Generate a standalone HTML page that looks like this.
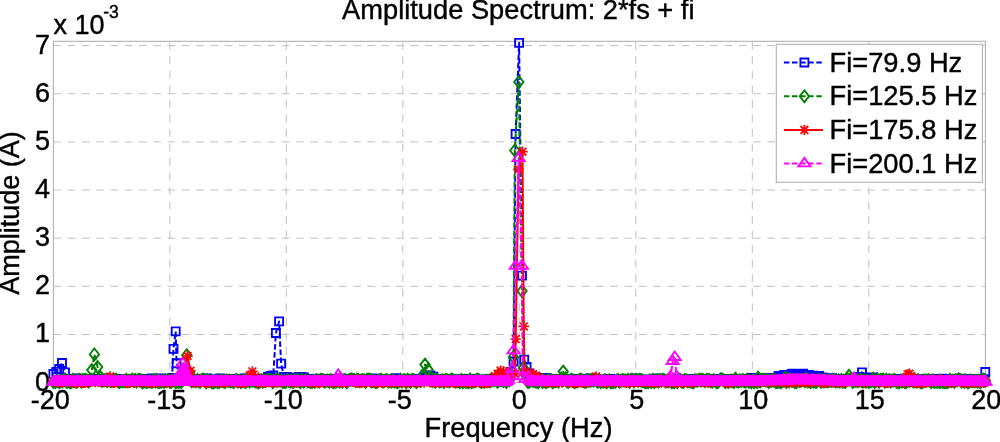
<!DOCTYPE html>
<html lang="en"><head><meta charset="utf-8"><title>Amplitude Spectrum: 2*fs + fi</title>
<style>html,body{margin:0;padding:0;background:#fff;overflow:hidden}svg{display:block}text{font-family:"Liberation Sans",Arial,Helvetica,sans-serif;fill:#000;stroke:#000;stroke-width:0.4px}</style></head><body>
<svg width="1000" height="442" viewBox="0 0 1000 442">
<rect x="0" y="0" width="1000" height="442" fill="#ffffff"/>
<g stroke="#c0c0c0" stroke-width="1" stroke-dasharray="7.8 6.72" fill="none">
<line x1="169.8" y1="41.9" x2="169.8" y2="382.6"/>
<line x1="286.3" y1="41.9" x2="286.3" y2="382.6"/>
<line x1="402.8" y1="41.9" x2="402.8" y2="382.6"/>
<line x1="519.3" y1="41.9" x2="519.3" y2="382.6"/>
<line x1="635.8" y1="41.9" x2="635.8" y2="382.6"/>
<line x1="752.3" y1="41.9" x2="752.3" y2="382.6"/>
<line x1="868.8" y1="41.9" x2="868.8" y2="382.6"/>
</g>
<g stroke="#c0c0c0" stroke-width="1" stroke-dasharray="7.6 6.68" fill="none">
<line x1="53.4" y1="334.5" x2="985.4" y2="334.5"/>
<line x1="53.4" y1="286.3" x2="985.4" y2="286.3"/>
<line x1="53.4" y1="238.2" x2="985.4" y2="238.2"/>
<line x1="53.4" y1="190" x2="985.4" y2="190"/>
<line x1="53.4" y1="141.9" x2="985.4" y2="141.9"/>
<line x1="53.4" y1="93.7" x2="985.4" y2="93.7"/>
<line x1="53.4" y1="45.6" x2="985.4" y2="45.6"/>
</g>
<rect x="53.4" y="41.3" width="932" height="341.3" fill="none" stroke="#b2b2b2" stroke-width="1.1"/>
<text x="50" y="390.5" font-size="27" text-anchor="end">0</text>
<text x="50" y="342.4" font-size="27" text-anchor="end">1</text>
<text x="50" y="294.2" font-size="27" text-anchor="end">2</text>
<text x="50" y="246.1" font-size="27" text-anchor="end">3</text>
<text x="50" y="198" font-size="27" text-anchor="end">4</text>
<text x="50" y="149.8" font-size="27" text-anchor="end">5</text>
<text x="50" y="101.7" font-size="27" text-anchor="end">6</text>
<text x="50" y="53.6" font-size="27" text-anchor="end">7</text>
<text x="50.3" y="409.1" font-size="27" text-anchor="middle">-20</text>
<text x="166.8" y="409.1" font-size="27" text-anchor="middle">-15</text>
<text x="283.3" y="409.1" font-size="27" text-anchor="middle">-10</text>
<text x="399.8" y="409.1" font-size="27" text-anchor="middle">-5</text>
<text x="519.3" y="409.1" font-size="27" text-anchor="middle">0</text>
<text x="636.8" y="409.1" font-size="27" text-anchor="middle">5</text>
<text x="753.3" y="409.1" font-size="27" text-anchor="middle">10</text>
<text x="869.8" y="409.1" font-size="27" text-anchor="middle">15</text>
<text x="986.3" y="409.1" font-size="27" text-anchor="middle">20</text>
<g id="s1">
<path d="M53.4 373.8L56.3 371.8L59.2 369L62 363L65 372.4L66.5 379.5L67.9 379L69.4 378.9L70.8 379.2L72.3 380L73.7 379.8L75.2 379.3L76.6 378.3L78.1 380L79.5 379.9L81 380L82.4 379.1L83.9 379.4L85.3 379.5L86.8 379.9L88.2 378.9L89.7 379L91.1 378.9L92.6 379L94 380L95.5 378.9L96.9 378.8L98.4 378.8L99.8 379.2L101.3 379.9L102.7 380L104.2 379.5L105.6 379.2L107.1 380.2L108.5 379.1L110 379.5L111.4 380.1L112.9 379.9L114.3 379.4L115.8 379L117.2 380.2L118.7 378.8L120.1 379.4L121.6 379.2L123 379L124.5 380.1L125.9 379.2L127.4 379L128.8 379.5L130.3 379.1L131.7 379.9L133.2 379.5L134.6 380.1L136.1 379.6L137.5 379.2L139 380.1L140.4 380L141.9 379.5L143.3 379.5L144.8 378.8L146.2 379.7L147.6 380.2L149.1 379.2L150.5 379.2L152 378.3L153.4 379.7L154.9 380L156.3 379.2L157.8 378.9L159.2 379.2L160.7 378.5L162.1 380.1L163.6 380L165 379.3L166.5 379.2L167.9 379L169.4 379.2L170.8 379.4L172 378L173.5 348.8L175.7 331.4L176.6 363.2L179.2 378L181 378.9L182.4 379.9L183.9 379.9L185.3 379.8L186.8 378.9L188.2 379.8L189.7 379.5L191.1 378.9L192.6 380.2L194 379.9L195.5 379.2L196.9 378.9L198.4 379.2L199.8 380.1L201.3 379.4L202.7 379.1L204.2 379.5L205.6 380L207.1 378.4L208.5 379.3L210 380L211.4 379.2L212.9 379.3L214.3 380L215.8 379.5L217.2 379.9L218.7 379.2L220.1 378.4L221.6 379.2L223 379.2L224.5 379.1L225.9 380.2L227.4 379.3L228.8 380L230.3 379.3L231.7 379L233.2 379.2L234.6 380L236.1 380.1L237.5 380.1L239 379L240.4 379.8L241.9 378.9L243.3 379.2L244.8 378.5L246.2 379.4L247.7 380L249.1 379.8L250.6 379.4L252 378.8L253.5 379.9L254.9 379.2L256.4 379.2L257.8 379.4L259.3 379.1L260.7 379.4L262.2 380.1L263.6 378.8L265.1 378.8L266.5 380.1L268 377L270.6 375.8L273.3 375.4L275.9 333L279.1 321.4L281.1 363.6L284 376.8L286.9 377L289.5 378L291.2 379.1L292.6 379.6L294.1 379.1L295.5 379.5L296.5 377.6L299 377L301.5 376.8L304 377.4L305.7 379.5L307.1 378.9L308.6 379.2L310 379.4L311.5 379.8L312.9 379.9L314.4 378.8L315.8 379.7L317.3 379.5L318.7 380.2L320.2 378.7L321.6 380L323.1 380L324.5 379.5L326 379.6L327.4 379L328.9 379.4L330.3 378.9L331.8 379.9L333.2 379L334.7 378.9L336.1 379.1L337.6 380L339 380.2L340.5 379.9L341.9 379L343.4 379.5L344.8 379.1L346.3 380.1L347.7 379.7L349.2 380L350.6 379.9L352.1 379.9L353.5 379.9L355 379.7L356.4 379.7L357.9 379.1L359.3 378.9L360.8 379.1L362.2 379.1L363.7 379.9L365.1 379.6L366.6 379.8L368 379.4L369.5 379.6L370.9 379.5L372.4 378.5L373.8 380L375.3 379.1L376.7 379.8L378.2 379.6L379.6 379.7L381.1 379.2L382.5 379.3L384 379.7L385.4 380L386.9 379.6L388.3 380.1L389.8 379.3L391.2 379.7L392.7 379.3L394.1 380L395.6 378.2L397 379.7L398.5 379.1L399.9 379.2L401.4 379.5L402.8 379.4L404.3 379.1L405.7 378.8L407.2 379.5L408.6 379.3L410.1 379.1L411.5 378.9L413 379.3L414.4 379.9L415.9 379.3L417.3 379.9L418.8 379L420.2 379.4L421.7 380L423.1 380L424.6 377.4L427.5 376.4L430.4 375.4L433.3 376.6L434.7 379.1L436.2 380L437.6 379.7L439.1 379.7L440.5 379.4L442 379.9L443.4 379.6L444.9 378.9L446.3 379.7L447.8 379.1L449.2 380.2L450.7 378.8L452.1 379.2L453.6 379.1L455 379.9L456.5 379.1L457.9 379.9L459.4 380L460.8 379.2L462.3 379.2L463.7 379.7L465.2 378.9L466.6 380L468.1 379.7L469.5 379.9L471 379L472.4 380.1L473.9 379.5L475.3 379.2L476.8 379.5L478.2 379.3L479.7 380L481.1 379.7L482.6 380.1L484 379.5L485.5 379.3L486.9 379.4L488.4 379.9L489.8 380.1L491.3 379.1L492.7 379.6L494.2 378.5L495.6 379.4L497.1 379L498.5 378.7L500 378.4L501.4 378.4L502.9 377.9L504.3 377.2L505.8 376.7L507.5 376.5L510.6 372L513.6 361.5L515.6 134L519.1 42.9L522 275.6L524.2 359.6L526.6 367L529.5 373.5L530.4 377.3L531.9 377.1L533.3 377.1L534.8 377.9L536.2 377.6L537.7 377.9L539.1 378.5L540.6 379L542 378.8L543.5 378.6L544.9 379.7L546.4 377.9L547.8 379.1L549.3 379.9L550.7 379L552.2 379.4L553.6 379.4L555.1 379.7L556.5 379L558 379.2L559.4 378.9L560.9 378.9L562.3 379.2L563.8 379.2L565.2 379L566.7 378.9L568.1 380L569.6 380L571 379.5L572.5 379.8L573.9 379.4L575.4 379L576.8 379.4L578.3 379.2L579.7 380.2L581.2 378.9L582.6 379.9L584.1 379.5L585.5 379.6L587 379L588.4 379.1L589.9 378.5L591.3 379.9L592.8 378.8L594.2 379.1L595.7 379.2L597.1 379.8L598.6 379.3L600 379.5L601.5 380.2L602.9 379.9L604.4 379.6L605.9 380L607.3 379.5L608.8 379.6L610.2 379L611.7 380L613.1 379.3L614.6 379.9L616 379.5L617.5 379.7L618.9 379.4L620.4 379.7L621.8 379.7L623.3 380.1L624.7 380.1L626.2 379.6L627.6 379.5L629.1 379.4L630.5 380L632 379.8L633.4 379.2L634.9 379.3L636.3 379.5L637.8 378.3L639.2 379.4L640.7 379.8L642.1 379.7L643.6 379.8L645 380.1L646.5 379.6L647.9 379.9L649.4 379.4L650.8 379.3L652.3 379.4L653.7 379.6L655.2 380L656.6 378.3L658.1 379.6L659.5 379.3L661 379.7L662.4 379.6L663.9 379.4L665.3 379.9L666.8 379.5L668.2 380.2L669.7 379.5L671.1 379.6L672.6 379.4L674 379.2L675.5 379.5L676.9 380.2L678.4 379.9L679.8 380L681.3 379.9L682.7 379.2L684.2 379.4L685.6 380.1L687.1 380.1L688.5 379.2L690 379.1L691.4 380L692.9 379.3L694.3 379L695.8 379L697.2 379.2L698.7 379L700.1 379L701.6 379.3L703 380.1L704.5 379.8L705.9 379.1L707.4 379.5L708.8 379.7L710.3 379L711.7 379.6L713.2 379.2L714.6 379.4L716.1 379L717.5 379.3L719 380L720.4 380.1L721.9 379L723.3 379.2L724.8 379.8L726.2 378.8L727.7 380L729.1 379.9L730.6 379.8L732 378.9L733.5 379.8L734.9 379.8L736.4 379.3L737.8 380.1L739.3 379.3L740.7 379.8L742.2 379.4L743.6 379L745.1 379.8L746.5 379.8L748 378.8L749.4 378.9L750.9 378L752.3 380.1L753.8 378.9L755.2 379.5L756.7 378.1L758.1 379.3L759.6 379.6L761 378.8L762.5 378.1L763.9 379.4L765.4 378.6L766.8 378.7L768.3 378.3L769.7 378.8L771.2 378L772.6 378.6L774.1 377.9L775.5 377.8L777 377.9L778.4 376.1L779.9 375.9L781.3 377.4L782.8 376.3L784.2 374.8L785.7 377.1L787.1 376.1L788.6 376.3L790 375L791.5 373.9L792.9 373.6L794.4 375.3L795.8 374.7L797.3 374.2L798.7 376.1L800.2 374.3L801.6 374.5L803.1 373.6L804.5 376L806 376.3L807.4 375.3L808.9 375L810.3 376.8L811.8 375.7L813.2 375.6L814.7 376.8L816.1 376.3L817.6 377.5L819 376L820.5 378L821.9 377.4L823.4 377.7L824.8 378.5L826.3 379L827.7 378.5L829.2 378.1L830.6 378.7L832.1 378.2L833.5 378.8L835 379.3L836.4 379.3L837.9 379L839.3 379.3L840.8 378.8L842.2 378.9L843.7 379.7L845.1 379.9L846.6 379.9L848 379.8L849.5 378.8L850.9 379.5L852.4 380.1L853.8 379.8L855.3 379.9L856.7 379.6L858.2 379.8L859.2 377L862 372.4L864.9 377.5L866.9 379L868.3 378.8L869.8 379.7L871.2 380.1L873 377.4L874.1 380.1L875.6 379.2L877 379.7L878.5 379L879.9 380L881.4 379L882.8 380L884.3 380L885.7 378.8L887.2 379L888.6 378.9L890.1 380L891.5 379.5L893 380.2L894.4 379L895.9 379.8L897.3 380.1L898.8 379.8L900.2 378.9L901.7 378.8L903.1 379.8L904.6 379.2L906 379.4L907.5 380.1L908.9 379.1L910.4 378.9L911.8 379.2L913.3 379.5L914.7 379.8L916.2 379.7L917.6 379.1L919.1 379.8L920.5 380.1L922 379.1L923.4 380L924.9 380L926.3 378.9L927.8 378.9L929.2 379.5L930.7 379.3L932.1 379.2L933.6 379.8L935 378.9L936.5 379.9L937.9 379.3L939.4 379.9L940.8 379.1L942.3 378.6L943.7 380.1L945.2 379.4L946.6 379.4L948.1 379.8L949.5 379.9L951 379.9L952.4 378.9L953.9 379.8L955.3 380L956.8 380.2L958.2 380L959.7 379.2L961.1 378.6L962.6 379.6L964 379.3L965.5 379.3L966.9 379.9L968.4 379.7L969.8 378.9L971.3 379.9L972.7 379.1L974.2 378.9L975.6 379.7L977.1 378.9L978.5 379.1L980 380.1L981.4 380.2L982.9 379.1L984.3 379.4L985.3 372" fill="none" stroke="#0000ff" stroke-width="2.0" stroke-linejoin="round" stroke-dasharray="5.5 2.6"/>
<path d="M49.4 369.8h8v8h-8zM52.3 367.8h8v8h-8zM55.2 365h8v8h-8zM58 359h8v8h-8zM61 368.4h8v8h-8zM62.5 375.5h8v8h-8zM63.9 375h8v8h-8zM65.4 374.9h8v8h-8zM66.8 375.2h8v8h-8zM68.3 376h8v8h-8zM69.7 375.8h8v8h-8zM71.2 375.3h8v8h-8zM72.6 374.3h8v8h-8zM74.1 376h8v8h-8zM75.5 375.9h8v8h-8zM77 376h8v8h-8zM78.4 375.1h8v8h-8zM79.9 375.4h8v8h-8zM81.3 375.5h8v8h-8zM82.8 375.9h8v8h-8zM84.2 374.9h8v8h-8zM85.7 375h8v8h-8zM87.1 374.9h8v8h-8zM88.6 375h8v8h-8zM90 376h8v8h-8zM91.5 374.9h8v8h-8zM92.9 374.8h8v8h-8zM94.4 374.8h8v8h-8zM95.8 375.2h8v8h-8zM97.3 375.9h8v8h-8zM98.7 376h8v8h-8zM100.2 375.5h8v8h-8zM101.6 375.2h8v8h-8zM103.1 376.2h8v8h-8zM104.5 375.1h8v8h-8zM106 375.5h8v8h-8zM107.4 376.1h8v8h-8zM108.9 375.9h8v8h-8zM110.3 375.4h8v8h-8zM111.8 375h8v8h-8zM113.2 376.2h8v8h-8zM114.7 374.8h8v8h-8zM116.1 375.4h8v8h-8zM117.6 375.2h8v8h-8zM119 375h8v8h-8zM120.5 376.1h8v8h-8zM121.9 375.2h8v8h-8zM123.4 375h8v8h-8zM124.8 375.5h8v8h-8zM126.3 375.1h8v8h-8zM127.7 375.9h8v8h-8zM129.2 375.5h8v8h-8zM130.6 376.1h8v8h-8zM132.1 375.6h8v8h-8zM133.5 375.2h8v8h-8zM135 376.1h8v8h-8zM136.4 376h8v8h-8zM137.9 375.5h8v8h-8zM139.3 375.5h8v8h-8zM140.8 374.8h8v8h-8zM142.2 375.7h8v8h-8zM143.6 376.2h8v8h-8zM145.1 375.2h8v8h-8zM146.5 375.2h8v8h-8zM148 374.3h8v8h-8zM149.4 375.7h8v8h-8zM150.9 376h8v8h-8zM152.3 375.2h8v8h-8zM153.8 374.9h8v8h-8zM155.2 375.2h8v8h-8zM156.7 374.5h8v8h-8zM158.1 376.1h8v8h-8zM159.6 376h8v8h-8zM161 375.3h8v8h-8zM162.5 375.2h8v8h-8zM163.9 375h8v8h-8zM165.4 375.2h8v8h-8zM166.8 375.4h8v8h-8zM168 374h8v8h-8zM169.5 344.8h8v8h-8zM171.7 327.4h8v8h-8zM172.6 359.2h8v8h-8zM175.2 374h8v8h-8zM177 374.9h8v8h-8zM178.4 375.9h8v8h-8zM179.9 375.9h8v8h-8zM181.3 375.8h8v8h-8zM182.8 374.9h8v8h-8zM184.2 375.8h8v8h-8zM185.7 375.5h8v8h-8zM187.1 374.9h8v8h-8zM188.6 376.2h8v8h-8zM190 375.9h8v8h-8zM191.5 375.2h8v8h-8zM192.9 374.9h8v8h-8zM194.4 375.2h8v8h-8zM195.8 376.1h8v8h-8zM197.3 375.4h8v8h-8zM198.7 375.1h8v8h-8zM200.2 375.5h8v8h-8zM201.6 376h8v8h-8zM203.1 374.4h8v8h-8zM204.5 375.3h8v8h-8zM206 376h8v8h-8zM207.4 375.2h8v8h-8zM208.9 375.3h8v8h-8zM210.3 376h8v8h-8zM211.8 375.5h8v8h-8zM213.2 375.9h8v8h-8zM214.7 375.2h8v8h-8zM216.1 374.4h8v8h-8zM217.6 375.2h8v8h-8zM219 375.2h8v8h-8zM220.5 375.1h8v8h-8zM221.9 376.2h8v8h-8zM223.4 375.3h8v8h-8zM224.8 376h8v8h-8zM226.3 375.3h8v8h-8zM227.7 375h8v8h-8zM229.2 375.2h8v8h-8zM230.6 376h8v8h-8zM232.1 376.1h8v8h-8zM233.5 376.1h8v8h-8zM235 375h8v8h-8zM236.4 375.8h8v8h-8zM237.9 374.9h8v8h-8zM239.3 375.2h8v8h-8zM240.8 374.5h8v8h-8zM242.2 375.4h8v8h-8zM243.7 376h8v8h-8zM245.1 375.8h8v8h-8zM246.6 375.4h8v8h-8zM248 374.8h8v8h-8zM249.5 375.9h8v8h-8zM250.9 375.2h8v8h-8zM252.4 375.2h8v8h-8zM253.8 375.4h8v8h-8zM255.3 375.1h8v8h-8zM256.7 375.4h8v8h-8zM258.2 376.1h8v8h-8zM259.6 374.8h8v8h-8zM261.1 374.8h8v8h-8zM262.5 376.1h8v8h-8zM264 373h8v8h-8zM266.6 371.8h8v8h-8zM269.3 371.4h8v8h-8zM271.9 329h8v8h-8zM275.1 317.4h8v8h-8zM277.1 359.6h8v8h-8zM280 372.8h8v8h-8zM282.9 373h8v8h-8zM285.5 374h8v8h-8zM287.2 375.1h8v8h-8zM288.6 375.6h8v8h-8zM290.1 375.1h8v8h-8zM291.5 375.5h8v8h-8zM292.5 373.6h8v8h-8zM295 373h8v8h-8zM297.5 372.8h8v8h-8zM300 373.4h8v8h-8zM301.7 375.5h8v8h-8zM303.1 374.9h8v8h-8zM304.6 375.2h8v8h-8zM306 375.4h8v8h-8zM307.5 375.8h8v8h-8zM308.9 375.9h8v8h-8zM310.4 374.8h8v8h-8zM311.8 375.7h8v8h-8zM313.3 375.5h8v8h-8zM314.7 376.2h8v8h-8zM316.2 374.7h8v8h-8zM317.6 376h8v8h-8zM319.1 376h8v8h-8zM320.5 375.5h8v8h-8zM322 375.6h8v8h-8zM323.4 375h8v8h-8zM324.9 375.4h8v8h-8zM326.3 374.9h8v8h-8zM327.8 375.9h8v8h-8zM329.2 375h8v8h-8zM330.7 374.9h8v8h-8zM332.1 375.1h8v8h-8zM333.6 376h8v8h-8zM335 376.2h8v8h-8zM336.5 375.9h8v8h-8zM337.9 375h8v8h-8zM339.4 375.5h8v8h-8zM340.8 375.1h8v8h-8zM342.3 376.1h8v8h-8zM343.7 375.7h8v8h-8zM345.2 376h8v8h-8zM346.6 375.9h8v8h-8zM348.1 375.9h8v8h-8zM349.5 375.9h8v8h-8zM351 375.7h8v8h-8zM352.4 375.7h8v8h-8zM353.9 375.1h8v8h-8zM355.3 374.9h8v8h-8zM356.8 375.1h8v8h-8zM358.2 375.1h8v8h-8zM359.7 375.9h8v8h-8zM361.1 375.6h8v8h-8zM362.6 375.8h8v8h-8zM364 375.4h8v8h-8zM365.5 375.6h8v8h-8zM366.9 375.5h8v8h-8zM368.4 374.5h8v8h-8zM369.8 376h8v8h-8zM371.3 375.1h8v8h-8zM372.7 375.8h8v8h-8zM374.2 375.6h8v8h-8zM375.6 375.7h8v8h-8zM377.1 375.2h8v8h-8zM378.5 375.3h8v8h-8zM380 375.7h8v8h-8zM381.4 376h8v8h-8zM382.9 375.6h8v8h-8zM384.3 376.1h8v8h-8zM385.8 375.3h8v8h-8zM387.2 375.7h8v8h-8zM388.7 375.3h8v8h-8zM390.1 376h8v8h-8zM391.6 374.2h8v8h-8zM393 375.7h8v8h-8zM394.5 375.1h8v8h-8zM395.9 375.2h8v8h-8zM397.4 375.5h8v8h-8zM398.8 375.4h8v8h-8zM400.3 375.1h8v8h-8zM401.7 374.8h8v8h-8zM403.2 375.5h8v8h-8zM404.6 375.3h8v8h-8zM406.1 375.1h8v8h-8zM407.5 374.9h8v8h-8zM409 375.3h8v8h-8zM410.4 375.9h8v8h-8zM411.9 375.3h8v8h-8zM413.3 375.9h8v8h-8zM414.8 375h8v8h-8zM416.2 375.4h8v8h-8zM417.7 376h8v8h-8zM419.1 376h8v8h-8zM420.6 373.4h8v8h-8zM423.5 372.4h8v8h-8zM426.4 371.4h8v8h-8zM429.3 372.6h8v8h-8zM430.7 375.1h8v8h-8zM432.2 376h8v8h-8zM433.6 375.7h8v8h-8zM435.1 375.7h8v8h-8zM436.5 375.4h8v8h-8zM438 375.9h8v8h-8zM439.4 375.6h8v8h-8zM440.9 374.9h8v8h-8zM442.3 375.7h8v8h-8zM443.8 375.1h8v8h-8zM445.2 376.2h8v8h-8zM446.7 374.8h8v8h-8zM448.1 375.2h8v8h-8zM449.6 375.1h8v8h-8zM451 375.9h8v8h-8zM452.5 375.1h8v8h-8zM453.9 375.9h8v8h-8zM455.4 376h8v8h-8zM456.8 375.2h8v8h-8zM458.3 375.2h8v8h-8zM459.7 375.7h8v8h-8zM461.2 374.9h8v8h-8zM462.6 376h8v8h-8zM464.1 375.7h8v8h-8zM465.5 375.9h8v8h-8zM467 375h8v8h-8zM468.4 376.1h8v8h-8zM469.9 375.5h8v8h-8zM471.3 375.2h8v8h-8zM472.8 375.5h8v8h-8zM474.2 375.3h8v8h-8zM475.7 376h8v8h-8zM477.1 375.7h8v8h-8zM478.6 376.1h8v8h-8zM480 375.5h8v8h-8zM481.5 375.3h8v8h-8zM482.9 375.4h8v8h-8zM484.4 375.9h8v8h-8zM485.8 376.1h8v8h-8zM487.3 375.1h8v8h-8zM488.7 375.6h8v8h-8zM490.2 374.5h8v8h-8zM491.6 375.4h8v8h-8zM493.1 375h8v8h-8zM494.5 374.7h8v8h-8zM496 374.4h8v8h-8zM497.4 374.4h8v8h-8zM498.9 373.9h8v8h-8zM500.3 373.2h8v8h-8zM501.8 372.7h8v8h-8zM503.5 372.5h8v8h-8zM506.6 368h8v8h-8zM509.6 357.5h8v8h-8zM511.6 130h8v8h-8zM515.1 38.9h8v8h-8zM518 271.6h8v8h-8zM520.2 355.6h8v8h-8zM522.6 363h8v8h-8zM525.5 369.5h8v8h-8zM526.4 373.3h8v8h-8zM527.9 373.1h8v8h-8zM529.3 373.1h8v8h-8zM530.8 373.9h8v8h-8zM532.2 373.6h8v8h-8zM533.7 373.9h8v8h-8zM535.1 374.5h8v8h-8zM536.6 375h8v8h-8zM538 374.8h8v8h-8zM539.5 374.6h8v8h-8zM540.9 375.7h8v8h-8zM542.4 373.9h8v8h-8zM543.8 375.1h8v8h-8zM545.3 375.9h8v8h-8zM546.7 375h8v8h-8zM548.2 375.4h8v8h-8zM549.6 375.4h8v8h-8zM551.1 375.7h8v8h-8zM552.5 375h8v8h-8zM554 375.2h8v8h-8zM555.4 374.9h8v8h-8zM556.9 374.9h8v8h-8zM558.3 375.2h8v8h-8zM559.8 375.2h8v8h-8zM561.2 375h8v8h-8zM562.7 374.9h8v8h-8zM564.1 376h8v8h-8zM565.6 376h8v8h-8zM567 375.5h8v8h-8zM568.5 375.8h8v8h-8zM569.9 375.4h8v8h-8zM571.4 375h8v8h-8zM572.8 375.4h8v8h-8zM574.3 375.2h8v8h-8zM575.7 376.2h8v8h-8zM577.2 374.9h8v8h-8zM578.6 375.9h8v8h-8zM580.1 375.5h8v8h-8zM581.5 375.6h8v8h-8zM583 375h8v8h-8zM584.4 375.1h8v8h-8zM585.9 374.5h8v8h-8zM587.3 375.9h8v8h-8zM588.8 374.8h8v8h-8zM590.2 375.1h8v8h-8zM591.7 375.2h8v8h-8zM593.1 375.8h8v8h-8zM594.6 375.3h8v8h-8zM596 375.5h8v8h-8zM597.5 376.2h8v8h-8zM598.9 375.9h8v8h-8zM600.4 375.6h8v8h-8zM601.9 376h8v8h-8zM603.3 375.5h8v8h-8zM604.8 375.6h8v8h-8zM606.2 375h8v8h-8zM607.7 376h8v8h-8zM609.1 375.3h8v8h-8zM610.6 375.9h8v8h-8zM612 375.5h8v8h-8zM613.5 375.7h8v8h-8zM614.9 375.4h8v8h-8zM616.4 375.7h8v8h-8zM617.8 375.7h8v8h-8zM619.3 376.1h8v8h-8zM620.7 376.1h8v8h-8zM622.2 375.6h8v8h-8zM623.6 375.5h8v8h-8zM625.1 375.4h8v8h-8zM626.5 376h8v8h-8zM628 375.8h8v8h-8zM629.4 375.2h8v8h-8zM630.9 375.3h8v8h-8zM632.3 375.5h8v8h-8zM633.8 374.3h8v8h-8zM635.2 375.4h8v8h-8zM636.7 375.8h8v8h-8zM638.1 375.7h8v8h-8zM639.6 375.8h8v8h-8zM641 376.1h8v8h-8zM642.5 375.6h8v8h-8zM643.9 375.9h8v8h-8zM645.4 375.4h8v8h-8zM646.8 375.3h8v8h-8zM648.3 375.4h8v8h-8zM649.7 375.6h8v8h-8zM651.2 376h8v8h-8zM652.6 374.3h8v8h-8zM654.1 375.6h8v8h-8zM655.5 375.3h8v8h-8zM657 375.7h8v8h-8zM658.4 375.6h8v8h-8zM659.9 375.4h8v8h-8zM661.3 375.9h8v8h-8zM662.8 375.5h8v8h-8zM664.2 376.2h8v8h-8zM665.7 375.5h8v8h-8zM667.1 375.6h8v8h-8zM668.6 375.4h8v8h-8zM670 375.2h8v8h-8zM671.5 375.5h8v8h-8zM672.9 376.2h8v8h-8zM674.4 375.9h8v8h-8zM675.8 376h8v8h-8zM677.3 375.9h8v8h-8zM678.7 375.2h8v8h-8zM680.2 375.4h8v8h-8zM681.6 376.1h8v8h-8zM683.1 376.1h8v8h-8zM684.5 375.2h8v8h-8zM686 375.1h8v8h-8zM687.4 376h8v8h-8zM688.9 375.3h8v8h-8zM690.3 375h8v8h-8zM691.8 375h8v8h-8zM693.2 375.2h8v8h-8zM694.7 375h8v8h-8zM696.1 375h8v8h-8zM697.6 375.3h8v8h-8zM699 376.1h8v8h-8zM700.5 375.8h8v8h-8zM701.9 375.1h8v8h-8zM703.4 375.5h8v8h-8zM704.8 375.7h8v8h-8zM706.3 375h8v8h-8zM707.7 375.6h8v8h-8zM709.2 375.2h8v8h-8zM710.6 375.4h8v8h-8zM712.1 375h8v8h-8zM713.5 375.3h8v8h-8zM715 376h8v8h-8zM716.4 376.1h8v8h-8zM717.9 375h8v8h-8zM719.3 375.2h8v8h-8zM720.8 375.8h8v8h-8zM722.2 374.8h8v8h-8zM723.7 376h8v8h-8zM725.1 375.9h8v8h-8zM726.6 375.8h8v8h-8zM728 374.9h8v8h-8zM729.5 375.8h8v8h-8zM730.9 375.8h8v8h-8zM732.4 375.3h8v8h-8zM733.8 376.1h8v8h-8zM735.3 375.3h8v8h-8zM736.7 375.8h8v8h-8zM738.2 375.4h8v8h-8zM739.6 375h8v8h-8zM741.1 375.8h8v8h-8zM742.5 375.8h8v8h-8zM744 374.8h8v8h-8zM745.4 374.9h8v8h-8zM746.9 374h8v8h-8zM748.3 376.1h8v8h-8zM749.8 374.9h8v8h-8zM751.2 375.5h8v8h-8zM752.7 374.1h8v8h-8zM754.1 375.3h8v8h-8zM755.6 375.6h8v8h-8zM757 374.8h8v8h-8zM758.5 374.1h8v8h-8zM759.9 375.4h8v8h-8zM761.4 374.6h8v8h-8zM762.8 374.7h8v8h-8zM764.3 374.3h8v8h-8zM765.7 374.8h8v8h-8zM767.2 374h8v8h-8zM768.6 374.6h8v8h-8zM770.1 373.9h8v8h-8zM771.5 373.8h8v8h-8zM773 373.9h8v8h-8zM774.4 372.1h8v8h-8zM775.9 371.9h8v8h-8zM777.3 373.4h8v8h-8zM778.8 372.3h8v8h-8zM780.2 370.8h8v8h-8zM781.7 373.1h8v8h-8zM783.1 372.1h8v8h-8zM784.6 372.3h8v8h-8zM786 371h8v8h-8zM787.5 369.9h8v8h-8zM788.9 369.6h8v8h-8zM790.4 371.3h8v8h-8zM791.8 370.7h8v8h-8zM793.3 370.2h8v8h-8zM794.7 372.1h8v8h-8zM796.2 370.3h8v8h-8zM797.6 370.5h8v8h-8zM799.1 369.6h8v8h-8zM800.5 372h8v8h-8zM802 372.3h8v8h-8zM803.4 371.3h8v8h-8zM804.9 371h8v8h-8zM806.3 372.8h8v8h-8zM807.8 371.7h8v8h-8zM809.2 371.6h8v8h-8zM810.7 372.8h8v8h-8zM812.1 372.3h8v8h-8zM813.6 373.5h8v8h-8zM815 372h8v8h-8zM816.5 374h8v8h-8zM817.9 373.4h8v8h-8zM819.4 373.7h8v8h-8zM820.8 374.5h8v8h-8zM822.3 375h8v8h-8zM823.7 374.5h8v8h-8zM825.2 374.1h8v8h-8zM826.6 374.7h8v8h-8zM828.1 374.2h8v8h-8zM829.5 374.8h8v8h-8zM831 375.3h8v8h-8zM832.4 375.3h8v8h-8zM833.9 375h8v8h-8zM835.3 375.3h8v8h-8zM836.8 374.8h8v8h-8zM838.2 374.9h8v8h-8zM839.7 375.7h8v8h-8zM841.1 375.9h8v8h-8zM842.6 375.9h8v8h-8zM844 375.8h8v8h-8zM845.5 374.8h8v8h-8zM846.9 375.5h8v8h-8zM848.4 376.1h8v8h-8zM849.8 375.8h8v8h-8zM851.3 375.9h8v8h-8zM852.7 375.6h8v8h-8zM854.2 375.8h8v8h-8zM855.2 373h8v8h-8zM858 368.4h8v8h-8zM860.9 373.5h8v8h-8zM862.9 375h8v8h-8zM864.3 374.8h8v8h-8zM865.8 375.7h8v8h-8zM867.2 376.1h8v8h-8zM869 373.4h8v8h-8zM870.1 376.1h8v8h-8zM871.6 375.2h8v8h-8zM873 375.7h8v8h-8zM874.5 375h8v8h-8zM875.9 376h8v8h-8zM877.4 375h8v8h-8zM878.8 376h8v8h-8zM880.3 376h8v8h-8zM881.7 374.8h8v8h-8zM883.2 375h8v8h-8zM884.6 374.9h8v8h-8zM886.1 376h8v8h-8zM887.5 375.5h8v8h-8zM889 376.2h8v8h-8zM890.4 375h8v8h-8zM891.9 375.8h8v8h-8zM893.3 376.1h8v8h-8zM894.8 375.8h8v8h-8zM896.2 374.9h8v8h-8zM897.7 374.8h8v8h-8zM899.1 375.8h8v8h-8zM900.6 375.2h8v8h-8zM902 375.4h8v8h-8zM903.5 376.1h8v8h-8zM904.9 375.1h8v8h-8zM906.4 374.9h8v8h-8zM907.8 375.2h8v8h-8zM909.3 375.5h8v8h-8zM910.7 375.8h8v8h-8zM912.2 375.7h8v8h-8zM913.6 375.1h8v8h-8zM915.1 375.8h8v8h-8zM916.5 376.1h8v8h-8zM918 375.1h8v8h-8zM919.4 376h8v8h-8zM920.9 376h8v8h-8zM922.3 374.9h8v8h-8zM923.8 374.9h8v8h-8zM925.2 375.5h8v8h-8zM926.7 375.3h8v8h-8zM928.1 375.2h8v8h-8zM929.6 375.8h8v8h-8zM931 374.9h8v8h-8zM932.5 375.9h8v8h-8zM933.9 375.3h8v8h-8zM935.4 375.9h8v8h-8zM936.8 375.1h8v8h-8zM938.3 374.6h8v8h-8zM939.7 376.1h8v8h-8zM941.2 375.4h8v8h-8zM942.6 375.4h8v8h-8zM944.1 375.8h8v8h-8zM945.5 375.9h8v8h-8zM947 375.9h8v8h-8zM948.4 374.9h8v8h-8zM949.9 375.8h8v8h-8zM951.3 376h8v8h-8zM952.8 376.2h8v8h-8zM954.2 376h8v8h-8zM955.7 375.2h8v8h-8zM957.1 374.6h8v8h-8zM958.6 375.6h8v8h-8zM960 375.3h8v8h-8zM961.5 375.3h8v8h-8zM962.9 375.9h8v8h-8zM964.4 375.7h8v8h-8zM965.8 374.9h8v8h-8zM967.3 375.9h8v8h-8zM968.7 375.1h8v8h-8zM970.2 374.9h8v8h-8zM971.6 375.7h8v8h-8zM973.1 374.9h8v8h-8zM974.5 375.1h8v8h-8zM976 376.1h8v8h-8zM977.4 376.2h8v8h-8zM978.9 375.1h8v8h-8zM980.3 375.4h8v8h-8zM981.3 368h8v8h-8z" fill="none" stroke="#0000ff" stroke-width="1.85" stroke-linejoin="miter"/>
</g>
<g id="s2">
<path d="M53.4 382.2L55.4 382.2L56.8 380.4L58.3 381.7L59.7 382.2L61.2 381L62.6 381.3L64.1 379.8L65.5 380.4L67 382L68.4 381.2L69.9 382.3L71.3 382.2L72.8 379.7L74.2 380.9L75.7 381.7L77.1 381.8L78.6 379.8L80 379.9L81.5 381.8L82.9 380L84.4 379.9L85.8 380L87.3 380.6L88.7 381.5L90.2 380.1L91.8 370L94.4 354.4L97.6 367L100.4 377L101.8 381L103.2 380.2L104.7 380.2L106.1 380.3L107.6 381L109 379.6L110.5 381L111.9 381.2L113.4 380.2L114.8 380L116.3 379.7L117.7 381.1L119.2 382.1L120.6 381.2L122.1 381.3L123.5 381.2L125 381.3L126.4 379.7L127.9 381.5L129.3 380.6L130.8 380.9L132.2 379.6L133.7 380.8L135.1 379.8L136.6 381.7L138 380L139.5 380L140.9 380.2L142.4 382.3L143.8 381.8L145.2 381L146.7 382.1L148.1 381.4L149.6 381.4L151 381.8L152.5 381.6L153.9 380.1L155.4 381.5L156.8 380L158.3 382.2L159.7 381.7L161.2 381.8L162.6 380.8L164.1 381.8L165.5 380.4L167 381.1L168.4 379.9L169.9 381.8L171.3 381.9L172.8 380.2L174.2 380.3L175.7 382.1L177.1 381.6L178.6 381.8L180 381.5L181.5 381.9L182.9 379.8L184 372L186.8 355.2L189.7 372.5L191.6 381.3L193.1 380.5L194.5 380.6L196 381.3L197.4 379.8L198.9 381.6L200.3 381.5L201.8 379.9L203.2 379.7L204.7 380.1L206.1 382.3L207.6 380.2L209 381.3L210.5 380.7L211.9 382.3L213.4 382.4L214.8 381.9L216.3 380.8L217.7 382.2L219.2 381.9L220.6 380.6L222.1 381.1L223.5 381L225 382.2L226.4 380.4L227.9 380.8L229.3 380.6L230.8 381.4L232.2 381.1L233.7 382.1L235.1 380.6L236.6 379.8L238 381.5L239.5 380.9L240.9 382.1L242.4 381.2L243.8 380L245.3 382.1L246.7 381.2L248.2 379.7L249.6 381.7L251.1 380.4L252.5 380.4L254 380.8L255.4 381.4L256.9 381.5L258.3 382.3L259.8 381.5L261.2 380.1L262.7 381.9L264.1 380.6L265.6 381L267 380.1L268.5 380.1L269.9 379.7L271.4 380.7L272.8 382.3L274.3 380.5L275.7 380.2L277.2 380.8L278.6 380.3L280.1 380.7L281.5 380.3L283 382.1L284.4 381.9L285.9 381.8L287.3 380L288.8 380.9L290.2 381.5L291.7 380.4L293.1 382.2L294.6 380.4L296 380.3L297.5 379.7L298.9 381.2L300.4 382.2L301.8 379.4L303.3 381.7L304.7 380.8L306.2 379.9L307.6 381.4L309.1 381.4L310.5 381.8L312 382.2L313.4 380.6L314.9 381.9L316.3 380.1L317.8 381.1L319.2 381.5L320.7 380L322.1 379.8L323.6 381L325 381.5L326.5 380.7L327.9 380.4L329.4 381.8L330.8 380L332.3 381.7L333.7 382.1L335.2 381.7L336.6 381.4L338.1 380L339.5 381.6L341 379.4L342.4 381.9L343.9 380.2L345.3 379.9L346.8 382.3L348.2 380.6L349.7 379.8L351.1 379.5L352.6 380L354 379.8L355.5 381.2L356.9 379.7L358.4 379.9L359.8 381.4L361.3 380.5L362.7 380.2L364.2 380.2L365.6 381.9L367.1 379.7L368.5 379.7L370 379.7L371.4 381.6L372.9 380.7L374.3 381.2L375.8 382L377.2 381.9L378.7 380.5L380.1 379.8L381.6 380L383 381.5L384.5 380.9L385.9 380.1L387.4 380.4L388.8 381.7L390.3 380.8L391.7 381.6L393.2 380.3L394.6 381.6L396.1 381.7L397.5 382.2L399 381.3L400.4 379.6L401.9 381.6L403.3 380.3L404.8 380.1L406.2 382.4L407.7 379.7L409.1 380.6L410.6 381.9L412 379.9L413.5 380L414.9 380.9L416.4 382.2L417.8 380.9L419.3 380L420.7 381.2L422.2 376L425 364.6L428 369.6L430.9 377.5L432.3 381.2L433.8 379.6L435.2 381.8L436.7 379.7L438.1 380.6L439.6 381.3L441 381L442.5 380.2L443.9 382.1L445.4 379.9L446.8 380L448.3 380.9L449.7 381.4L451.2 379.6L452.6 379.8L454.1 380.7L455.5 381.6L457 381.4L458.4 380.9L459.9 382.1L461.3 379.8L462.8 382.4L464.2 380.7L465.7 381.9L467.1 381.5L468.6 382.3L470 379.3L471.5 382.2L472.9 381.5L474.4 381.4L475.8 380.3L477.3 379.7L478.7 379.9L480.2 381.6L481.6 381.9L483.1 381L484.5 381.8L486 380.7L487.4 381.2L488.9 381L490.3 381.3L491.8 378.9L493.2 380.4L494.7 379.6L496.1 379.7L497.6 381.9L499 379.9L500.5 380.2L501.9 379.9L503.4 381.1L504.8 379.9L506.3 382L507.7 379.9L509.2 380.4L510.8 374L513.4 357L514.8 150.5L518.8 82L522 291L523.4 368L526.4 376L528 382.2L529.5 381.6L530.9 380.4L532.4 380.5L533.8 380.8L535.3 381.4L536.7 381.7L538.2 382.4L539.6 380.4L541.1 380.4L542.5 382.1L544 380.5L545.4 381.8L546.9 381.8L548.3 379.9L549.8 380.5L551.2 380.6L552.7 382.3L554.1 381.1L555.6 381.1L557 380.7L558.5 381.5L559.9 379.9L561 378.5L563.2 371.6L565.4 378.5L567.2 381.5L568.6 381.7L570.1 380.3L571.5 379.7L573 380.2L574.4 382.3L575.9 381.3L577.3 381.3L578.8 380.3L580.2 379.6L581.7 380L583.1 381L584.6 381.5L586 381.8L587.5 379.9L588.9 380.7L590.4 380.8L591.8 379.9L593.3 380.6L594.7 379.7L596.2 380.2L597.6 381.8L599.1 380.1L600.5 382.1L602 381.4L603.5 381.5L604.9 380L606.4 382.4L607.8 381.4L609.3 380.2L610.7 382L612.2 382.3L613.6 381.6L615.1 381.8L616.5 380.6L618 379.9L619.4 381.8L620.9 380.7L622.3 380.2L623.8 380.2L625.2 380.6L626.7 380.9L628.1 379.7L629.6 381.9L631 379.7L632.5 379.9L633.9 381.6L635.4 379.9L636.8 380.1L638.3 380.8L639.7 379.8L641.2 380.9L642.6 380.8L644.1 381.7L645.5 382L647 382L648.4 382.2L649.9 380.3L651.3 382L652.8 379.8L654.2 382.2L655.7 380.9L657.1 380.5L658.6 381.5L660 379.9L661.5 380.9L662.9 379.6L664.4 380.3L665.8 381.7L667.3 380.3L668.7 381.3L670.2 380L671.6 382.2L673.1 382L674.5 382.1L676 380.2L677.4 382.1L678.9 379.5L680.3 380L681.8 381.7L683.2 382.2L684.7 379.9L686.1 380.3L687.6 381L689 381L690.5 381.3L691.9 381.9L693.4 382.4L694.8 380.2L696.3 380.5L697.7 380.6L699.2 379.7L700.6 380.1L702.1 379.6L703.5 380.3L705 381.2L706.4 380L707.9 379.9L709.3 380L710.8 381.1L712.2 381.7L713.7 380.1L715.1 380.9L716.6 382.1L718 382L719.5 380.4L720.9 379.2L722.4 379.4L723.8 380.4L725.3 382L726.7 381.1L728.2 381.9L729.6 381L731.1 380.3L732.5 381.2L734 382.1L735.4 378.6L736.9 381.2L738.3 381.5L739.8 380.3L741.2 381.1L742.7 379.8L744.1 381.3L745.6 381.5L747 379.6L748.5 381.5L749.9 381.4L751.4 382.3L752.8 380.3L754.3 382.3L755.7 380.7L757.2 382.1L758 377.6L760.1 381.5L761.5 380L763 380.2L764.4 379.7L765.9 380.7L767.3 379.8L768.8 382.2L770.2 380.6L771.7 380.8L773.1 379.8L774.6 380.1L776 382.3L777.5 381.9L778.9 381.4L780.4 382.3L781.8 381.7L783.3 380.3L785 378L786.2 382.1L787.6 379.3L789.1 381.6L790.5 379.5L792 381.2L793.4 380.3L794.9 382.2L796.3 382.2L797.8 380L799.2 381.1L800.7 380.8L802.1 380.2L803.6 380.1L805 381.3L806 378.5L807.9 381.6L809.4 381L810.8 382.2L812.3 379.7L813.7 381.5L815.2 381.6L816.6 381.8L818.1 379.9L819.5 380.1L821 381.9L822.4 380.2L823.9 381.5L825.3 380L826.8 381.2L828.2 381.4L829.7 380.3L831.1 381.1L832.6 379.7L834 380.2L835.5 381.4L836.9 381.3L838.4 380.2L839.8 381.5L841.3 380L842.7 381.8L844.2 381.6L845.6 381.8L847.4 379L849 375.7L850.6 379L851.4 380L852.9 382.1L854.3 380.2L855.8 381L857.2 380.6L858.7 381.1L860.1 379.2L861.6 381L863 381.5L864.5 380.5L865.9 381.6L867.4 380.6L868.8 382.2L870.3 381.3L871.7 380.9L873.2 378.7L874.6 382.1L876.1 380.9L877.5 379.2L879 381.8L880.4 379.8L881.9 379.9L883.3 379.7L884.8 381.8L886.2 379.6L887.7 381.1L889.1 380.1L890.6 381.7L892 380.5L893.5 380.3L894.9 379.9L896.4 381.7L897.8 382.1L899.3 382.3L900.7 380.4L902.2 381.6L903.6 380L905.1 382.3L906.5 381.9L908 380.3L909.4 380.9L910.9 380L912.3 380.5L913.8 381.7L915.2 380.1L916.7 381.9L918.1 379.9L919.6 381.3L921 382.3L922.5 382L923.9 380.3L925.4 380.6L926.8 380.7L928.3 380.2L929.7 380.7L931.2 382.1L932.6 380.3L934.1 381.9L935.5 381.6L937 381.9L938.4 381.4L939.9 382L941.3 381.1L942.8 381.9L944.2 382L945.7 382.1L947.1 382.2L948.6 381.5L950 379.7L951.5 381.1L952.9 380.6L954.4 381.8L955.8 380.2L957.3 380.3L958.7 379.2L960.2 380.1L961.6 381.7L963.1 380.9L964.5 381.8L966 380.5L967.4 382.1L968.9 382.1L970.3 380.5L971.8 381.2L973.2 381.2L974.7 381.1L976.1 380.8L977.6 381.5L979 380.6L980.5 382.3L981.9 379.9L983.4 379.7L985.4 380.8" fill="none" stroke="#007f00" stroke-width="2.0" stroke-linejoin="round" stroke-dasharray="5.5 2.6"/>
<path d="M53.4 376.3l4.7 5.9l-4.7 5.9l-4.7 -5.9zM55.4 376.3l4.7 5.9l-4.7 5.9l-4.7 -5.9zM56.8 374.5l4.7 5.9l-4.7 5.9l-4.7 -5.9zM58.3 375.8l4.7 5.9l-4.7 5.9l-4.7 -5.9zM59.7 376.3l4.7 5.9l-4.7 5.9l-4.7 -5.9zM61.2 375.1l4.7 5.9l-4.7 5.9l-4.7 -5.9zM62.6 375.4l4.7 5.9l-4.7 5.9l-4.7 -5.9zM64.1 373.9l4.7 5.9l-4.7 5.9l-4.7 -5.9zM65.5 374.5l4.7 5.9l-4.7 5.9l-4.7 -5.9zM67 376.1l4.7 5.9l-4.7 5.9l-4.7 -5.9zM68.4 375.3l4.7 5.9l-4.7 5.9l-4.7 -5.9zM69.9 376.4l4.7 5.9l-4.7 5.9l-4.7 -5.9zM71.3 376.3l4.7 5.9l-4.7 5.9l-4.7 -5.9zM72.8 373.8l4.7 5.9l-4.7 5.9l-4.7 -5.9zM74.2 375l4.7 5.9l-4.7 5.9l-4.7 -5.9zM75.7 375.8l4.7 5.9l-4.7 5.9l-4.7 -5.9zM77.1 375.9l4.7 5.9l-4.7 5.9l-4.7 -5.9zM78.6 373.9l4.7 5.9l-4.7 5.9l-4.7 -5.9zM80 374l4.7 5.9l-4.7 5.9l-4.7 -5.9zM81.5 375.9l4.7 5.9l-4.7 5.9l-4.7 -5.9zM82.9 374.1l4.7 5.9l-4.7 5.9l-4.7 -5.9zM84.4 374l4.7 5.9l-4.7 5.9l-4.7 -5.9zM85.8 374.1l4.7 5.9l-4.7 5.9l-4.7 -5.9zM87.3 374.7l4.7 5.9l-4.7 5.9l-4.7 -5.9zM88.7 375.6l4.7 5.9l-4.7 5.9l-4.7 -5.9zM90.2 374.2l4.7 5.9l-4.7 5.9l-4.7 -5.9zM91.8 364.1l4.7 5.9l-4.7 5.9l-4.7 -5.9zM94.4 348.5l4.7 5.9l-4.7 5.9l-4.7 -5.9zM97.6 361.1l4.7 5.9l-4.7 5.9l-4.7 -5.9zM100.4 371.1l4.7 5.9l-4.7 5.9l-4.7 -5.9zM101.8 375.1l4.7 5.9l-4.7 5.9l-4.7 -5.9zM103.2 374.3l4.7 5.9l-4.7 5.9l-4.7 -5.9zM104.7 374.3l4.7 5.9l-4.7 5.9l-4.7 -5.9zM106.1 374.4l4.7 5.9l-4.7 5.9l-4.7 -5.9zM107.6 375.1l4.7 5.9l-4.7 5.9l-4.7 -5.9zM109 373.7l4.7 5.9l-4.7 5.9l-4.7 -5.9zM110.5 375.1l4.7 5.9l-4.7 5.9l-4.7 -5.9zM111.9 375.3l4.7 5.9l-4.7 5.9l-4.7 -5.9zM113.4 374.3l4.7 5.9l-4.7 5.9l-4.7 -5.9zM114.8 374.1l4.7 5.9l-4.7 5.9l-4.7 -5.9zM116.3 373.8l4.7 5.9l-4.7 5.9l-4.7 -5.9zM117.7 375.2l4.7 5.9l-4.7 5.9l-4.7 -5.9zM119.2 376.2l4.7 5.9l-4.7 5.9l-4.7 -5.9zM120.6 375.3l4.7 5.9l-4.7 5.9l-4.7 -5.9zM122.1 375.4l4.7 5.9l-4.7 5.9l-4.7 -5.9zM123.5 375.3l4.7 5.9l-4.7 5.9l-4.7 -5.9zM125 375.4l4.7 5.9l-4.7 5.9l-4.7 -5.9zM126.4 373.8l4.7 5.9l-4.7 5.9l-4.7 -5.9zM127.9 375.6l4.7 5.9l-4.7 5.9l-4.7 -5.9zM129.3 374.7l4.7 5.9l-4.7 5.9l-4.7 -5.9zM130.8 375l4.7 5.9l-4.7 5.9l-4.7 -5.9zM132.2 373.7l4.7 5.9l-4.7 5.9l-4.7 -5.9zM133.7 374.9l4.7 5.9l-4.7 5.9l-4.7 -5.9zM135.1 373.9l4.7 5.9l-4.7 5.9l-4.7 -5.9zM136.6 375.8l4.7 5.9l-4.7 5.9l-4.7 -5.9zM138 374.1l4.7 5.9l-4.7 5.9l-4.7 -5.9zM139.5 374.1l4.7 5.9l-4.7 5.9l-4.7 -5.9zM140.9 374.3l4.7 5.9l-4.7 5.9l-4.7 -5.9zM142.4 376.4l4.7 5.9l-4.7 5.9l-4.7 -5.9zM143.8 375.9l4.7 5.9l-4.7 5.9l-4.7 -5.9zM145.2 375.1l4.7 5.9l-4.7 5.9l-4.7 -5.9zM146.7 376.2l4.7 5.9l-4.7 5.9l-4.7 -5.9zM148.1 375.5l4.7 5.9l-4.7 5.9l-4.7 -5.9zM149.6 375.5l4.7 5.9l-4.7 5.9l-4.7 -5.9zM151 375.9l4.7 5.9l-4.7 5.9l-4.7 -5.9zM152.5 375.7l4.7 5.9l-4.7 5.9l-4.7 -5.9zM153.9 374.2l4.7 5.9l-4.7 5.9l-4.7 -5.9zM155.4 375.6l4.7 5.9l-4.7 5.9l-4.7 -5.9zM156.8 374.1l4.7 5.9l-4.7 5.9l-4.7 -5.9zM158.3 376.3l4.7 5.9l-4.7 5.9l-4.7 -5.9zM159.7 375.8l4.7 5.9l-4.7 5.9l-4.7 -5.9zM161.2 375.9l4.7 5.9l-4.7 5.9l-4.7 -5.9zM162.6 374.9l4.7 5.9l-4.7 5.9l-4.7 -5.9zM164.1 375.9l4.7 5.9l-4.7 5.9l-4.7 -5.9zM165.5 374.5l4.7 5.9l-4.7 5.9l-4.7 -5.9zM167 375.2l4.7 5.9l-4.7 5.9l-4.7 -5.9zM168.4 374l4.7 5.9l-4.7 5.9l-4.7 -5.9zM169.9 375.9l4.7 5.9l-4.7 5.9l-4.7 -5.9zM171.3 376l4.7 5.9l-4.7 5.9l-4.7 -5.9zM172.8 374.3l4.7 5.9l-4.7 5.9l-4.7 -5.9zM174.2 374.4l4.7 5.9l-4.7 5.9l-4.7 -5.9zM175.7 376.2l4.7 5.9l-4.7 5.9l-4.7 -5.9zM177.1 375.7l4.7 5.9l-4.7 5.9l-4.7 -5.9zM178.6 375.9l4.7 5.9l-4.7 5.9l-4.7 -5.9zM180 375.6l4.7 5.9l-4.7 5.9l-4.7 -5.9zM181.5 376l4.7 5.9l-4.7 5.9l-4.7 -5.9zM182.9 373.9l4.7 5.9l-4.7 5.9l-4.7 -5.9zM184 366.1l4.7 5.9l-4.7 5.9l-4.7 -5.9zM186.8 349.3l4.7 5.9l-4.7 5.9l-4.7 -5.9zM189.7 366.6l4.7 5.9l-4.7 5.9l-4.7 -5.9zM191.6 375.4l4.7 5.9l-4.7 5.9l-4.7 -5.9zM193.1 374.6l4.7 5.9l-4.7 5.9l-4.7 -5.9zM194.5 374.7l4.7 5.9l-4.7 5.9l-4.7 -5.9zM196 375.4l4.7 5.9l-4.7 5.9l-4.7 -5.9zM197.4 373.9l4.7 5.9l-4.7 5.9l-4.7 -5.9zM198.9 375.7l4.7 5.9l-4.7 5.9l-4.7 -5.9zM200.3 375.6l4.7 5.9l-4.7 5.9l-4.7 -5.9zM201.8 374l4.7 5.9l-4.7 5.9l-4.7 -5.9zM203.2 373.8l4.7 5.9l-4.7 5.9l-4.7 -5.9zM204.7 374.2l4.7 5.9l-4.7 5.9l-4.7 -5.9zM206.1 376.4l4.7 5.9l-4.7 5.9l-4.7 -5.9zM207.6 374.3l4.7 5.9l-4.7 5.9l-4.7 -5.9zM209 375.4l4.7 5.9l-4.7 5.9l-4.7 -5.9zM210.5 374.8l4.7 5.9l-4.7 5.9l-4.7 -5.9zM211.9 376.4l4.7 5.9l-4.7 5.9l-4.7 -5.9zM213.4 376.5l4.7 5.9l-4.7 5.9l-4.7 -5.9zM214.8 376l4.7 5.9l-4.7 5.9l-4.7 -5.9zM216.3 374.9l4.7 5.9l-4.7 5.9l-4.7 -5.9zM217.7 376.3l4.7 5.9l-4.7 5.9l-4.7 -5.9zM219.2 376l4.7 5.9l-4.7 5.9l-4.7 -5.9zM220.6 374.7l4.7 5.9l-4.7 5.9l-4.7 -5.9zM222.1 375.2l4.7 5.9l-4.7 5.9l-4.7 -5.9zM223.5 375.1l4.7 5.9l-4.7 5.9l-4.7 -5.9zM225 376.3l4.7 5.9l-4.7 5.9l-4.7 -5.9zM226.4 374.5l4.7 5.9l-4.7 5.9l-4.7 -5.9zM227.9 374.9l4.7 5.9l-4.7 5.9l-4.7 -5.9zM229.3 374.7l4.7 5.9l-4.7 5.9l-4.7 -5.9zM230.8 375.5l4.7 5.9l-4.7 5.9l-4.7 -5.9zM232.2 375.2l4.7 5.9l-4.7 5.9l-4.7 -5.9zM233.7 376.2l4.7 5.9l-4.7 5.9l-4.7 -5.9zM235.1 374.7l4.7 5.9l-4.7 5.9l-4.7 -5.9zM236.6 373.9l4.7 5.9l-4.7 5.9l-4.7 -5.9zM238 375.6l4.7 5.9l-4.7 5.9l-4.7 -5.9zM239.5 375l4.7 5.9l-4.7 5.9l-4.7 -5.9zM240.9 376.2l4.7 5.9l-4.7 5.9l-4.7 -5.9zM242.4 375.3l4.7 5.9l-4.7 5.9l-4.7 -5.9zM243.8 374.1l4.7 5.9l-4.7 5.9l-4.7 -5.9zM245.3 376.2l4.7 5.9l-4.7 5.9l-4.7 -5.9zM246.7 375.3l4.7 5.9l-4.7 5.9l-4.7 -5.9zM248.2 373.8l4.7 5.9l-4.7 5.9l-4.7 -5.9zM249.6 375.8l4.7 5.9l-4.7 5.9l-4.7 -5.9zM251.1 374.5l4.7 5.9l-4.7 5.9l-4.7 -5.9zM252.5 374.5l4.7 5.9l-4.7 5.9l-4.7 -5.9zM254 374.9l4.7 5.9l-4.7 5.9l-4.7 -5.9zM255.4 375.5l4.7 5.9l-4.7 5.9l-4.7 -5.9zM256.9 375.6l4.7 5.9l-4.7 5.9l-4.7 -5.9zM258.3 376.4l4.7 5.9l-4.7 5.9l-4.7 -5.9zM259.8 375.6l4.7 5.9l-4.7 5.9l-4.7 -5.9zM261.2 374.2l4.7 5.9l-4.7 5.9l-4.7 -5.9zM262.7 376l4.7 5.9l-4.7 5.9l-4.7 -5.9zM264.1 374.7l4.7 5.9l-4.7 5.9l-4.7 -5.9zM265.6 375.1l4.7 5.9l-4.7 5.9l-4.7 -5.9zM267 374.2l4.7 5.9l-4.7 5.9l-4.7 -5.9zM268.5 374.2l4.7 5.9l-4.7 5.9l-4.7 -5.9zM269.9 373.8l4.7 5.9l-4.7 5.9l-4.7 -5.9zM271.4 374.8l4.7 5.9l-4.7 5.9l-4.7 -5.9zM272.8 376.4l4.7 5.9l-4.7 5.9l-4.7 -5.9zM274.3 374.6l4.7 5.9l-4.7 5.9l-4.7 -5.9zM275.7 374.3l4.7 5.9l-4.7 5.9l-4.7 -5.9zM277.2 374.9l4.7 5.9l-4.7 5.9l-4.7 -5.9zM278.6 374.4l4.7 5.9l-4.7 5.9l-4.7 -5.9zM280.1 374.8l4.7 5.9l-4.7 5.9l-4.7 -5.9zM281.5 374.4l4.7 5.9l-4.7 5.9l-4.7 -5.9zM283 376.2l4.7 5.9l-4.7 5.9l-4.7 -5.9zM284.4 376l4.7 5.9l-4.7 5.9l-4.7 -5.9zM285.9 375.9l4.7 5.9l-4.7 5.9l-4.7 -5.9zM287.3 374.1l4.7 5.9l-4.7 5.9l-4.7 -5.9zM288.8 375l4.7 5.9l-4.7 5.9l-4.7 -5.9zM290.2 375.6l4.7 5.9l-4.7 5.9l-4.7 -5.9zM291.7 374.5l4.7 5.9l-4.7 5.9l-4.7 -5.9zM293.1 376.3l4.7 5.9l-4.7 5.9l-4.7 -5.9zM294.6 374.5l4.7 5.9l-4.7 5.9l-4.7 -5.9zM296 374.4l4.7 5.9l-4.7 5.9l-4.7 -5.9zM297.5 373.8l4.7 5.9l-4.7 5.9l-4.7 -5.9zM298.9 375.3l4.7 5.9l-4.7 5.9l-4.7 -5.9zM300.4 376.3l4.7 5.9l-4.7 5.9l-4.7 -5.9zM301.8 373.5l4.7 5.9l-4.7 5.9l-4.7 -5.9zM303.3 375.8l4.7 5.9l-4.7 5.9l-4.7 -5.9zM304.7 374.9l4.7 5.9l-4.7 5.9l-4.7 -5.9zM306.2 374l4.7 5.9l-4.7 5.9l-4.7 -5.9zM307.6 375.5l4.7 5.9l-4.7 5.9l-4.7 -5.9zM309.1 375.5l4.7 5.9l-4.7 5.9l-4.7 -5.9zM310.5 375.9l4.7 5.9l-4.7 5.9l-4.7 -5.9zM312 376.3l4.7 5.9l-4.7 5.9l-4.7 -5.9zM313.4 374.7l4.7 5.9l-4.7 5.9l-4.7 -5.9zM314.9 376l4.7 5.9l-4.7 5.9l-4.7 -5.9zM316.3 374.2l4.7 5.9l-4.7 5.9l-4.7 -5.9zM317.8 375.2l4.7 5.9l-4.7 5.9l-4.7 -5.9zM319.2 375.6l4.7 5.9l-4.7 5.9l-4.7 -5.9zM320.7 374.1l4.7 5.9l-4.7 5.9l-4.7 -5.9zM322.1 373.9l4.7 5.9l-4.7 5.9l-4.7 -5.9zM323.6 375.1l4.7 5.9l-4.7 5.9l-4.7 -5.9zM325 375.6l4.7 5.9l-4.7 5.9l-4.7 -5.9zM326.5 374.8l4.7 5.9l-4.7 5.9l-4.7 -5.9zM327.9 374.5l4.7 5.9l-4.7 5.9l-4.7 -5.9zM329.4 375.9l4.7 5.9l-4.7 5.9l-4.7 -5.9zM330.8 374.1l4.7 5.9l-4.7 5.9l-4.7 -5.9zM332.3 375.8l4.7 5.9l-4.7 5.9l-4.7 -5.9zM333.7 376.2l4.7 5.9l-4.7 5.9l-4.7 -5.9zM335.2 375.8l4.7 5.9l-4.7 5.9l-4.7 -5.9zM336.6 375.5l4.7 5.9l-4.7 5.9l-4.7 -5.9zM338.1 374.1l4.7 5.9l-4.7 5.9l-4.7 -5.9zM339.5 375.7l4.7 5.9l-4.7 5.9l-4.7 -5.9zM341 373.5l4.7 5.9l-4.7 5.9l-4.7 -5.9zM342.4 376l4.7 5.9l-4.7 5.9l-4.7 -5.9zM343.9 374.3l4.7 5.9l-4.7 5.9l-4.7 -5.9zM345.3 374l4.7 5.9l-4.7 5.9l-4.7 -5.9zM346.8 376.4l4.7 5.9l-4.7 5.9l-4.7 -5.9zM348.2 374.7l4.7 5.9l-4.7 5.9l-4.7 -5.9zM349.7 373.9l4.7 5.9l-4.7 5.9l-4.7 -5.9zM351.1 373.6l4.7 5.9l-4.7 5.9l-4.7 -5.9zM352.6 374.1l4.7 5.9l-4.7 5.9l-4.7 -5.9zM354 373.9l4.7 5.9l-4.7 5.9l-4.7 -5.9zM355.5 375.3l4.7 5.9l-4.7 5.9l-4.7 -5.9zM356.9 373.8l4.7 5.9l-4.7 5.9l-4.7 -5.9zM358.4 374l4.7 5.9l-4.7 5.9l-4.7 -5.9zM359.8 375.5l4.7 5.9l-4.7 5.9l-4.7 -5.9zM361.3 374.6l4.7 5.9l-4.7 5.9l-4.7 -5.9zM362.7 374.3l4.7 5.9l-4.7 5.9l-4.7 -5.9zM364.2 374.3l4.7 5.9l-4.7 5.9l-4.7 -5.9zM365.6 376l4.7 5.9l-4.7 5.9l-4.7 -5.9zM367.1 373.8l4.7 5.9l-4.7 5.9l-4.7 -5.9zM368.5 373.8l4.7 5.9l-4.7 5.9l-4.7 -5.9zM370 373.8l4.7 5.9l-4.7 5.9l-4.7 -5.9zM371.4 375.7l4.7 5.9l-4.7 5.9l-4.7 -5.9zM372.9 374.8l4.7 5.9l-4.7 5.9l-4.7 -5.9zM374.3 375.3l4.7 5.9l-4.7 5.9l-4.7 -5.9zM375.8 376.1l4.7 5.9l-4.7 5.9l-4.7 -5.9zM377.2 376l4.7 5.9l-4.7 5.9l-4.7 -5.9zM378.7 374.6l4.7 5.9l-4.7 5.9l-4.7 -5.9zM380.1 373.9l4.7 5.9l-4.7 5.9l-4.7 -5.9zM381.6 374.1l4.7 5.9l-4.7 5.9l-4.7 -5.9zM383 375.6l4.7 5.9l-4.7 5.9l-4.7 -5.9zM384.5 375l4.7 5.9l-4.7 5.9l-4.7 -5.9zM385.9 374.2l4.7 5.9l-4.7 5.9l-4.7 -5.9zM387.4 374.5l4.7 5.9l-4.7 5.9l-4.7 -5.9zM388.8 375.8l4.7 5.9l-4.7 5.9l-4.7 -5.9zM390.3 374.9l4.7 5.9l-4.7 5.9l-4.7 -5.9zM391.7 375.7l4.7 5.9l-4.7 5.9l-4.7 -5.9zM393.2 374.4l4.7 5.9l-4.7 5.9l-4.7 -5.9zM394.6 375.7l4.7 5.9l-4.7 5.9l-4.7 -5.9zM396.1 375.8l4.7 5.9l-4.7 5.9l-4.7 -5.9zM397.5 376.3l4.7 5.9l-4.7 5.9l-4.7 -5.9zM399 375.4l4.7 5.9l-4.7 5.9l-4.7 -5.9zM400.4 373.7l4.7 5.9l-4.7 5.9l-4.7 -5.9zM401.9 375.7l4.7 5.9l-4.7 5.9l-4.7 -5.9zM403.3 374.4l4.7 5.9l-4.7 5.9l-4.7 -5.9zM404.8 374.2l4.7 5.9l-4.7 5.9l-4.7 -5.9zM406.2 376.5l4.7 5.9l-4.7 5.9l-4.7 -5.9zM407.7 373.8l4.7 5.9l-4.7 5.9l-4.7 -5.9zM409.1 374.7l4.7 5.9l-4.7 5.9l-4.7 -5.9zM410.6 376l4.7 5.9l-4.7 5.9l-4.7 -5.9zM412 374l4.7 5.9l-4.7 5.9l-4.7 -5.9zM413.5 374.1l4.7 5.9l-4.7 5.9l-4.7 -5.9zM414.9 375l4.7 5.9l-4.7 5.9l-4.7 -5.9zM416.4 376.3l4.7 5.9l-4.7 5.9l-4.7 -5.9zM417.8 375l4.7 5.9l-4.7 5.9l-4.7 -5.9zM419.3 374.1l4.7 5.9l-4.7 5.9l-4.7 -5.9zM420.7 375.3l4.7 5.9l-4.7 5.9l-4.7 -5.9zM422.2 370.1l4.7 5.9l-4.7 5.9l-4.7 -5.9zM425 358.7l4.7 5.9l-4.7 5.9l-4.7 -5.9zM428 363.7l4.7 5.9l-4.7 5.9l-4.7 -5.9zM430.9 371.6l4.7 5.9l-4.7 5.9l-4.7 -5.9zM432.3 375.3l4.7 5.9l-4.7 5.9l-4.7 -5.9zM433.8 373.7l4.7 5.9l-4.7 5.9l-4.7 -5.9zM435.2 375.9l4.7 5.9l-4.7 5.9l-4.7 -5.9zM436.7 373.8l4.7 5.9l-4.7 5.9l-4.7 -5.9zM438.1 374.7l4.7 5.9l-4.7 5.9l-4.7 -5.9zM439.6 375.4l4.7 5.9l-4.7 5.9l-4.7 -5.9zM441 375.1l4.7 5.9l-4.7 5.9l-4.7 -5.9zM442.5 374.3l4.7 5.9l-4.7 5.9l-4.7 -5.9zM443.9 376.2l4.7 5.9l-4.7 5.9l-4.7 -5.9zM445.4 374l4.7 5.9l-4.7 5.9l-4.7 -5.9zM446.8 374.1l4.7 5.9l-4.7 5.9l-4.7 -5.9zM448.3 375l4.7 5.9l-4.7 5.9l-4.7 -5.9zM449.7 375.5l4.7 5.9l-4.7 5.9l-4.7 -5.9zM451.2 373.7l4.7 5.9l-4.7 5.9l-4.7 -5.9zM452.6 373.9l4.7 5.9l-4.7 5.9l-4.7 -5.9zM454.1 374.8l4.7 5.9l-4.7 5.9l-4.7 -5.9zM455.5 375.7l4.7 5.9l-4.7 5.9l-4.7 -5.9zM457 375.5l4.7 5.9l-4.7 5.9l-4.7 -5.9zM458.4 375l4.7 5.9l-4.7 5.9l-4.7 -5.9zM459.9 376.2l4.7 5.9l-4.7 5.9l-4.7 -5.9zM461.3 373.9l4.7 5.9l-4.7 5.9l-4.7 -5.9zM462.8 376.5l4.7 5.9l-4.7 5.9l-4.7 -5.9zM464.2 374.8l4.7 5.9l-4.7 5.9l-4.7 -5.9zM465.7 376l4.7 5.9l-4.7 5.9l-4.7 -5.9zM467.1 375.6l4.7 5.9l-4.7 5.9l-4.7 -5.9zM468.6 376.4l4.7 5.9l-4.7 5.9l-4.7 -5.9zM470 373.4l4.7 5.9l-4.7 5.9l-4.7 -5.9zM471.5 376.3l4.7 5.9l-4.7 5.9l-4.7 -5.9zM472.9 375.6l4.7 5.9l-4.7 5.9l-4.7 -5.9zM474.4 375.5l4.7 5.9l-4.7 5.9l-4.7 -5.9zM475.8 374.4l4.7 5.9l-4.7 5.9l-4.7 -5.9zM477.3 373.8l4.7 5.9l-4.7 5.9l-4.7 -5.9zM478.7 374l4.7 5.9l-4.7 5.9l-4.7 -5.9zM480.2 375.7l4.7 5.9l-4.7 5.9l-4.7 -5.9zM481.6 376l4.7 5.9l-4.7 5.9l-4.7 -5.9zM483.1 375.1l4.7 5.9l-4.7 5.9l-4.7 -5.9zM484.5 375.9l4.7 5.9l-4.7 5.9l-4.7 -5.9zM486 374.8l4.7 5.9l-4.7 5.9l-4.7 -5.9zM487.4 375.3l4.7 5.9l-4.7 5.9l-4.7 -5.9zM488.9 375.1l4.7 5.9l-4.7 5.9l-4.7 -5.9zM490.3 375.4l4.7 5.9l-4.7 5.9l-4.7 -5.9zM491.8 373l4.7 5.9l-4.7 5.9l-4.7 -5.9zM493.2 374.5l4.7 5.9l-4.7 5.9l-4.7 -5.9zM494.7 373.7l4.7 5.9l-4.7 5.9l-4.7 -5.9zM496.1 373.8l4.7 5.9l-4.7 5.9l-4.7 -5.9zM497.6 376l4.7 5.9l-4.7 5.9l-4.7 -5.9zM499 374l4.7 5.9l-4.7 5.9l-4.7 -5.9zM500.5 374.3l4.7 5.9l-4.7 5.9l-4.7 -5.9zM501.9 374l4.7 5.9l-4.7 5.9l-4.7 -5.9zM503.4 375.2l4.7 5.9l-4.7 5.9l-4.7 -5.9zM504.8 374l4.7 5.9l-4.7 5.9l-4.7 -5.9zM506.3 376.1l4.7 5.9l-4.7 5.9l-4.7 -5.9zM507.7 374l4.7 5.9l-4.7 5.9l-4.7 -5.9zM509.2 374.5l4.7 5.9l-4.7 5.9l-4.7 -5.9zM510.8 368.1l4.7 5.9l-4.7 5.9l-4.7 -5.9zM513.4 351.1l4.7 5.9l-4.7 5.9l-4.7 -5.9zM514.8 144.6l4.7 5.9l-4.7 5.9l-4.7 -5.9zM518.8 76.1l4.7 5.9l-4.7 5.9l-4.7 -5.9zM522 285.1l4.7 5.9l-4.7 5.9l-4.7 -5.9zM523.4 362.1l4.7 5.9l-4.7 5.9l-4.7 -5.9zM526.4 370.1l4.7 5.9l-4.7 5.9l-4.7 -5.9zM528 376.3l4.7 5.9l-4.7 5.9l-4.7 -5.9zM529.5 375.7l4.7 5.9l-4.7 5.9l-4.7 -5.9zM530.9 374.5l4.7 5.9l-4.7 5.9l-4.7 -5.9zM532.4 374.6l4.7 5.9l-4.7 5.9l-4.7 -5.9zM533.8 374.9l4.7 5.9l-4.7 5.9l-4.7 -5.9zM535.3 375.5l4.7 5.9l-4.7 5.9l-4.7 -5.9zM536.7 375.8l4.7 5.9l-4.7 5.9l-4.7 -5.9zM538.2 376.5l4.7 5.9l-4.7 5.9l-4.7 -5.9zM539.6 374.5l4.7 5.9l-4.7 5.9l-4.7 -5.9zM541.1 374.5l4.7 5.9l-4.7 5.9l-4.7 -5.9zM542.5 376.2l4.7 5.9l-4.7 5.9l-4.7 -5.9zM544 374.6l4.7 5.9l-4.7 5.9l-4.7 -5.9zM545.4 375.9l4.7 5.9l-4.7 5.9l-4.7 -5.9zM546.9 375.9l4.7 5.9l-4.7 5.9l-4.7 -5.9zM548.3 374l4.7 5.9l-4.7 5.9l-4.7 -5.9zM549.8 374.6l4.7 5.9l-4.7 5.9l-4.7 -5.9zM551.2 374.7l4.7 5.9l-4.7 5.9l-4.7 -5.9zM552.7 376.4l4.7 5.9l-4.7 5.9l-4.7 -5.9zM554.1 375.2l4.7 5.9l-4.7 5.9l-4.7 -5.9zM555.6 375.2l4.7 5.9l-4.7 5.9l-4.7 -5.9zM557 374.8l4.7 5.9l-4.7 5.9l-4.7 -5.9zM558.5 375.6l4.7 5.9l-4.7 5.9l-4.7 -5.9zM559.9 374l4.7 5.9l-4.7 5.9l-4.7 -5.9zM561 372.6l4.7 5.9l-4.7 5.9l-4.7 -5.9zM563.2 365.7l4.7 5.9l-4.7 5.9l-4.7 -5.9zM565.4 372.6l4.7 5.9l-4.7 5.9l-4.7 -5.9zM567.2 375.6l4.7 5.9l-4.7 5.9l-4.7 -5.9zM568.6 375.8l4.7 5.9l-4.7 5.9l-4.7 -5.9zM570.1 374.4l4.7 5.9l-4.7 5.9l-4.7 -5.9zM571.5 373.8l4.7 5.9l-4.7 5.9l-4.7 -5.9zM573 374.3l4.7 5.9l-4.7 5.9l-4.7 -5.9zM574.4 376.4l4.7 5.9l-4.7 5.9l-4.7 -5.9zM575.9 375.4l4.7 5.9l-4.7 5.9l-4.7 -5.9zM577.3 375.4l4.7 5.9l-4.7 5.9l-4.7 -5.9zM578.8 374.4l4.7 5.9l-4.7 5.9l-4.7 -5.9zM580.2 373.7l4.7 5.9l-4.7 5.9l-4.7 -5.9zM581.7 374.1l4.7 5.9l-4.7 5.9l-4.7 -5.9zM583.1 375.1l4.7 5.9l-4.7 5.9l-4.7 -5.9zM584.6 375.6l4.7 5.9l-4.7 5.9l-4.7 -5.9zM586 375.9l4.7 5.9l-4.7 5.9l-4.7 -5.9zM587.5 374l4.7 5.9l-4.7 5.9l-4.7 -5.9zM588.9 374.8l4.7 5.9l-4.7 5.9l-4.7 -5.9zM590.4 374.9l4.7 5.9l-4.7 5.9l-4.7 -5.9zM591.8 374l4.7 5.9l-4.7 5.9l-4.7 -5.9zM593.3 374.7l4.7 5.9l-4.7 5.9l-4.7 -5.9zM594.7 373.8l4.7 5.9l-4.7 5.9l-4.7 -5.9zM596.2 374.3l4.7 5.9l-4.7 5.9l-4.7 -5.9zM597.6 375.9l4.7 5.9l-4.7 5.9l-4.7 -5.9zM599.1 374.2l4.7 5.9l-4.7 5.9l-4.7 -5.9zM600.5 376.2l4.7 5.9l-4.7 5.9l-4.7 -5.9zM602 375.5l4.7 5.9l-4.7 5.9l-4.7 -5.9zM603.5 375.6l4.7 5.9l-4.7 5.9l-4.7 -5.9zM604.9 374.1l4.7 5.9l-4.7 5.9l-4.7 -5.9zM606.4 376.5l4.7 5.9l-4.7 5.9l-4.7 -5.9zM607.8 375.5l4.7 5.9l-4.7 5.9l-4.7 -5.9zM609.3 374.3l4.7 5.9l-4.7 5.9l-4.7 -5.9zM610.7 376.1l4.7 5.9l-4.7 5.9l-4.7 -5.9zM612.2 376.4l4.7 5.9l-4.7 5.9l-4.7 -5.9zM613.6 375.7l4.7 5.9l-4.7 5.9l-4.7 -5.9zM615.1 375.9l4.7 5.9l-4.7 5.9l-4.7 -5.9zM616.5 374.7l4.7 5.9l-4.7 5.9l-4.7 -5.9zM618 374l4.7 5.9l-4.7 5.9l-4.7 -5.9zM619.4 375.9l4.7 5.9l-4.7 5.9l-4.7 -5.9zM620.9 374.8l4.7 5.9l-4.7 5.9l-4.7 -5.9zM622.3 374.3l4.7 5.9l-4.7 5.9l-4.7 -5.9zM623.8 374.3l4.7 5.9l-4.7 5.9l-4.7 -5.9zM625.2 374.7l4.7 5.9l-4.7 5.9l-4.7 -5.9zM626.7 375l4.7 5.9l-4.7 5.9l-4.7 -5.9zM628.1 373.8l4.7 5.9l-4.7 5.9l-4.7 -5.9zM629.6 376l4.7 5.9l-4.7 5.9l-4.7 -5.9zM631 373.8l4.7 5.9l-4.7 5.9l-4.7 -5.9zM632.5 374l4.7 5.9l-4.7 5.9l-4.7 -5.9zM633.9 375.7l4.7 5.9l-4.7 5.9l-4.7 -5.9zM635.4 374l4.7 5.9l-4.7 5.9l-4.7 -5.9zM636.8 374.2l4.7 5.9l-4.7 5.9l-4.7 -5.9zM638.3 374.9l4.7 5.9l-4.7 5.9l-4.7 -5.9zM639.7 373.9l4.7 5.9l-4.7 5.9l-4.7 -5.9zM641.2 375l4.7 5.9l-4.7 5.9l-4.7 -5.9zM642.6 374.9l4.7 5.9l-4.7 5.9l-4.7 -5.9zM644.1 375.8l4.7 5.9l-4.7 5.9l-4.7 -5.9zM645.5 376.1l4.7 5.9l-4.7 5.9l-4.7 -5.9zM647 376.1l4.7 5.9l-4.7 5.9l-4.7 -5.9zM648.4 376.3l4.7 5.9l-4.7 5.9l-4.7 -5.9zM649.9 374.4l4.7 5.9l-4.7 5.9l-4.7 -5.9zM651.3 376.1l4.7 5.9l-4.7 5.9l-4.7 -5.9zM652.8 373.9l4.7 5.9l-4.7 5.9l-4.7 -5.9zM654.2 376.3l4.7 5.9l-4.7 5.9l-4.7 -5.9zM655.7 375l4.7 5.9l-4.7 5.9l-4.7 -5.9zM657.1 374.6l4.7 5.9l-4.7 5.9l-4.7 -5.9zM658.6 375.6l4.7 5.9l-4.7 5.9l-4.7 -5.9zM660 374l4.7 5.9l-4.7 5.9l-4.7 -5.9zM661.5 375l4.7 5.9l-4.7 5.9l-4.7 -5.9zM662.9 373.7l4.7 5.9l-4.7 5.9l-4.7 -5.9zM664.4 374.4l4.7 5.9l-4.7 5.9l-4.7 -5.9zM665.8 375.8l4.7 5.9l-4.7 5.9l-4.7 -5.9zM667.3 374.4l4.7 5.9l-4.7 5.9l-4.7 -5.9zM668.7 375.4l4.7 5.9l-4.7 5.9l-4.7 -5.9zM670.2 374.1l4.7 5.9l-4.7 5.9l-4.7 -5.9zM671.6 376.3l4.7 5.9l-4.7 5.9l-4.7 -5.9zM673.1 376.1l4.7 5.9l-4.7 5.9l-4.7 -5.9zM674.5 376.2l4.7 5.9l-4.7 5.9l-4.7 -5.9zM676 374.3l4.7 5.9l-4.7 5.9l-4.7 -5.9zM677.4 376.2l4.7 5.9l-4.7 5.9l-4.7 -5.9zM678.9 373.6l4.7 5.9l-4.7 5.9l-4.7 -5.9zM680.3 374.1l4.7 5.9l-4.7 5.9l-4.7 -5.9zM681.8 375.8l4.7 5.9l-4.7 5.9l-4.7 -5.9zM683.2 376.3l4.7 5.9l-4.7 5.9l-4.7 -5.9zM684.7 374l4.7 5.9l-4.7 5.9l-4.7 -5.9zM686.1 374.4l4.7 5.9l-4.7 5.9l-4.7 -5.9zM687.6 375.1l4.7 5.9l-4.7 5.9l-4.7 -5.9zM689 375.1l4.7 5.9l-4.7 5.9l-4.7 -5.9zM690.5 375.4l4.7 5.9l-4.7 5.9l-4.7 -5.9zM691.9 376l4.7 5.9l-4.7 5.9l-4.7 -5.9zM693.4 376.5l4.7 5.9l-4.7 5.9l-4.7 -5.9zM694.8 374.3l4.7 5.9l-4.7 5.9l-4.7 -5.9zM696.3 374.6l4.7 5.9l-4.7 5.9l-4.7 -5.9zM697.7 374.7l4.7 5.9l-4.7 5.9l-4.7 -5.9zM699.2 373.8l4.7 5.9l-4.7 5.9l-4.7 -5.9zM700.6 374.2l4.7 5.9l-4.7 5.9l-4.7 -5.9zM702.1 373.7l4.7 5.9l-4.7 5.9l-4.7 -5.9zM703.5 374.4l4.7 5.9l-4.7 5.9l-4.7 -5.9zM705 375.3l4.7 5.9l-4.7 5.9l-4.7 -5.9zM706.4 374.1l4.7 5.9l-4.7 5.9l-4.7 -5.9zM707.9 374l4.7 5.9l-4.7 5.9l-4.7 -5.9zM709.3 374.1l4.7 5.9l-4.7 5.9l-4.7 -5.9zM710.8 375.2l4.7 5.9l-4.7 5.9l-4.7 -5.9zM712.2 375.8l4.7 5.9l-4.7 5.9l-4.7 -5.9zM713.7 374.2l4.7 5.9l-4.7 5.9l-4.7 -5.9zM715.1 375l4.7 5.9l-4.7 5.9l-4.7 -5.9zM716.6 376.2l4.7 5.9l-4.7 5.9l-4.7 -5.9zM718 376.1l4.7 5.9l-4.7 5.9l-4.7 -5.9zM719.5 374.5l4.7 5.9l-4.7 5.9l-4.7 -5.9zM720.9 373.3l4.7 5.9l-4.7 5.9l-4.7 -5.9zM722.4 373.5l4.7 5.9l-4.7 5.9l-4.7 -5.9zM723.8 374.5l4.7 5.9l-4.7 5.9l-4.7 -5.9zM725.3 376.1l4.7 5.9l-4.7 5.9l-4.7 -5.9zM726.7 375.2l4.7 5.9l-4.7 5.9l-4.7 -5.9zM728.2 376l4.7 5.9l-4.7 5.9l-4.7 -5.9zM729.6 375.1l4.7 5.9l-4.7 5.9l-4.7 -5.9zM731.1 374.4l4.7 5.9l-4.7 5.9l-4.7 -5.9zM732.5 375.3l4.7 5.9l-4.7 5.9l-4.7 -5.9zM734 376.2l4.7 5.9l-4.7 5.9l-4.7 -5.9zM735.4 372.7l4.7 5.9l-4.7 5.9l-4.7 -5.9zM736.9 375.3l4.7 5.9l-4.7 5.9l-4.7 -5.9zM738.3 375.6l4.7 5.9l-4.7 5.9l-4.7 -5.9zM739.8 374.4l4.7 5.9l-4.7 5.9l-4.7 -5.9zM741.2 375.2l4.7 5.9l-4.7 5.9l-4.7 -5.9zM742.7 373.9l4.7 5.9l-4.7 5.9l-4.7 -5.9zM744.1 375.4l4.7 5.9l-4.7 5.9l-4.7 -5.9zM745.6 375.6l4.7 5.9l-4.7 5.9l-4.7 -5.9zM747 373.7l4.7 5.9l-4.7 5.9l-4.7 -5.9zM748.5 375.6l4.7 5.9l-4.7 5.9l-4.7 -5.9zM749.9 375.5l4.7 5.9l-4.7 5.9l-4.7 -5.9zM751.4 376.4l4.7 5.9l-4.7 5.9l-4.7 -5.9zM752.8 374.4l4.7 5.9l-4.7 5.9l-4.7 -5.9zM754.3 376.4l4.7 5.9l-4.7 5.9l-4.7 -5.9zM755.7 374.8l4.7 5.9l-4.7 5.9l-4.7 -5.9zM757.2 376.2l4.7 5.9l-4.7 5.9l-4.7 -5.9zM758 371.7l4.7 5.9l-4.7 5.9l-4.7 -5.9zM760.1 375.6l4.7 5.9l-4.7 5.9l-4.7 -5.9zM761.5 374.1l4.7 5.9l-4.7 5.9l-4.7 -5.9zM763 374.3l4.7 5.9l-4.7 5.9l-4.7 -5.9zM764.4 373.8l4.7 5.9l-4.7 5.9l-4.7 -5.9zM765.9 374.8l4.7 5.9l-4.7 5.9l-4.7 -5.9zM767.3 373.9l4.7 5.9l-4.7 5.9l-4.7 -5.9zM768.8 376.3l4.7 5.9l-4.7 5.9l-4.7 -5.9zM770.2 374.7l4.7 5.9l-4.7 5.9l-4.7 -5.9zM771.7 374.9l4.7 5.9l-4.7 5.9l-4.7 -5.9zM773.1 373.9l4.7 5.9l-4.7 5.9l-4.7 -5.9zM774.6 374.2l4.7 5.9l-4.7 5.9l-4.7 -5.9zM776 376.4l4.7 5.9l-4.7 5.9l-4.7 -5.9zM777.5 376l4.7 5.9l-4.7 5.9l-4.7 -5.9zM778.9 375.5l4.7 5.9l-4.7 5.9l-4.7 -5.9zM780.4 376.4l4.7 5.9l-4.7 5.9l-4.7 -5.9zM781.8 375.8l4.7 5.9l-4.7 5.9l-4.7 -5.9zM783.3 374.4l4.7 5.9l-4.7 5.9l-4.7 -5.9zM785 372.1l4.7 5.9l-4.7 5.9l-4.7 -5.9zM786.2 376.2l4.7 5.9l-4.7 5.9l-4.7 -5.9zM787.6 373.4l4.7 5.9l-4.7 5.9l-4.7 -5.9zM789.1 375.7l4.7 5.9l-4.7 5.9l-4.7 -5.9zM790.5 373.6l4.7 5.9l-4.7 5.9l-4.7 -5.9zM792 375.3l4.7 5.9l-4.7 5.9l-4.7 -5.9zM793.4 374.4l4.7 5.9l-4.7 5.9l-4.7 -5.9zM794.9 376.3l4.7 5.9l-4.7 5.9l-4.7 -5.9zM796.3 376.3l4.7 5.9l-4.7 5.9l-4.7 -5.9zM797.8 374.1l4.7 5.9l-4.7 5.9l-4.7 -5.9zM799.2 375.2l4.7 5.9l-4.7 5.9l-4.7 -5.9zM800.7 374.9l4.7 5.9l-4.7 5.9l-4.7 -5.9zM802.1 374.3l4.7 5.9l-4.7 5.9l-4.7 -5.9zM803.6 374.2l4.7 5.9l-4.7 5.9l-4.7 -5.9zM805 375.4l4.7 5.9l-4.7 5.9l-4.7 -5.9zM806 372.6l4.7 5.9l-4.7 5.9l-4.7 -5.9zM807.9 375.7l4.7 5.9l-4.7 5.9l-4.7 -5.9zM809.4 375.1l4.7 5.9l-4.7 5.9l-4.7 -5.9zM810.8 376.3l4.7 5.9l-4.7 5.9l-4.7 -5.9zM812.3 373.8l4.7 5.9l-4.7 5.9l-4.7 -5.9zM813.7 375.6l4.7 5.9l-4.7 5.9l-4.7 -5.9zM815.2 375.7l4.7 5.9l-4.7 5.9l-4.7 -5.9zM816.6 375.9l4.7 5.9l-4.7 5.9l-4.7 -5.9zM818.1 374l4.7 5.9l-4.7 5.9l-4.7 -5.9zM819.5 374.2l4.7 5.9l-4.7 5.9l-4.7 -5.9zM821 376l4.7 5.9l-4.7 5.9l-4.7 -5.9zM822.4 374.3l4.7 5.9l-4.7 5.9l-4.7 -5.9zM823.9 375.6l4.7 5.9l-4.7 5.9l-4.7 -5.9zM825.3 374.1l4.7 5.9l-4.7 5.9l-4.7 -5.9zM826.8 375.3l4.7 5.9l-4.7 5.9l-4.7 -5.9zM828.2 375.5l4.7 5.9l-4.7 5.9l-4.7 -5.9zM829.7 374.4l4.7 5.9l-4.7 5.9l-4.7 -5.9zM831.1 375.2l4.7 5.9l-4.7 5.9l-4.7 -5.9zM832.6 373.8l4.7 5.9l-4.7 5.9l-4.7 -5.9zM834 374.3l4.7 5.9l-4.7 5.9l-4.7 -5.9zM835.5 375.5l4.7 5.9l-4.7 5.9l-4.7 -5.9zM836.9 375.4l4.7 5.9l-4.7 5.9l-4.7 -5.9zM838.4 374.3l4.7 5.9l-4.7 5.9l-4.7 -5.9zM839.8 375.6l4.7 5.9l-4.7 5.9l-4.7 -5.9zM841.3 374.1l4.7 5.9l-4.7 5.9l-4.7 -5.9zM842.7 375.9l4.7 5.9l-4.7 5.9l-4.7 -5.9zM844.2 375.7l4.7 5.9l-4.7 5.9l-4.7 -5.9zM845.6 375.9l4.7 5.9l-4.7 5.9l-4.7 -5.9zM847.4 373.1l4.7 5.9l-4.7 5.9l-4.7 -5.9zM849 369.8l4.7 5.9l-4.7 5.9l-4.7 -5.9zM850.6 373.1l4.7 5.9l-4.7 5.9l-4.7 -5.9zM851.4 374.1l4.7 5.9l-4.7 5.9l-4.7 -5.9zM852.9 376.2l4.7 5.9l-4.7 5.9l-4.7 -5.9zM854.3 374.3l4.7 5.9l-4.7 5.9l-4.7 -5.9zM855.8 375.1l4.7 5.9l-4.7 5.9l-4.7 -5.9zM857.2 374.7l4.7 5.9l-4.7 5.9l-4.7 -5.9zM858.7 375.2l4.7 5.9l-4.7 5.9l-4.7 -5.9zM860.1 373.3l4.7 5.9l-4.7 5.9l-4.7 -5.9zM861.6 375.1l4.7 5.9l-4.7 5.9l-4.7 -5.9zM863 375.6l4.7 5.9l-4.7 5.9l-4.7 -5.9zM864.5 374.6l4.7 5.9l-4.7 5.9l-4.7 -5.9zM865.9 375.7l4.7 5.9l-4.7 5.9l-4.7 -5.9zM867.4 374.7l4.7 5.9l-4.7 5.9l-4.7 -5.9zM868.8 376.3l4.7 5.9l-4.7 5.9l-4.7 -5.9zM870.3 375.4l4.7 5.9l-4.7 5.9l-4.7 -5.9zM871.7 375l4.7 5.9l-4.7 5.9l-4.7 -5.9zM873.2 372.8l4.7 5.9l-4.7 5.9l-4.7 -5.9zM874.6 376.2l4.7 5.9l-4.7 5.9l-4.7 -5.9zM876.1 375l4.7 5.9l-4.7 5.9l-4.7 -5.9zM877.5 373.3l4.7 5.9l-4.7 5.9l-4.7 -5.9zM879 375.9l4.7 5.9l-4.7 5.9l-4.7 -5.9zM880.4 373.9l4.7 5.9l-4.7 5.9l-4.7 -5.9zM881.9 374l4.7 5.9l-4.7 5.9l-4.7 -5.9zM883.3 373.8l4.7 5.9l-4.7 5.9l-4.7 -5.9zM884.8 375.9l4.7 5.9l-4.7 5.9l-4.7 -5.9zM886.2 373.7l4.7 5.9l-4.7 5.9l-4.7 -5.9zM887.7 375.2l4.7 5.9l-4.7 5.9l-4.7 -5.9zM889.1 374.2l4.7 5.9l-4.7 5.9l-4.7 -5.9zM890.6 375.8l4.7 5.9l-4.7 5.9l-4.7 -5.9zM892 374.6l4.7 5.9l-4.7 5.9l-4.7 -5.9zM893.5 374.4l4.7 5.9l-4.7 5.9l-4.7 -5.9zM894.9 374l4.7 5.9l-4.7 5.9l-4.7 -5.9zM896.4 375.8l4.7 5.9l-4.7 5.9l-4.7 -5.9zM897.8 376.2l4.7 5.9l-4.7 5.9l-4.7 -5.9zM899.3 376.4l4.7 5.9l-4.7 5.9l-4.7 -5.9zM900.7 374.5l4.7 5.9l-4.7 5.9l-4.7 -5.9zM902.2 375.7l4.7 5.9l-4.7 5.9l-4.7 -5.9zM903.6 374.1l4.7 5.9l-4.7 5.9l-4.7 -5.9zM905.1 376.4l4.7 5.9l-4.7 5.9l-4.7 -5.9zM906.5 376l4.7 5.9l-4.7 5.9l-4.7 -5.9zM908 374.4l4.7 5.9l-4.7 5.9l-4.7 -5.9zM909.4 375l4.7 5.9l-4.7 5.9l-4.7 -5.9zM910.9 374.1l4.7 5.9l-4.7 5.9l-4.7 -5.9zM912.3 374.6l4.7 5.9l-4.7 5.9l-4.7 -5.9zM913.8 375.8l4.7 5.9l-4.7 5.9l-4.7 -5.9zM915.2 374.2l4.7 5.9l-4.7 5.9l-4.7 -5.9zM916.7 376l4.7 5.9l-4.7 5.9l-4.7 -5.9zM918.1 374l4.7 5.9l-4.7 5.9l-4.7 -5.9zM919.6 375.4l4.7 5.9l-4.7 5.9l-4.7 -5.9zM921 376.4l4.7 5.9l-4.7 5.9l-4.7 -5.9zM922.5 376.1l4.7 5.9l-4.7 5.9l-4.7 -5.9zM923.9 374.4l4.7 5.9l-4.7 5.9l-4.7 -5.9zM925.4 374.7l4.7 5.9l-4.7 5.9l-4.7 -5.9zM926.8 374.8l4.7 5.9l-4.7 5.9l-4.7 -5.9zM928.3 374.3l4.7 5.9l-4.7 5.9l-4.7 -5.9zM929.7 374.8l4.7 5.9l-4.7 5.9l-4.7 -5.9zM931.2 376.2l4.7 5.9l-4.7 5.9l-4.7 -5.9zM932.6 374.4l4.7 5.9l-4.7 5.9l-4.7 -5.9zM934.1 376l4.7 5.9l-4.7 5.9l-4.7 -5.9zM935.5 375.7l4.7 5.9l-4.7 5.9l-4.7 -5.9zM937 376l4.7 5.9l-4.7 5.9l-4.7 -5.9zM938.4 375.5l4.7 5.9l-4.7 5.9l-4.7 -5.9zM939.9 376.1l4.7 5.9l-4.7 5.9l-4.7 -5.9zM941.3 375.2l4.7 5.9l-4.7 5.9l-4.7 -5.9zM942.8 376l4.7 5.9l-4.7 5.9l-4.7 -5.9zM944.2 376.1l4.7 5.9l-4.7 5.9l-4.7 -5.9zM945.7 376.2l4.7 5.9l-4.7 5.9l-4.7 -5.9zM947.1 376.3l4.7 5.9l-4.7 5.9l-4.7 -5.9zM948.6 375.6l4.7 5.9l-4.7 5.9l-4.7 -5.9zM950 373.8l4.7 5.9l-4.7 5.9l-4.7 -5.9zM951.5 375.2l4.7 5.9l-4.7 5.9l-4.7 -5.9zM952.9 374.7l4.7 5.9l-4.7 5.9l-4.7 -5.9zM954.4 375.9l4.7 5.9l-4.7 5.9l-4.7 -5.9zM955.8 374.3l4.7 5.9l-4.7 5.9l-4.7 -5.9zM957.3 374.4l4.7 5.9l-4.7 5.9l-4.7 -5.9zM958.7 373.3l4.7 5.9l-4.7 5.9l-4.7 -5.9zM960.2 374.2l4.7 5.9l-4.7 5.9l-4.7 -5.9zM961.6 375.8l4.7 5.9l-4.7 5.9l-4.7 -5.9zM963.1 375l4.7 5.9l-4.7 5.9l-4.7 -5.9zM964.5 375.9l4.7 5.9l-4.7 5.9l-4.7 -5.9zM966 374.6l4.7 5.9l-4.7 5.9l-4.7 -5.9zM967.4 376.2l4.7 5.9l-4.7 5.9l-4.7 -5.9zM968.9 376.2l4.7 5.9l-4.7 5.9l-4.7 -5.9zM970.3 374.6l4.7 5.9l-4.7 5.9l-4.7 -5.9zM971.8 375.3l4.7 5.9l-4.7 5.9l-4.7 -5.9zM973.2 375.3l4.7 5.9l-4.7 5.9l-4.7 -5.9zM974.7 375.2l4.7 5.9l-4.7 5.9l-4.7 -5.9zM976.1 374.9l4.7 5.9l-4.7 5.9l-4.7 -5.9zM977.6 375.6l4.7 5.9l-4.7 5.9l-4.7 -5.9zM979 374.7l4.7 5.9l-4.7 5.9l-4.7 -5.9zM980.5 376.4l4.7 5.9l-4.7 5.9l-4.7 -5.9zM981.9 374l4.7 5.9l-4.7 5.9l-4.7 -5.9zM983.4 373.8l4.7 5.9l-4.7 5.9l-4.7 -5.9zM985.4 374.9l4.7 5.9l-4.7 5.9l-4.7 -5.9z" fill="none" stroke="#007f00" stroke-width="1.85" stroke-linejoin="miter"/>
</g>
<g id="s3">
<path d="M53.4 381.3L55.9 381.6L57.3 382.3L58.8 380.7L60.2 382.3L61.7 382.6L63.1 381.3L64.6 382.1L66 380.7L67.5 381L68.9 380.6L70.4 381.5L71.8 380.5L73.3 382.9L74.7 382.3L76.2 382.6L77.6 382.2L79.1 381.1L80.5 379.8L82 382.6L83.4 382.8L84.9 382.7L86.3 380.5L87.8 382.3L89.2 381.8L90.7 380.9L92.1 381.5L93.6 379.8L95 382.1L96.5 380.8L97.9 381.5L99.4 381.8L100.8 380.7L102.3 382.1L103.7 382.1L105.2 380.9L106.6 381.1L108.1 381.3L110 376.4L111 382L112.4 381.4L113.9 382.9L115.3 382.2L116.8 380.7L118.2 381.2L119.7 380.9L121.1 380.7L122.6 380.6L124 381.5L125.5 381.4L126.9 382.8L128.4 382.7L129.8 380.7L131.3 380.5L132.7 380.3L134.2 382.8L135.6 381.1L137.1 381.1L138.5 381.2L140 382.5L141.4 380.1L142.9 382.1L144.3 381.9L145.8 381.2L147.2 380.9L148.6 382L150.1 382.8L151.5 381.1L153 382.3L154.4 382L155.9 382.7L157.3 381.2L158.8 380.4L160.2 381.8L161.7 381.4L163.1 381.1L164.6 381.1L166 382.7L167.5 381.4L168.9 381.2L170.4 382.3L171.8 381.1L173.3 381.1L174.7 381.6L176.2 381L177.6 380.5L179.1 380.2L180.5 380.3L182 380.5L183.4 380.3L184.6 371L187.5 356L190.4 370.7L192.1 382.2L193.6 381.2L195 382.5L196.5 381.8L197.9 380L199.4 380.2L200.8 381.9L202.3 380.6L203.7 381.8L205.2 382.8L206.6 382.8L208.1 381.2L209.5 380.8L211 382.9L212.4 380.6L213.9 380.5L215.3 381.3L216.8 381.3L218.2 382.3L219.7 381.4L221.1 381.8L222.6 381.2L224 382.5L225.5 381.7L226.9 380.6L228.4 380.7L229.8 382.3L231.3 380.1L232.7 381.3L234.2 381.7L235.6 381.2L237.1 382.8L238.5 381.8L240 381.2L241.4 382.6L242.9 382.3L244.3 382.9L245.8 381L247.2 380.8L248.7 380.5L249.6 375.5L252.4 371.4L255.3 376.5L257.4 381.7L258.8 382.7L260.3 382.3L261.7 380.9L263.2 382.5L264.6 382.1L266.1 382.1L267.5 380.4L269 382.1L270.4 381.9L271.9 381.1L273.3 382.7L274.8 381.3L276.2 382.4L277.7 381.4L279.1 381.2L280.6 381.4L282 382.2L283.5 380.3L284.9 381.6L286.4 380.5L287.8 381.2L289.3 381.6L290.7 380.3L292.2 381.8L293.6 381.4L295.1 382.1L296.5 382.7L298 380.5L299.4 380.4L300.9 381.5L302.3 380.6L303.8 381.4L305.2 380.8L306.7 380.7L308.1 381.8L309.6 382.3L311 381.6L312.5 381.3L313.9 382.7L315.4 382L316.8 380.7L318.3 382.4L319.7 382.7L321.2 382L322.6 381.2L324.1 380.5L325.5 381.5L327 381.1L328.4 382.2L329.9 380.6L331.3 381.1L332.8 382.8L334.2 381.7L335.7 381.2L337.1 380.6L338.6 380.4L340 381.9L341.5 382.8L342.9 381.1L344.4 381.9L345.8 382.5L347.3 381.1L348.7 380.9L350.2 380.8L351.6 379.4L353.1 380.7L354.5 380.4L356 382L357.4 382.7L358.9 382L360.3 379.4L361.8 382.8L363.2 381L364.7 382.6L366.1 382.1L367.6 380.6L369 380.4L370.5 380.8L371.9 381.5L373.4 382.8L374.8 380.7L376.3 382.8L377.7 382.2L379.2 380.5L380.6 382L382.1 382.9L383.5 381.8L385 380.6L386.4 381.6L387.9 382.6L389.3 380.5L390.8 380.5L392.2 382.3L393.7 381.5L395.1 381.7L396.6 381.5L398 381.3L399.5 382.2L400.9 382.4L402.4 380.4L403.8 381.2L405.3 382.2L406.7 382L408.2 381.4L409.6 382.7L411.1 380.5L412.5 381L414 381.9L415.4 381L416.9 382.7L418.3 380.5L419.8 381L421.2 382.1L422.7 380.4L424.1 382.5L425.6 380.5L427 380.3L428.5 381L429.9 382.2L431.4 381.5L432.8 382L434.3 382L435.7 382.3L437.2 381.2L438.6 380.3L440.1 382.9L441.5 380.8L443 380.7L444.4 382L445.9 379.6L447.3 382.9L448.8 380.4L450.2 381.5L451.7 382L453.1 382.4L454.6 382.7L456 381.4L457.5 381.5L458.9 382L460.4 381.7L461.8 380.2L463.3 382.3L464.7 380L466.2 382.1L467.6 382L469.1 382.1L470.5 382.8L472 380.1L473.4 382.1L474.9 381.9L476.3 382.5L477.8 380.4L479.2 381.9L480.7 381.1L482.1 382.9L483.6 382.6L485 382.5L486.5 382.8L487.9 382.8L489.4 380.7L490.8 381.5L492 378.5L494.8 376.5L497.7 373.8L500.6 370.6L503.4 371.4L506.2 373L509 374.5L512 375L514.9 374L515.7 339L518.6 169.3L522.5 151.7L523.8 326.4L524.5 372L527.2 372.8L530 373L533 374L536 375.6L539 377.6L542 379L543 381L544.5 382.6L545.9 380.6L547.4 381.1L548.8 382.6L550.3 381.2L551.7 380.2L553.2 380.5L554.6 382.2L556.1 382L557.5 379.5L559 381.8L560.4 380.7L561.9 382.6L563.3 381.7L564.8 380.5L566.2 381.9L567.7 381.5L569.1 380.7L570.6 381.3L572 382.6L573.5 382.9L574.9 382.5L576.4 381.7L577.8 380.2L579.3 382.4L580.7 382.3L582.2 382.2L583.6 380.7L585.1 382.3L586.5 381.6L588 382.3L589.4 380.8L590.9 381.3L592.3 380.4L593.8 380.5L596 376.6L598.1 380.9L599.6 381.5L601 380.6L602.5 381.5L604 382.5L605.4 382.6L606.9 381L608.3 381.7L609.8 380.3L611.2 381.1L612.7 381.9L614.1 381L615.6 382.5L617 381.3L618.5 381.1L619.9 380.6L621.4 382L622.8 381.2L624.3 382.3L625.7 382.4L627.2 381.8L628.6 382.8L630.1 382L631.5 381.4L633 380.6L634.4 382L635.9 381.9L637.3 381.8L638.8 381.5L640.2 381.6L641.7 381.5L643.1 380.5L644.6 382L646 381.8L647.5 381.7L648.9 381.3L650.4 381.7L651.8 381.1L653.3 382.8L654.7 381.9L656.2 380.2L657.6 382.8L659.1 380.8L660.5 380.6L662 380.1L663.4 381.3L664.9 382L666.3 382.5L667.8 382.6L669.2 380.2L670.7 379.2L672.1 380.4L673.6 380.9L675 382.7L676.5 382.5L677.9 381.3L679.4 380.9L680.8 382.4L682.3 380.7L683.7 382.7L685.2 381.8L686.6 380.5L688.1 381.4L689.5 381.4L691 382.8L692.4 382.2L693.9 380.8L695.3 381.2L696.8 380.7L698.2 381.1L699.7 380.2L701.1 382.2L702.6 381.1L704 381.1L705.5 381.9L706.9 381.6L708.4 382.7L709.8 381.5L711.3 380.7L712.7 381.1L714.2 380.4L715.6 381.9L717.1 381.2L718.5 380.7L720 380.1L721.4 380.8L722.9 381.6L724.3 381.9L725.8 382.3L727.2 382.5L728.7 382L730.1 381.3L731.6 382.8L733 380.4L734.5 381.5L735.9 380.7L737.4 381.2L738.8 380.6L740.3 380.6L741.7 381.6L743.2 381.5L744.6 380.1L746.1 379.4L747.5 381.7L749 380.7L750.4 381L751.9 380.7L753.3 381.9L754.8 380.4L756.2 382L757.7 381.6L759.1 380.4L760.6 382.1L762 380.3L763.5 380.3L764.9 380.8L766.4 381.4L767.8 382.3L769.3 380.4L770.7 380.1L772.2 380.4L773.6 382.3L775.1 379.4L776.5 381.3L778 381.2L779.4 380.3L780.9 381.5L782.3 381.3L783.8 382.4L785.2 380.6L786.7 382.6L788.1 382L789.6 381.4L791 380.8L792.5 381.9L793.9 382.6L795.4 380.1L796.8 381.9L798.3 381.4L799.7 380.9L801.2 382.1L802.6 381.9L804.1 381.2L805.5 381L807 381L808.4 382L809.9 382.3L811.3 381.6L812.8 380.4L814.2 380.3L815.7 380.2L817.1 381.1L818.6 381.2L820 381.3L821.5 381.6L822.9 382.8L824.4 381.3L825.8 382.8L827.3 381.9L828.7 381.2L830.2 380.9L831.6 380.2L833.1 382.5L834.5 381.3L836 380.9L837.4 381.6L838.9 382.7L840.3 380.8L841.8 380.5L843.2 382.7L844.7 381.7L846.1 380.3L847.6 380.4L849 381.5L850.5 380.5L851.9 380.1L853.4 380.7L854.8 380.4L856.3 381.5L857.7 382.4L859.2 380.8L860.6 381.2L862.1 380.4L863.5 381.2L865 382.5L866.4 380.3L867.9 381.7L869.3 380.9L870.8 380.6L872.2 380.9L873.7 380.9L875.1 381.9L876.6 382.3L878 380.7L879.5 381.5L880.9 382.1L882.4 381.3L883.8 380.9L885.3 382.6L886.7 382.7L888.2 382.4L889.6 380.7L891.1 381.9L892.5 380.2L894 380.6L895.4 381.8L896.9 381.4L898.3 380.4L899.8 380.4L901.2 381.9L902.7 380.2L904.1 382.8L906.2 377.5L907.6 374.4L909.4 373.8L910.9 376L912.4 378L914.3 382.9L915.7 382.4L917.2 382.2L918.6 382.7L920.1 382.6L921.5 382.3L923 381L924.4 382.3L925.9 382.5L927.3 380.6L928.8 381.7L930.2 381L931.7 380.5L933.1 380.7L934.6 381L936 380.9L937.5 380.5L938.9 379.7L940.4 379.5L941.8 380.7L943.3 380.2L944.7 382.1L946.2 381.5L947.6 380.9L949.1 381.1L950.5 382.6L952 381.3L953.4 382.4L954.9 381.6L956.3 380.5L957.8 380.8L959.2 380.6L960.7 381.7L962.1 381.9L963.6 382.7L965 381.7L966.5 382.7L967.9 380.4L969.4 382.1L970.8 381.9L972.3 382.7L973.7 381.3L975.2 382.2L976.6 380.4L978.1 382.4L979.5 382L981 380.5L982.4 381.5L983.9 382.8L985.4 381.3" fill="none" stroke="#ff0000" stroke-width="2.0" stroke-linejoin="round"/>
<path d="M53.4 376.1v10.4M48.2 381.3h10.4M49.5 377.4l7.8 7.8M49.5 385.2l7.8 -7.8M55.9 376.4v10.4M50.6 381.6h10.4M52 377.7l7.8 7.8M52 385.5l7.8 -7.8M57.3 377.1v10.4M52.1 382.3h10.4M53.4 378.4l7.8 7.8M53.4 386.2l7.8 -7.8M58.8 375.5v10.4M53.6 380.7h10.4M54.9 376.8l7.8 7.8M54.9 384.6l7.8 -7.8M60.2 377.1v10.4M55 382.3h10.4M56.3 378.4l7.8 7.8M56.3 386.2l7.8 -7.8M61.7 377.4v10.4M56.5 382.6h10.4M57.8 378.7l7.8 7.8M57.8 386.5l7.8 -7.8M63.1 376.1v10.4M57.9 381.3h10.4M59.2 377.4l7.8 7.8M59.2 385.2l7.8 -7.8M64.6 376.9v10.4M59.4 382.1h10.4M60.7 378.2l7.8 7.8M60.7 386l7.8 -7.8M66 375.5v10.4M60.8 380.7h10.4M62.1 376.8l7.8 7.8M62.1 384.6l7.8 -7.8M67.5 375.8v10.4M62.3 381h10.4M63.6 377.1l7.8 7.8M63.6 384.9l7.8 -7.8M68.9 375.4v10.4M63.7 380.6h10.4M65 376.7l7.8 7.8M65 384.5l7.8 -7.8M70.4 376.3v10.4M65.2 381.5h10.4M66.5 377.6l7.8 7.8M66.5 385.4l7.8 -7.8M71.8 375.3v10.4M66.6 380.5h10.4M67.9 376.6l7.8 7.8M67.9 384.4l7.8 -7.8M73.3 377.7v10.4M68.1 382.9h10.4M69.4 379l7.8 7.8M69.4 386.8l7.8 -7.8M74.7 377.1v10.4M69.5 382.3h10.4M70.8 378.4l7.8 7.8M70.8 386.2l7.8 -7.8M76.2 377.4v10.4M71 382.6h10.4M72.3 378.7l7.8 7.8M72.3 386.5l7.8 -7.8M77.6 377v10.4M72.4 382.2h10.4M73.7 378.3l7.8 7.8M73.7 386.1l7.8 -7.8M79.1 375.9v10.4M73.9 381.1h10.4M75.2 377.2l7.8 7.8M75.2 385l7.8 -7.8M80.5 374.6v10.4M75.3 379.8h10.4M76.6 375.9l7.8 7.8M76.6 383.7l7.8 -7.8M82 377.4v10.4M76.8 382.6h10.4M78.1 378.7l7.8 7.8M78.1 386.5l7.8 -7.8M83.4 377.6v10.4M78.2 382.8h10.4M79.5 378.9l7.8 7.8M79.5 386.7l7.8 -7.8M84.9 377.5v10.4M79.7 382.7h10.4M81 378.8l7.8 7.8M81 386.6l7.8 -7.8M86.3 375.3v10.4M81.1 380.5h10.4M82.4 376.6l7.8 7.8M82.4 384.4l7.8 -7.8M87.8 377.1v10.4M82.6 382.3h10.4M83.9 378.4l7.8 7.8M83.9 386.2l7.8 -7.8M89.2 376.6v10.4M84 381.8h10.4M85.3 377.9l7.8 7.8M85.3 385.7l7.8 -7.8M90.7 375.7v10.4M85.5 380.9h10.4M86.8 377l7.8 7.8M86.8 384.8l7.8 -7.8M92.1 376.3v10.4M86.9 381.5h10.4M88.2 377.6l7.8 7.8M88.2 385.4l7.8 -7.8M93.6 374.6v10.4M88.4 379.8h10.4M89.7 375.9l7.8 7.8M89.7 383.7l7.8 -7.8M95 376.9v10.4M89.8 382.1h10.4M91.1 378.2l7.8 7.8M91.1 386l7.8 -7.8M96.5 375.6v10.4M91.3 380.8h10.4M92.6 376.9l7.8 7.8M92.6 384.7l7.8 -7.8M97.9 376.3v10.4M92.7 381.5h10.4M94 377.6l7.8 7.8M94 385.4l7.8 -7.8M99.4 376.6v10.4M94.2 381.8h10.4M95.5 377.9l7.8 7.8M95.5 385.7l7.8 -7.8M100.8 375.5v10.4M95.6 380.7h10.4M96.9 376.8l7.8 7.8M96.9 384.6l7.8 -7.8M102.3 376.9v10.4M97.1 382.1h10.4M98.4 378.2l7.8 7.8M98.4 386l7.8 -7.8M103.7 376.9v10.4M98.5 382.1h10.4M99.8 378.2l7.8 7.8M99.8 386l7.8 -7.8M105.2 375.7v10.4M100 380.9h10.4M101.3 377l7.8 7.8M101.3 384.8l7.8 -7.8M106.6 375.9v10.4M101.4 381.1h10.4M102.7 377.2l7.8 7.8M102.7 385l7.8 -7.8M108.1 376.1v10.4M102.9 381.3h10.4M104.2 377.4l7.8 7.8M104.2 385.2l7.8 -7.8M110 371.2v10.4M104.8 376.4h10.4M106.1 372.5l7.8 7.8M106.1 380.3l7.8 -7.8M111 376.8v10.4M105.8 382h10.4M107.1 378.1l7.8 7.8M107.1 385.9l7.8 -7.8M112.4 376.2v10.4M107.2 381.4h10.4M108.5 377.5l7.8 7.8M108.5 385.3l7.8 -7.8M113.9 377.7v10.4M108.7 382.9h10.4M110 379l7.8 7.8M110 386.8l7.8 -7.8M115.3 377v10.4M110.1 382.2h10.4M111.4 378.3l7.8 7.8M111.4 386.1l7.8 -7.8M116.8 375.5v10.4M111.6 380.7h10.4M112.9 376.8l7.8 7.8M112.9 384.6l7.8 -7.8M118.2 376v10.4M113 381.2h10.4M114.3 377.3l7.8 7.8M114.3 385.1l7.8 -7.8M119.7 375.7v10.4M114.5 380.9h10.4M115.8 377l7.8 7.8M115.8 384.8l7.8 -7.8M121.1 375.5v10.4M115.9 380.7h10.4M117.2 376.8l7.8 7.8M117.2 384.6l7.8 -7.8M122.6 375.4v10.4M117.4 380.6h10.4M118.7 376.7l7.8 7.8M118.7 384.5l7.8 -7.8M124 376.3v10.4M118.8 381.5h10.4M120.1 377.6l7.8 7.8M120.1 385.4l7.8 -7.8M125.5 376.2v10.4M120.3 381.4h10.4M121.6 377.5l7.8 7.8M121.6 385.3l7.8 -7.8M126.9 377.6v10.4M121.7 382.8h10.4M123 378.9l7.8 7.8M123 386.7l7.8 -7.8M128.4 377.5v10.4M123.2 382.7h10.4M124.5 378.8l7.8 7.8M124.5 386.6l7.8 -7.8M129.8 375.5v10.4M124.6 380.7h10.4M125.9 376.8l7.8 7.8M125.9 384.6l7.8 -7.8M131.3 375.3v10.4M126.1 380.5h10.4M127.4 376.6l7.8 7.8M127.4 384.4l7.8 -7.8M132.7 375.1v10.4M127.5 380.3h10.4M128.8 376.4l7.8 7.8M128.8 384.2l7.8 -7.8M134.2 377.6v10.4M129 382.8h10.4M130.3 378.9l7.8 7.8M130.3 386.7l7.8 -7.8M135.6 375.9v10.4M130.4 381.1h10.4M131.7 377.2l7.8 7.8M131.7 385l7.8 -7.8M137.1 375.9v10.4M131.9 381.1h10.4M133.2 377.2l7.8 7.8M133.2 385l7.8 -7.8M138.5 376v10.4M133.3 381.2h10.4M134.6 377.3l7.8 7.8M134.6 385.1l7.8 -7.8M140 377.3v10.4M134.8 382.5h10.4M136.1 378.6l7.8 7.8M136.1 386.4l7.8 -7.8M141.4 374.9v10.4M136.2 380.1h10.4M137.5 376.2l7.8 7.8M137.5 384l7.8 -7.8M142.9 376.9v10.4M137.7 382.1h10.4M139 378.2l7.8 7.8M139 386l7.8 -7.8M144.3 376.7v10.4M139.1 381.9h10.4M140.4 378l7.8 7.8M140.4 385.8l7.8 -7.8M145.8 376v10.4M140.6 381.2h10.4M141.8 377.3l7.8 7.8M141.8 385.1l7.8 -7.8M147.2 375.7v10.4M142 380.9h10.4M143.3 377l7.8 7.8M143.3 384.8l7.8 -7.8M148.6 376.8v10.4M143.4 382h10.4M144.7 378.1l7.8 7.8M144.7 385.9l7.8 -7.8M150.1 377.6v10.4M144.9 382.8h10.4M146.2 378.9l7.8 7.8M146.2 386.7l7.8 -7.8M151.5 375.9v10.4M146.3 381.1h10.4M147.6 377.2l7.8 7.8M147.6 385l7.8 -7.8M153 377.1v10.4M147.8 382.3h10.4M149.1 378.4l7.8 7.8M149.1 386.2l7.8 -7.8M154.4 376.8v10.4M149.2 382h10.4M150.5 378.1l7.8 7.8M150.5 385.9l7.8 -7.8M155.9 377.5v10.4M150.7 382.7h10.4M152 378.8l7.8 7.8M152 386.6l7.8 -7.8M157.3 376v10.4M152.1 381.2h10.4M153.4 377.3l7.8 7.8M153.4 385.1l7.8 -7.8M158.8 375.2v10.4M153.6 380.4h10.4M154.9 376.5l7.8 7.8M154.9 384.3l7.8 -7.8M160.2 376.6v10.4M155 381.8h10.4M156.3 377.9l7.8 7.8M156.3 385.7l7.8 -7.8M161.7 376.2v10.4M156.5 381.4h10.4M157.8 377.5l7.8 7.8M157.8 385.3l7.8 -7.8M163.1 375.9v10.4M157.9 381.1h10.4M159.2 377.2l7.8 7.8M159.2 385l7.8 -7.8M164.6 375.9v10.4M159.4 381.1h10.4M160.7 377.2l7.8 7.8M160.7 385l7.8 -7.8M166 377.5v10.4M160.8 382.7h10.4M162.1 378.8l7.8 7.8M162.1 386.6l7.8 -7.8M167.5 376.2v10.4M162.3 381.4h10.4M163.6 377.5l7.8 7.8M163.6 385.3l7.8 -7.8M168.9 376v10.4M163.7 381.2h10.4M165 377.3l7.8 7.8M165 385.1l7.8 -7.8M170.4 377.1v10.4M165.2 382.3h10.4M166.5 378.4l7.8 7.8M166.5 386.2l7.8 -7.8M171.8 375.9v10.4M166.6 381.1h10.4M167.9 377.2l7.8 7.8M167.9 385l7.8 -7.8M173.3 375.9v10.4M168.1 381.1h10.4M169.4 377.2l7.8 7.8M169.4 385l7.8 -7.8M174.7 376.4v10.4M169.5 381.6h10.4M170.8 377.7l7.8 7.8M170.8 385.5l7.8 -7.8M176.2 375.8v10.4M171 381h10.4M172.3 377.1l7.8 7.8M172.3 384.9l7.8 -7.8M177.6 375.3v10.4M172.4 380.5h10.4M173.7 376.6l7.8 7.8M173.7 384.4l7.8 -7.8M179.1 375v10.4M173.9 380.2h10.4M175.2 376.3l7.8 7.8M175.2 384.1l7.8 -7.8M180.5 375.1v10.4M175.3 380.3h10.4M176.6 376.4l7.8 7.8M176.6 384.2l7.8 -7.8M182 375.3v10.4M176.8 380.5h10.4M178.1 376.6l7.8 7.8M178.1 384.4l7.8 -7.8M183.4 375.1v10.4M178.2 380.3h10.4M179.5 376.4l7.8 7.8M179.5 384.2l7.8 -7.8M184.6 365.8v10.4M179.4 371h10.4M180.7 367.1l7.8 7.8M180.7 374.9l7.8 -7.8M187.5 350.8v10.4M182.3 356h10.4M183.6 352.1l7.8 7.8M183.6 359.9l7.8 -7.8M190.4 365.5v10.4M185.2 370.7h10.4M186.5 366.8l7.8 7.8M186.5 374.6l7.8 -7.8M192.1 377v10.4M186.9 382.2h10.4M188.2 378.3l7.8 7.8M188.2 386.1l7.8 -7.8M193.6 376v10.4M188.4 381.2h10.4M189.7 377.3l7.8 7.8M189.7 385.1l7.8 -7.8M195 377.3v10.4M189.8 382.5h10.4M191.1 378.6l7.8 7.8M191.1 386.4l7.8 -7.8M196.5 376.6v10.4M191.3 381.8h10.4M192.6 377.9l7.8 7.8M192.6 385.7l7.8 -7.8M197.9 374.8v10.4M192.7 380h10.4M194 376.1l7.8 7.8M194 383.9l7.8 -7.8M199.4 375v10.4M194.2 380.2h10.4M195.5 376.3l7.8 7.8M195.5 384.1l7.8 -7.8M200.8 376.7v10.4M195.6 381.9h10.4M196.9 378l7.8 7.8M196.9 385.8l7.8 -7.8M202.3 375.4v10.4M197.1 380.6h10.4M198.4 376.7l7.8 7.8M198.4 384.5l7.8 -7.8M203.7 376.6v10.4M198.5 381.8h10.4M199.8 377.9l7.8 7.8M199.8 385.7l7.8 -7.8M205.2 377.6v10.4M200 382.8h10.4M201.3 378.9l7.8 7.8M201.3 386.7l7.8 -7.8M206.6 377.6v10.4M201.4 382.8h10.4M202.7 378.9l7.8 7.8M202.7 386.7l7.8 -7.8M208.1 376v10.4M202.9 381.2h10.4M204.2 377.3l7.8 7.8M204.2 385.1l7.8 -7.8M209.5 375.6v10.4M204.3 380.8h10.4M205.6 376.9l7.8 7.8M205.6 384.7l7.8 -7.8M211 377.7v10.4M205.8 382.9h10.4M207.1 379l7.8 7.8M207.1 386.8l7.8 -7.8M212.4 375.4v10.4M207.2 380.6h10.4M208.5 376.7l7.8 7.8M208.5 384.5l7.8 -7.8M213.9 375.3v10.4M208.7 380.5h10.4M210 376.6l7.8 7.8M210 384.4l7.8 -7.8M215.3 376.1v10.4M210.1 381.3h10.4M211.4 377.4l7.8 7.8M211.4 385.2l7.8 -7.8M216.8 376.1v10.4M211.6 381.3h10.4M212.9 377.4l7.8 7.8M212.9 385.2l7.8 -7.8M218.2 377.1v10.4M213 382.3h10.4M214.3 378.4l7.8 7.8M214.3 386.2l7.8 -7.8M219.7 376.2v10.4M214.5 381.4h10.4M215.8 377.5l7.8 7.8M215.8 385.3l7.8 -7.8M221.1 376.6v10.4M215.9 381.8h10.4M217.2 377.9l7.8 7.8M217.2 385.7l7.8 -7.8M222.6 376v10.4M217.4 381.2h10.4M218.7 377.3l7.8 7.8M218.7 385.1l7.8 -7.8M224 377.3v10.4M218.8 382.5h10.4M220.1 378.6l7.8 7.8M220.1 386.4l7.8 -7.8M225.5 376.5v10.4M220.3 381.7h10.4M221.6 377.8l7.8 7.8M221.6 385.6l7.8 -7.8M226.9 375.4v10.4M221.7 380.6h10.4M223 376.7l7.8 7.8M223 384.5l7.8 -7.8M228.4 375.5v10.4M223.2 380.7h10.4M224.5 376.8l7.8 7.8M224.5 384.6l7.8 -7.8M229.8 377.1v10.4M224.6 382.3h10.4M225.9 378.4l7.8 7.8M225.9 386.2l7.8 -7.8M231.3 374.9v10.4M226.1 380.1h10.4M227.4 376.2l7.8 7.8M227.4 384l7.8 -7.8M232.7 376.1v10.4M227.5 381.3h10.4M228.8 377.4l7.8 7.8M228.8 385.2l7.8 -7.8M234.2 376.5v10.4M229 381.7h10.4M230.3 377.8l7.8 7.8M230.3 385.6l7.8 -7.8M235.6 376v10.4M230.4 381.2h10.4M231.7 377.3l7.8 7.8M231.7 385.1l7.8 -7.8M237.1 377.6v10.4M231.9 382.8h10.4M233.2 378.9l7.8 7.8M233.2 386.7l7.8 -7.8M238.5 376.6v10.4M233.3 381.8h10.4M234.6 377.9l7.8 7.8M234.6 385.7l7.8 -7.8M240 376v10.4M234.8 381.2h10.4M236.1 377.3l7.8 7.8M236.1 385.1l7.8 -7.8M241.4 377.4v10.4M236.2 382.6h10.4M237.5 378.7l7.8 7.8M237.5 386.5l7.8 -7.8M242.9 377.1v10.4M237.7 382.3h10.4M239 378.4l7.8 7.8M239 386.2l7.8 -7.8M244.3 377.7v10.4M239.1 382.9h10.4M240.4 379l7.8 7.8M240.4 386.8l7.8 -7.8M245.8 375.8v10.4M240.6 381h10.4M241.9 377.1l7.8 7.8M241.9 384.9l7.8 -7.8M247.2 375.6v10.4M242 380.8h10.4M243.3 376.9l7.8 7.8M243.3 384.7l7.8 -7.8M248.7 375.3v10.4M243.5 380.5h10.4M244.8 376.6l7.8 7.8M244.8 384.4l7.8 -7.8M249.6 370.3v10.4M244.4 375.5h10.4M245.7 371.6l7.8 7.8M245.7 379.4l7.8 -7.8M252.4 366.2v10.4M247.2 371.4h10.4M248.5 367.5l7.8 7.8M248.5 375.3l7.8 -7.8M255.3 371.3v10.4M250.1 376.5h10.4M251.4 372.6l7.8 7.8M251.4 380.4l7.8 -7.8M257.4 376.5v10.4M252.2 381.7h10.4M253.5 377.8l7.8 7.8M253.5 385.6l7.8 -7.8M258.8 377.5v10.4M253.6 382.7h10.4M254.9 378.8l7.8 7.8M254.9 386.6l7.8 -7.8M260.3 377.1v10.4M255.1 382.3h10.4M256.4 378.4l7.8 7.8M256.4 386.2l7.8 -7.8M261.7 375.7v10.4M256.5 380.9h10.4M257.8 377l7.8 7.8M257.8 384.8l7.8 -7.8M263.2 377.3v10.4M258 382.5h10.4M259.3 378.6l7.8 7.8M259.3 386.4l7.8 -7.8M264.6 376.9v10.4M259.4 382.1h10.4M260.7 378.2l7.8 7.8M260.7 386l7.8 -7.8M266.1 376.9v10.4M260.9 382.1h10.4M262.2 378.2l7.8 7.8M262.2 386l7.8 -7.8M267.5 375.2v10.4M262.3 380.4h10.4M263.6 376.5l7.8 7.8M263.6 384.3l7.8 -7.8M269 376.9v10.4M263.8 382.1h10.4M265.1 378.2l7.8 7.8M265.1 386l7.8 -7.8M270.4 376.7v10.4M265.2 381.9h10.4M266.5 378l7.8 7.8M266.5 385.8l7.8 -7.8M271.9 375.9v10.4M266.7 381.1h10.4M268 377.2l7.8 7.8M268 385l7.8 -7.8M273.3 377.5v10.4M268.1 382.7h10.4M269.4 378.8l7.8 7.8M269.4 386.6l7.8 -7.8M274.8 376.1v10.4M269.6 381.3h10.4M270.9 377.4l7.8 7.8M270.9 385.2l7.8 -7.8M276.2 377.2v10.4M271 382.4h10.4M272.3 378.5l7.8 7.8M272.3 386.3l7.8 -7.8M277.7 376.2v10.4M272.5 381.4h10.4M273.8 377.5l7.8 7.8M273.8 385.3l7.8 -7.8M279.1 376v10.4M273.9 381.2h10.4M275.2 377.3l7.8 7.8M275.2 385.1l7.8 -7.8M280.6 376.2v10.4M275.4 381.4h10.4M276.7 377.5l7.8 7.8M276.7 385.3l7.8 -7.8M282 377v10.4M276.8 382.2h10.4M278.1 378.3l7.8 7.8M278.1 386.1l7.8 -7.8M283.5 375.1v10.4M278.3 380.3h10.4M279.6 376.4l7.8 7.8M279.6 384.2l7.8 -7.8M284.9 376.4v10.4M279.7 381.6h10.4M281 377.7l7.8 7.8M281 385.5l7.8 -7.8M286.4 375.3v10.4M281.2 380.5h10.4M282.5 376.6l7.8 7.8M282.5 384.4l7.8 -7.8M287.8 376v10.4M282.6 381.2h10.4M283.9 377.3l7.8 7.8M283.9 385.1l7.8 -7.8M289.3 376.4v10.4M284.1 381.6h10.4M285.4 377.7l7.8 7.8M285.4 385.5l7.8 -7.8M290.7 375.1v10.4M285.5 380.3h10.4M286.8 376.4l7.8 7.8M286.8 384.2l7.8 -7.8M292.2 376.6v10.4M287 381.8h10.4M288.3 377.9l7.8 7.8M288.3 385.7l7.8 -7.8M293.6 376.2v10.4M288.4 381.4h10.4M289.7 377.5l7.8 7.8M289.7 385.3l7.8 -7.8M295.1 376.9v10.4M289.9 382.1h10.4M291.2 378.2l7.8 7.8M291.2 386l7.8 -7.8M296.5 377.5v10.4M291.3 382.7h10.4M292.6 378.8l7.8 7.8M292.6 386.6l7.8 -7.8M298 375.3v10.4M292.8 380.5h10.4M294.1 376.6l7.8 7.8M294.1 384.4l7.8 -7.8M299.4 375.2v10.4M294.2 380.4h10.4M295.5 376.5l7.8 7.8M295.5 384.3l7.8 -7.8M300.9 376.3v10.4M295.7 381.5h10.4M297 377.6l7.8 7.8M297 385.4l7.8 -7.8M302.3 375.4v10.4M297.1 380.6h10.4M298.4 376.7l7.8 7.8M298.4 384.5l7.8 -7.8M303.8 376.2v10.4M298.6 381.4h10.4M299.9 377.5l7.8 7.8M299.9 385.3l7.8 -7.8M305.2 375.6v10.4M300 380.8h10.4M301.3 376.9l7.8 7.8M301.3 384.7l7.8 -7.8M306.7 375.5v10.4M301.5 380.7h10.4M302.8 376.8l7.8 7.8M302.8 384.6l7.8 -7.8M308.1 376.6v10.4M302.9 381.8h10.4M304.2 377.9l7.8 7.8M304.2 385.7l7.8 -7.8M309.6 377.1v10.4M304.4 382.3h10.4M305.7 378.4l7.8 7.8M305.7 386.2l7.8 -7.8M311 376.4v10.4M305.8 381.6h10.4M307.1 377.7l7.8 7.8M307.1 385.5l7.8 -7.8M312.5 376.1v10.4M307.3 381.3h10.4M308.6 377.4l7.8 7.8M308.6 385.2l7.8 -7.8M313.9 377.5v10.4M308.7 382.7h10.4M310 378.8l7.8 7.8M310 386.6l7.8 -7.8M315.4 376.8v10.4M310.2 382h10.4M311.5 378.1l7.8 7.8M311.5 385.9l7.8 -7.8M316.8 375.5v10.4M311.6 380.7h10.4M312.9 376.8l7.8 7.8M312.9 384.6l7.8 -7.8M318.3 377.2v10.4M313.1 382.4h10.4M314.4 378.5l7.8 7.8M314.4 386.3l7.8 -7.8M319.7 377.5v10.4M314.5 382.7h10.4M315.8 378.8l7.8 7.8M315.8 386.6l7.8 -7.8M321.2 376.8v10.4M316 382h10.4M317.3 378.1l7.8 7.8M317.3 385.9l7.8 -7.8M322.6 376v10.4M317.4 381.2h10.4M318.7 377.3l7.8 7.8M318.7 385.1l7.8 -7.8M324.1 375.3v10.4M318.9 380.5h10.4M320.2 376.6l7.8 7.8M320.2 384.4l7.8 -7.8M325.5 376.3v10.4M320.3 381.5h10.4M321.6 377.6l7.8 7.8M321.6 385.4l7.8 -7.8M327 375.9v10.4M321.8 381.1h10.4M323.1 377.2l7.8 7.8M323.1 385l7.8 -7.8M328.4 377v10.4M323.2 382.2h10.4M324.5 378.3l7.8 7.8M324.5 386.1l7.8 -7.8M329.9 375.4v10.4M324.7 380.6h10.4M326 376.7l7.8 7.8M326 384.5l7.8 -7.8M331.3 375.9v10.4M326.1 381.1h10.4M327.4 377.2l7.8 7.8M327.4 385l7.8 -7.8M332.8 377.6v10.4M327.6 382.8h10.4M328.9 378.9l7.8 7.8M328.9 386.7l7.8 -7.8M334.2 376.5v10.4M329 381.7h10.4M330.3 377.8l7.8 7.8M330.3 385.6l7.8 -7.8M335.7 376v10.4M330.5 381.2h10.4M331.8 377.3l7.8 7.8M331.8 385.1l7.8 -7.8M337.1 375.4v10.4M331.9 380.6h10.4M333.2 376.7l7.8 7.8M333.2 384.5l7.8 -7.8M338.6 375.2v10.4M333.4 380.4h10.4M334.7 376.5l7.8 7.8M334.7 384.3l7.8 -7.8M340 376.7v10.4M334.8 381.9h10.4M336.1 378l7.8 7.8M336.1 385.8l7.8 -7.8M341.5 377.6v10.4M336.3 382.8h10.4M337.6 378.9l7.8 7.8M337.6 386.7l7.8 -7.8M342.9 375.9v10.4M337.7 381.1h10.4M339 377.2l7.8 7.8M339 385l7.8 -7.8M344.4 376.7v10.4M339.2 381.9h10.4M340.5 378l7.8 7.8M340.5 385.8l7.8 -7.8M345.8 377.3v10.4M340.6 382.5h10.4M341.9 378.6l7.8 7.8M341.9 386.4l7.8 -7.8M347.3 375.9v10.4M342.1 381.1h10.4M343.4 377.2l7.8 7.8M343.4 385l7.8 -7.8M348.7 375.7v10.4M343.5 380.9h10.4M344.8 377l7.8 7.8M344.8 384.8l7.8 -7.8M350.2 375.6v10.4M345 380.8h10.4M346.3 376.9l7.8 7.8M346.3 384.7l7.8 -7.8M351.6 374.2v10.4M346.4 379.4h10.4M347.7 375.5l7.8 7.8M347.7 383.3l7.8 -7.8M353.1 375.5v10.4M347.9 380.7h10.4M349.2 376.8l7.8 7.8M349.2 384.6l7.8 -7.8M354.5 375.2v10.4M349.3 380.4h10.4M350.6 376.5l7.8 7.8M350.6 384.3l7.8 -7.8M356 376.8v10.4M350.8 382h10.4M352.1 378.1l7.8 7.8M352.1 385.9l7.8 -7.8M357.4 377.5v10.4M352.2 382.7h10.4M353.5 378.8l7.8 7.8M353.5 386.6l7.8 -7.8M358.9 376.8v10.4M353.7 382h10.4M355 378.1l7.8 7.8M355 385.9l7.8 -7.8M360.3 374.2v10.4M355.1 379.4h10.4M356.4 375.5l7.8 7.8M356.4 383.3l7.8 -7.8M361.8 377.6v10.4M356.6 382.8h10.4M357.9 378.9l7.8 7.8M357.9 386.7l7.8 -7.8M363.2 375.8v10.4M358 381h10.4M359.3 377.1l7.8 7.8M359.3 384.9l7.8 -7.8M364.7 377.4v10.4M359.5 382.6h10.4M360.8 378.7l7.8 7.8M360.8 386.5l7.8 -7.8M366.1 376.9v10.4M360.9 382.1h10.4M362.2 378.2l7.8 7.8M362.2 386l7.8 -7.8M367.6 375.4v10.4M362.4 380.6h10.4M363.7 376.7l7.8 7.8M363.7 384.5l7.8 -7.8M369 375.2v10.4M363.8 380.4h10.4M365.1 376.5l7.8 7.8M365.1 384.3l7.8 -7.8M370.5 375.6v10.4M365.3 380.8h10.4M366.6 376.9l7.8 7.8M366.6 384.7l7.8 -7.8M371.9 376.3v10.4M366.7 381.5h10.4M368 377.6l7.8 7.8M368 385.4l7.8 -7.8M373.4 377.6v10.4M368.2 382.8h10.4M369.5 378.9l7.8 7.8M369.5 386.7l7.8 -7.8M374.8 375.5v10.4M369.6 380.7h10.4M370.9 376.8l7.8 7.8M370.9 384.6l7.8 -7.8M376.3 377.6v10.4M371.1 382.8h10.4M372.4 378.9l7.8 7.8M372.4 386.7l7.8 -7.8M377.7 377v10.4M372.5 382.2h10.4M373.8 378.3l7.8 7.8M373.8 386.1l7.8 -7.8M379.2 375.3v10.4M374 380.5h10.4M375.3 376.6l7.8 7.8M375.3 384.4l7.8 -7.8M380.6 376.8v10.4M375.4 382h10.4M376.7 378.1l7.8 7.8M376.7 385.9l7.8 -7.8M382.1 377.7v10.4M376.9 382.9h10.4M378.2 379l7.8 7.8M378.2 386.8l7.8 -7.8M383.5 376.6v10.4M378.3 381.8h10.4M379.6 377.9l7.8 7.8M379.6 385.7l7.8 -7.8M385 375.4v10.4M379.8 380.6h10.4M381.1 376.7l7.8 7.8M381.1 384.5l7.8 -7.8M386.4 376.4v10.4M381.2 381.6h10.4M382.5 377.7l7.8 7.8M382.5 385.5l7.8 -7.8M387.9 377.4v10.4M382.7 382.6h10.4M384 378.7l7.8 7.8M384 386.5l7.8 -7.8M389.3 375.3v10.4M384.1 380.5h10.4M385.4 376.6l7.8 7.8M385.4 384.4l7.8 -7.8M390.8 375.3v10.4M385.6 380.5h10.4M386.9 376.6l7.8 7.8M386.9 384.4l7.8 -7.8M392.2 377.1v10.4M387 382.3h10.4M388.3 378.4l7.8 7.8M388.3 386.2l7.8 -7.8M393.7 376.3v10.4M388.5 381.5h10.4M389.8 377.6l7.8 7.8M389.8 385.4l7.8 -7.8M395.1 376.5v10.4M389.9 381.7h10.4M391.2 377.8l7.8 7.8M391.2 385.6l7.8 -7.8M396.6 376.3v10.4M391.4 381.5h10.4M392.7 377.6l7.8 7.8M392.7 385.4l7.8 -7.8M398 376.1v10.4M392.8 381.3h10.4M394.1 377.4l7.8 7.8M394.1 385.2l7.8 -7.8M399.5 377v10.4M394.3 382.2h10.4M395.6 378.3l7.8 7.8M395.6 386.1l7.8 -7.8M400.9 377.2v10.4M395.7 382.4h10.4M397 378.5l7.8 7.8M397 386.3l7.8 -7.8M402.4 375.2v10.4M397.2 380.4h10.4M398.5 376.5l7.8 7.8M398.5 384.3l7.8 -7.8M403.8 376v10.4M398.6 381.2h10.4M399.9 377.3l7.8 7.8M399.9 385.1l7.8 -7.8M405.3 377v10.4M400.1 382.2h10.4M401.4 378.3l7.8 7.8M401.4 386.1l7.8 -7.8M406.7 376.8v10.4M401.5 382h10.4M402.8 378.1l7.8 7.8M402.8 385.9l7.8 -7.8M408.2 376.2v10.4M403 381.4h10.4M404.3 377.5l7.8 7.8M404.3 385.3l7.8 -7.8M409.6 377.5v10.4M404.4 382.7h10.4M405.7 378.8l7.8 7.8M405.7 386.6l7.8 -7.8M411.1 375.3v10.4M405.9 380.5h10.4M407.2 376.6l7.8 7.8M407.2 384.4l7.8 -7.8M412.5 375.8v10.4M407.3 381h10.4M408.6 377.1l7.8 7.8M408.6 384.9l7.8 -7.8M414 376.7v10.4M408.8 381.9h10.4M410.1 378l7.8 7.8M410.1 385.8l7.8 -7.8M415.4 375.8v10.4M410.2 381h10.4M411.5 377.1l7.8 7.8M411.5 384.9l7.8 -7.8M416.9 377.5v10.4M411.7 382.7h10.4M413 378.8l7.8 7.8M413 386.6l7.8 -7.8M418.3 375.3v10.4M413.1 380.5h10.4M414.4 376.6l7.8 7.8M414.4 384.4l7.8 -7.8M419.8 375.8v10.4M414.6 381h10.4M415.9 377.1l7.8 7.8M415.9 384.9l7.8 -7.8M421.2 376.9v10.4M416 382.1h10.4M417.3 378.2l7.8 7.8M417.3 386l7.8 -7.8M422.7 375.2v10.4M417.5 380.4h10.4M418.8 376.5l7.8 7.8M418.8 384.3l7.8 -7.8M424.1 377.3v10.4M418.9 382.5h10.4M420.2 378.6l7.8 7.8M420.2 386.4l7.8 -7.8M425.6 375.3v10.4M420.4 380.5h10.4M421.7 376.6l7.8 7.8M421.7 384.4l7.8 -7.8M427 375.1v10.4M421.8 380.3h10.4M423.1 376.4l7.8 7.8M423.1 384.2l7.8 -7.8M428.5 375.8v10.4M423.3 381h10.4M424.6 377.1l7.8 7.8M424.6 384.9l7.8 -7.8M429.9 377v10.4M424.7 382.2h10.4M426 378.3l7.8 7.8M426 386.1l7.8 -7.8M431.4 376.3v10.4M426.2 381.5h10.4M427.5 377.6l7.8 7.8M427.5 385.4l7.8 -7.8M432.8 376.8v10.4M427.6 382h10.4M428.9 378.1l7.8 7.8M428.9 385.9l7.8 -7.8M434.3 376.8v10.4M429.1 382h10.4M430.4 378.1l7.8 7.8M430.4 385.9l7.8 -7.8M435.7 377.1v10.4M430.5 382.3h10.4M431.8 378.4l7.8 7.8M431.8 386.2l7.8 -7.8M437.2 376v10.4M432 381.2h10.4M433.3 377.3l7.8 7.8M433.3 385.1l7.8 -7.8M438.6 375.1v10.4M433.4 380.3h10.4M434.7 376.4l7.8 7.8M434.7 384.2l7.8 -7.8M440.1 377.7v10.4M434.9 382.9h10.4M436.2 379l7.8 7.8M436.2 386.8l7.8 -7.8M441.5 375.6v10.4M436.3 380.8h10.4M437.6 376.9l7.8 7.8M437.6 384.7l7.8 -7.8M443 375.5v10.4M437.8 380.7h10.4M439.1 376.8l7.8 7.8M439.1 384.6l7.8 -7.8M444.4 376.8v10.4M439.2 382h10.4M440.5 378.1l7.8 7.8M440.5 385.9l7.8 -7.8M445.9 374.4v10.4M440.7 379.6h10.4M442 375.7l7.8 7.8M442 383.5l7.8 -7.8M447.3 377.7v10.4M442.1 382.9h10.4M443.4 379l7.8 7.8M443.4 386.8l7.8 -7.8M448.8 375.2v10.4M443.6 380.4h10.4M444.9 376.5l7.8 7.8M444.9 384.3l7.8 -7.8M450.2 376.3v10.4M445 381.5h10.4M446.3 377.6l7.8 7.8M446.3 385.4l7.8 -7.8M451.7 376.8v10.4M446.5 382h10.4M447.8 378.1l7.8 7.8M447.8 385.9l7.8 -7.8M453.1 377.2v10.4M447.9 382.4h10.4M449.2 378.5l7.8 7.8M449.2 386.3l7.8 -7.8M454.6 377.5v10.4M449.4 382.7h10.4M450.7 378.8l7.8 7.8M450.7 386.6l7.8 -7.8M456 376.2v10.4M450.8 381.4h10.4M452.1 377.5l7.8 7.8M452.1 385.3l7.8 -7.8M457.5 376.3v10.4M452.3 381.5h10.4M453.6 377.6l7.8 7.8M453.6 385.4l7.8 -7.8M458.9 376.8v10.4M453.7 382h10.4M455 378.1l7.8 7.8M455 385.9l7.8 -7.8M460.4 376.5v10.4M455.2 381.7h10.4M456.5 377.8l7.8 7.8M456.5 385.6l7.8 -7.8M461.8 375v10.4M456.6 380.2h10.4M457.9 376.3l7.8 7.8M457.9 384.1l7.8 -7.8M463.3 377.1v10.4M458.1 382.3h10.4M459.4 378.4l7.8 7.8M459.4 386.2l7.8 -7.8M464.7 374.8v10.4M459.5 380h10.4M460.8 376.1l7.8 7.8M460.8 383.9l7.8 -7.8M466.2 376.9v10.4M461 382.1h10.4M462.3 378.2l7.8 7.8M462.3 386l7.8 -7.8M467.6 376.8v10.4M462.4 382h10.4M463.7 378.1l7.8 7.8M463.7 385.9l7.8 -7.8M469.1 376.9v10.4M463.9 382.1h10.4M465.2 378.2l7.8 7.8M465.2 386l7.8 -7.8M470.5 377.6v10.4M465.3 382.8h10.4M466.6 378.9l7.8 7.8M466.6 386.7l7.8 -7.8M472 374.9v10.4M466.8 380.1h10.4M468.1 376.2l7.8 7.8M468.1 384l7.8 -7.8M473.4 376.9v10.4M468.2 382.1h10.4M469.5 378.2l7.8 7.8M469.5 386l7.8 -7.8M474.9 376.7v10.4M469.7 381.9h10.4M471 378l7.8 7.8M471 385.8l7.8 -7.8M476.3 377.3v10.4M471.1 382.5h10.4M472.4 378.6l7.8 7.8M472.4 386.4l7.8 -7.8M477.8 375.2v10.4M472.6 380.4h10.4M473.9 376.5l7.8 7.8M473.9 384.3l7.8 -7.8M479.2 376.7v10.4M474 381.9h10.4M475.3 378l7.8 7.8M475.3 385.8l7.8 -7.8M480.7 375.9v10.4M475.5 381.1h10.4M476.8 377.2l7.8 7.8M476.8 385l7.8 -7.8M482.1 377.7v10.4M476.9 382.9h10.4M478.2 379l7.8 7.8M478.2 386.8l7.8 -7.8M483.6 377.4v10.4M478.4 382.6h10.4M479.7 378.7l7.8 7.8M479.7 386.5l7.8 -7.8M485 377.3v10.4M479.8 382.5h10.4M481.1 378.6l7.8 7.8M481.1 386.4l7.8 -7.8M486.5 377.6v10.4M481.3 382.8h10.4M482.6 378.9l7.8 7.8M482.6 386.7l7.8 -7.8M487.9 377.6v10.4M482.7 382.8h10.4M484 378.9l7.8 7.8M484 386.7l7.8 -7.8M489.4 375.5v10.4M484.2 380.7h10.4M485.5 376.8l7.8 7.8M485.5 384.6l7.8 -7.8M490.8 376.3v10.4M485.6 381.5h10.4M486.9 377.6l7.8 7.8M486.9 385.4l7.8 -7.8M492 373.3v10.4M486.8 378.5h10.4M488.1 374.6l7.8 7.8M488.1 382.4l7.8 -7.8M494.8 371.3v10.4M489.6 376.5h10.4M490.9 372.6l7.8 7.8M490.9 380.4l7.8 -7.8M497.7 368.6v10.4M492.5 373.8h10.4M493.8 369.9l7.8 7.8M493.8 377.7l7.8 -7.8M500.6 365.4v10.4M495.4 370.6h10.4M496.7 366.7l7.8 7.8M496.7 374.5l7.8 -7.8M503.4 366.2v10.4M498.2 371.4h10.4M499.5 367.5l7.8 7.8M499.5 375.3l7.8 -7.8M506.2 367.8v10.4M501 373h10.4M502.3 369.1l7.8 7.8M502.3 376.9l7.8 -7.8M509 369.3v10.4M503.8 374.5h10.4M505.1 370.6l7.8 7.8M505.1 378.4l7.8 -7.8M512 369.8v10.4M506.8 375h10.4M508.1 371.1l7.8 7.8M508.1 378.9l7.8 -7.8M514.9 368.8v10.4M509.7 374h10.4M511 370.1l7.8 7.8M511 377.9l7.8 -7.8M515.7 333.8v10.4M510.5 339h10.4M511.8 335.1l7.8 7.8M511.8 342.9l7.8 -7.8M518.6 164.1v10.4M513.4 169.3h10.4M514.7 165.4l7.8 7.8M514.7 173.2l7.8 -7.8M522.5 146.5v10.4M517.3 151.7h10.4M518.6 147.8l7.8 7.8M518.6 155.6l7.8 -7.8M523.8 321.2v10.4M518.6 326.4h10.4M519.9 322.5l7.8 7.8M519.9 330.3l7.8 -7.8M524.5 366.8v10.4M519.3 372h10.4M520.6 368.1l7.8 7.8M520.6 375.9l7.8 -7.8M527.2 367.6v10.4M522 372.8h10.4M523.3 368.9l7.8 7.8M523.3 376.7l7.8 -7.8M530 367.8v10.4M524.8 373h10.4M526.1 369.1l7.8 7.8M526.1 376.9l7.8 -7.8M533 368.8v10.4M527.8 374h10.4M529.1 370.1l7.8 7.8M529.1 377.9l7.8 -7.8M536 370.4v10.4M530.8 375.6h10.4M532.1 371.7l7.8 7.8M532.1 379.5l7.8 -7.8M539 372.4v10.4M533.8 377.6h10.4M535.1 373.7l7.8 7.8M535.1 381.5l7.8 -7.8M542 373.8v10.4M536.8 379h10.4M538.1 375.1l7.8 7.8M538.1 382.9l7.8 -7.8M543 375.8v10.4M537.8 381h10.4M539.1 377.1l7.8 7.8M539.1 384.9l7.8 -7.8M544.5 377.4v10.4M539.3 382.6h10.4M540.6 378.7l7.8 7.8M540.6 386.5l7.8 -7.8M545.9 375.4v10.4M540.7 380.6h10.4M542 376.7l7.8 7.8M542 384.5l7.8 -7.8M547.4 375.9v10.4M542.2 381.1h10.4M543.5 377.2l7.8 7.8M543.5 385l7.8 -7.8M548.8 377.4v10.4M543.6 382.6h10.4M544.9 378.7l7.8 7.8M544.9 386.5l7.8 -7.8M550.3 376v10.4M545.1 381.2h10.4M546.4 377.3l7.8 7.8M546.4 385.1l7.8 -7.8M551.7 375v10.4M546.5 380.2h10.4M547.8 376.3l7.8 7.8M547.8 384.1l7.8 -7.8M553.2 375.3v10.4M548 380.5h10.4M549.3 376.6l7.8 7.8M549.3 384.4l7.8 -7.8M554.6 377v10.4M549.4 382.2h10.4M550.7 378.3l7.8 7.8M550.7 386.1l7.8 -7.8M556.1 376.8v10.4M550.9 382h10.4M552.2 378.1l7.8 7.8M552.2 385.9l7.8 -7.8M557.5 374.3v10.4M552.3 379.5h10.4M553.6 375.6l7.8 7.8M553.6 383.4l7.8 -7.8M559 376.6v10.4M553.8 381.8h10.4M555.1 377.9l7.8 7.8M555.1 385.7l7.8 -7.8M560.4 375.5v10.4M555.2 380.7h10.4M556.5 376.8l7.8 7.8M556.5 384.6l7.8 -7.8M561.9 377.4v10.4M556.7 382.6h10.4M558 378.7l7.8 7.8M558 386.5l7.8 -7.8M563.3 376.5v10.4M558.1 381.7h10.4M559.4 377.8l7.8 7.8M559.4 385.6l7.8 -7.8M564.8 375.3v10.4M559.6 380.5h10.4M560.9 376.6l7.8 7.8M560.9 384.4l7.8 -7.8M566.2 376.7v10.4M561 381.9h10.4M562.3 378l7.8 7.8M562.3 385.8l7.8 -7.8M567.7 376.3v10.4M562.5 381.5h10.4M563.8 377.6l7.8 7.8M563.8 385.4l7.8 -7.8M569.1 375.5v10.4M563.9 380.7h10.4M565.2 376.8l7.8 7.8M565.2 384.6l7.8 -7.8M570.6 376.1v10.4M565.4 381.3h10.4M566.7 377.4l7.8 7.8M566.7 385.2l7.8 -7.8M572 377.4v10.4M566.8 382.6h10.4M568.1 378.7l7.8 7.8M568.1 386.5l7.8 -7.8M573.5 377.7v10.4M568.3 382.9h10.4M569.6 379l7.8 7.8M569.6 386.8l7.8 -7.8M574.9 377.3v10.4M569.7 382.5h10.4M571 378.6l7.8 7.8M571 386.4l7.8 -7.8M576.4 376.5v10.4M571.2 381.7h10.4M572.5 377.8l7.8 7.8M572.5 385.6l7.8 -7.8M577.8 375v10.4M572.6 380.2h10.4M573.9 376.3l7.8 7.8M573.9 384.1l7.8 -7.8M579.3 377.2v10.4M574.1 382.4h10.4M575.4 378.5l7.8 7.8M575.4 386.3l7.8 -7.8M580.7 377.1v10.4M575.5 382.3h10.4M576.8 378.4l7.8 7.8M576.8 386.2l7.8 -7.8M582.2 377v10.4M577 382.2h10.4M578.3 378.3l7.8 7.8M578.3 386.1l7.8 -7.8M583.6 375.5v10.4M578.4 380.7h10.4M579.7 376.8l7.8 7.8M579.7 384.6l7.8 -7.8M585.1 377.1v10.4M579.9 382.3h10.4M581.2 378.4l7.8 7.8M581.2 386.2l7.8 -7.8M586.5 376.4v10.4M581.3 381.6h10.4M582.6 377.7l7.8 7.8M582.6 385.5l7.8 -7.8M588 377.1v10.4M582.8 382.3h10.4M584.1 378.4l7.8 7.8M584.1 386.2l7.8 -7.8M589.4 375.6v10.4M584.2 380.8h10.4M585.5 376.9l7.8 7.8M585.5 384.7l7.8 -7.8M590.9 376.1v10.4M585.7 381.3h10.4M587 377.4l7.8 7.8M587 385.2l7.8 -7.8M592.3 375.2v10.4M587.1 380.4h10.4M588.4 376.5l7.8 7.8M588.4 384.3l7.8 -7.8M593.8 375.3v10.4M588.6 380.5h10.4M589.9 376.6l7.8 7.8M589.9 384.4l7.8 -7.8M596 371.4v10.4M590.8 376.6h10.4M592.1 372.7l7.8 7.8M592.1 380.5l7.8 -7.8M598.1 375.7v10.4M592.9 380.9h10.4M594.2 377l7.8 7.8M594.2 384.8l7.8 -7.8M599.6 376.3v10.4M594.4 381.5h10.4M595.7 377.6l7.8 7.8M595.7 385.4l7.8 -7.8M601 375.4v10.4M595.8 380.6h10.4M597.1 376.7l7.8 7.8M597.1 384.5l7.8 -7.8M602.5 376.3v10.4M597.3 381.5h10.4M598.6 377.6l7.8 7.8M598.6 385.4l7.8 -7.8M604 377.3v10.4M598.8 382.5h10.4M600.1 378.6l7.8 7.8M600.1 386.4l7.8 -7.8M605.4 377.4v10.4M600.2 382.6h10.4M601.5 378.7l7.8 7.8M601.5 386.5l7.8 -7.8M606.9 375.8v10.4M601.7 381h10.4M603 377.1l7.8 7.8M603 384.9l7.8 -7.8M608.3 376.5v10.4M603.1 381.7h10.4M604.4 377.8l7.8 7.8M604.4 385.6l7.8 -7.8M609.8 375.1v10.4M604.6 380.3h10.4M605.9 376.4l7.8 7.8M605.9 384.2l7.8 -7.8M611.2 375.9v10.4M606 381.1h10.4M607.3 377.2l7.8 7.8M607.3 385l7.8 -7.8M612.7 376.7v10.4M607.5 381.9h10.4M608.8 378l7.8 7.8M608.8 385.8l7.8 -7.8M614.1 375.8v10.4M608.9 381h10.4M610.2 377.1l7.8 7.8M610.2 384.9l7.8 -7.8M615.6 377.3v10.4M610.4 382.5h10.4M611.7 378.6l7.8 7.8M611.7 386.4l7.8 -7.8M617 376.1v10.4M611.8 381.3h10.4M613.1 377.4l7.8 7.8M613.1 385.2l7.8 -7.8M618.5 375.9v10.4M613.3 381.1h10.4M614.6 377.2l7.8 7.8M614.6 385l7.8 -7.8M619.9 375.4v10.4M614.7 380.6h10.4M616 376.7l7.8 7.8M616 384.5l7.8 -7.8M621.4 376.8v10.4M616.2 382h10.4M617.5 378.1l7.8 7.8M617.5 385.9l7.8 -7.8M622.8 376v10.4M617.6 381.2h10.4M618.9 377.3l7.8 7.8M618.9 385.1l7.8 -7.8M624.3 377.1v10.4M619.1 382.3h10.4M620.4 378.4l7.8 7.8M620.4 386.2l7.8 -7.8M625.7 377.2v10.4M620.5 382.4h10.4M621.8 378.5l7.8 7.8M621.8 386.3l7.8 -7.8M627.2 376.6v10.4M622 381.8h10.4M623.3 377.9l7.8 7.8M623.3 385.7l7.8 -7.8M628.6 377.6v10.4M623.4 382.8h10.4M624.7 378.9l7.8 7.8M624.7 386.7l7.8 -7.8M630.1 376.8v10.4M624.9 382h10.4M626.2 378.1l7.8 7.8M626.2 385.9l7.8 -7.8M631.5 376.2v10.4M626.3 381.4h10.4M627.6 377.5l7.8 7.8M627.6 385.3l7.8 -7.8M633 375.4v10.4M627.8 380.6h10.4M629.1 376.7l7.8 7.8M629.1 384.5l7.8 -7.8M634.4 376.8v10.4M629.2 382h10.4M630.5 378.1l7.8 7.8M630.5 385.9l7.8 -7.8M635.9 376.7v10.4M630.7 381.9h10.4M632 378l7.8 7.8M632 385.8l7.8 -7.8M637.3 376.6v10.4M632.1 381.8h10.4M633.4 377.9l7.8 7.8M633.4 385.7l7.8 -7.8M638.8 376.3v10.4M633.6 381.5h10.4M634.9 377.6l7.8 7.8M634.9 385.4l7.8 -7.8M640.2 376.4v10.4M635 381.6h10.4M636.3 377.7l7.8 7.8M636.3 385.5l7.8 -7.8M641.7 376.3v10.4M636.5 381.5h10.4M637.8 377.6l7.8 7.8M637.8 385.4l7.8 -7.8M643.1 375.3v10.4M637.9 380.5h10.4M639.2 376.6l7.8 7.8M639.2 384.4l7.8 -7.8M644.6 376.8v10.4M639.4 382h10.4M640.7 378.1l7.8 7.8M640.7 385.9l7.8 -7.8M646 376.6v10.4M640.8 381.8h10.4M642.1 377.9l7.8 7.8M642.1 385.7l7.8 -7.8M647.5 376.5v10.4M642.3 381.7h10.4M643.6 377.8l7.8 7.8M643.6 385.6l7.8 -7.8M648.9 376.1v10.4M643.7 381.3h10.4M645 377.4l7.8 7.8M645 385.2l7.8 -7.8M650.4 376.5v10.4M645.2 381.7h10.4M646.5 377.8l7.8 7.8M646.5 385.6l7.8 -7.8M651.8 375.9v10.4M646.6 381.1h10.4M647.9 377.2l7.8 7.8M647.9 385l7.8 -7.8M653.3 377.6v10.4M648.1 382.8h10.4M649.4 378.9l7.8 7.8M649.4 386.7l7.8 -7.8M654.7 376.7v10.4M649.5 381.9h10.4M650.8 378l7.8 7.8M650.8 385.8l7.8 -7.8M656.2 375v10.4M651 380.2h10.4M652.3 376.3l7.8 7.8M652.3 384.1l7.8 -7.8M657.6 377.6v10.4M652.4 382.8h10.4M653.7 378.9l7.8 7.8M653.7 386.7l7.8 -7.8M659.1 375.6v10.4M653.9 380.8h10.4M655.2 376.9l7.8 7.8M655.2 384.7l7.8 -7.8M660.5 375.4v10.4M655.3 380.6h10.4M656.6 376.7l7.8 7.8M656.6 384.5l7.8 -7.8M662 374.9v10.4M656.8 380.1h10.4M658.1 376.2l7.8 7.8M658.1 384l7.8 -7.8M663.4 376.1v10.4M658.2 381.3h10.4M659.5 377.4l7.8 7.8M659.5 385.2l7.8 -7.8M664.9 376.8v10.4M659.7 382h10.4M661 378.1l7.8 7.8M661 385.9l7.8 -7.8M666.3 377.3v10.4M661.1 382.5h10.4M662.4 378.6l7.8 7.8M662.4 386.4l7.8 -7.8M667.8 377.4v10.4M662.6 382.6h10.4M663.9 378.7l7.8 7.8M663.9 386.5l7.8 -7.8M669.2 375v10.4M664 380.2h10.4M665.3 376.3l7.8 7.8M665.3 384.1l7.8 -7.8M670.7 374v10.4M665.5 379.2h10.4M666.8 375.3l7.8 7.8M666.8 383.1l7.8 -7.8M672.1 375.2v10.4M666.9 380.4h10.4M668.2 376.5l7.8 7.8M668.2 384.3l7.8 -7.8M673.6 375.7v10.4M668.4 380.9h10.4M669.7 377l7.8 7.8M669.7 384.8l7.8 -7.8M675 377.5v10.4M669.8 382.7h10.4M671.1 378.8l7.8 7.8M671.1 386.6l7.8 -7.8M676.5 377.3v10.4M671.3 382.5h10.4M672.6 378.6l7.8 7.8M672.6 386.4l7.8 -7.8M677.9 376.1v10.4M672.7 381.3h10.4M674 377.4l7.8 7.8M674 385.2l7.8 -7.8M679.4 375.7v10.4M674.2 380.9h10.4M675.5 377l7.8 7.8M675.5 384.8l7.8 -7.8M680.8 377.2v10.4M675.6 382.4h10.4M676.9 378.5l7.8 7.8M676.9 386.3l7.8 -7.8M682.3 375.5v10.4M677.1 380.7h10.4M678.4 376.8l7.8 7.8M678.4 384.6l7.8 -7.8M683.7 377.5v10.4M678.5 382.7h10.4M679.8 378.8l7.8 7.8M679.8 386.6l7.8 -7.8M685.2 376.6v10.4M680 381.8h10.4M681.3 377.9l7.8 7.8M681.3 385.7l7.8 -7.8M686.6 375.3v10.4M681.4 380.5h10.4M682.7 376.6l7.8 7.8M682.7 384.4l7.8 -7.8M688.1 376.2v10.4M682.9 381.4h10.4M684.2 377.5l7.8 7.8M684.2 385.3l7.8 -7.8M689.5 376.2v10.4M684.3 381.4h10.4M685.6 377.5l7.8 7.8M685.6 385.3l7.8 -7.8M691 377.6v10.4M685.8 382.8h10.4M687.1 378.9l7.8 7.8M687.1 386.7l7.8 -7.8M692.4 377v10.4M687.2 382.2h10.4M688.5 378.3l7.8 7.8M688.5 386.1l7.8 -7.8M693.9 375.6v10.4M688.7 380.8h10.4M690 376.9l7.8 7.8M690 384.7l7.8 -7.8M695.3 376v10.4M690.1 381.2h10.4M691.4 377.3l7.8 7.8M691.4 385.1l7.8 -7.8M696.8 375.5v10.4M691.6 380.7h10.4M692.9 376.8l7.8 7.8M692.9 384.6l7.8 -7.8M698.2 375.9v10.4M693 381.1h10.4M694.3 377.2l7.8 7.8M694.3 385l7.8 -7.8M699.7 375v10.4M694.5 380.2h10.4M695.8 376.3l7.8 7.8M695.8 384.1l7.8 -7.8M701.1 377v10.4M695.9 382.2h10.4M697.2 378.3l7.8 7.8M697.2 386.1l7.8 -7.8M702.6 375.9v10.4M697.4 381.1h10.4M698.7 377.2l7.8 7.8M698.7 385l7.8 -7.8M704 375.9v10.4M698.8 381.1h10.4M700.1 377.2l7.8 7.8M700.1 385l7.8 -7.8M705.5 376.7v10.4M700.3 381.9h10.4M701.6 378l7.8 7.8M701.6 385.8l7.8 -7.8M706.9 376.4v10.4M701.7 381.6h10.4M703 377.7l7.8 7.8M703 385.5l7.8 -7.8M708.4 377.5v10.4M703.2 382.7h10.4M704.5 378.8l7.8 7.8M704.5 386.6l7.8 -7.8M709.8 376.3v10.4M704.6 381.5h10.4M705.9 377.6l7.8 7.8M705.9 385.4l7.8 -7.8M711.3 375.5v10.4M706.1 380.7h10.4M707.4 376.8l7.8 7.8M707.4 384.6l7.8 -7.8M712.7 375.9v10.4M707.5 381.1h10.4M708.8 377.2l7.8 7.8M708.8 385l7.8 -7.8M714.2 375.2v10.4M709 380.4h10.4M710.3 376.5l7.8 7.8M710.3 384.3l7.8 -7.8M715.6 376.7v10.4M710.4 381.9h10.4M711.7 378l7.8 7.8M711.7 385.8l7.8 -7.8M717.1 376v10.4M711.9 381.2h10.4M713.2 377.3l7.8 7.8M713.2 385.1l7.8 -7.8M718.5 375.5v10.4M713.3 380.7h10.4M714.6 376.8l7.8 7.8M714.6 384.6l7.8 -7.8M720 374.9v10.4M714.8 380.1h10.4M716.1 376.2l7.8 7.8M716.1 384l7.8 -7.8M721.4 375.6v10.4M716.2 380.8h10.4M717.5 376.9l7.8 7.8M717.5 384.7l7.8 -7.8M722.9 376.4v10.4M717.7 381.6h10.4M719 377.7l7.8 7.8M719 385.5l7.8 -7.8M724.3 376.7v10.4M719.1 381.9h10.4M720.4 378l7.8 7.8M720.4 385.8l7.8 -7.8M725.8 377.1v10.4M720.6 382.3h10.4M721.9 378.4l7.8 7.8M721.9 386.2l7.8 -7.8M727.2 377.3v10.4M722 382.5h10.4M723.3 378.6l7.8 7.8M723.3 386.4l7.8 -7.8M728.7 376.8v10.4M723.5 382h10.4M724.8 378.1l7.8 7.8M724.8 385.9l7.8 -7.8M730.1 376.1v10.4M724.9 381.3h10.4M726.2 377.4l7.8 7.8M726.2 385.2l7.8 -7.8M731.6 377.6v10.4M726.4 382.8h10.4M727.7 378.9l7.8 7.8M727.7 386.7l7.8 -7.8M733 375.2v10.4M727.8 380.4h10.4M729.1 376.5l7.8 7.8M729.1 384.3l7.8 -7.8M734.5 376.3v10.4M729.3 381.5h10.4M730.6 377.6l7.8 7.8M730.6 385.4l7.8 -7.8M735.9 375.5v10.4M730.7 380.7h10.4M732 376.8l7.8 7.8M732 384.6l7.8 -7.8M737.4 376v10.4M732.2 381.2h10.4M733.5 377.3l7.8 7.8M733.5 385.1l7.8 -7.8M738.8 375.4v10.4M733.6 380.6h10.4M734.9 376.7l7.8 7.8M734.9 384.5l7.8 -7.8M740.3 375.4v10.4M735.1 380.6h10.4M736.4 376.7l7.8 7.8M736.4 384.5l7.8 -7.8M741.7 376.4v10.4M736.5 381.6h10.4M737.8 377.7l7.8 7.8M737.8 385.5l7.8 -7.8M743.2 376.3v10.4M738 381.5h10.4M739.3 377.6l7.8 7.8M739.3 385.4l7.8 -7.8M744.6 374.9v10.4M739.4 380.1h10.4M740.7 376.2l7.8 7.8M740.7 384l7.8 -7.8M746.1 374.2v10.4M740.9 379.4h10.4M742.2 375.5l7.8 7.8M742.2 383.3l7.8 -7.8M747.5 376.5v10.4M742.3 381.7h10.4M743.6 377.8l7.8 7.8M743.6 385.6l7.8 -7.8M749 375.5v10.4M743.8 380.7h10.4M745.1 376.8l7.8 7.8M745.1 384.6l7.8 -7.8M750.4 375.8v10.4M745.2 381h10.4M746.5 377.1l7.8 7.8M746.5 384.9l7.8 -7.8M751.9 375.5v10.4M746.7 380.7h10.4M748 376.8l7.8 7.8M748 384.6l7.8 -7.8M753.3 376.7v10.4M748.1 381.9h10.4M749.4 378l7.8 7.8M749.4 385.8l7.8 -7.8M754.8 375.2v10.4M749.6 380.4h10.4M750.9 376.5l7.8 7.8M750.9 384.3l7.8 -7.8M756.2 376.8v10.4M751 382h10.4M752.3 378.1l7.8 7.8M752.3 385.9l7.8 -7.8M757.7 376.4v10.4M752.5 381.6h10.4M753.8 377.7l7.8 7.8M753.8 385.5l7.8 -7.8M759.1 375.2v10.4M753.9 380.4h10.4M755.2 376.5l7.8 7.8M755.2 384.3l7.8 -7.8M760.6 376.9v10.4M755.4 382.1h10.4M756.7 378.2l7.8 7.8M756.7 386l7.8 -7.8M762 375.1v10.4M756.8 380.3h10.4M758.1 376.4l7.8 7.8M758.1 384.2l7.8 -7.8M763.5 375.1v10.4M758.3 380.3h10.4M759.6 376.4l7.8 7.8M759.6 384.2l7.8 -7.8M764.9 375.6v10.4M759.7 380.8h10.4M761 376.9l7.8 7.8M761 384.7l7.8 -7.8M766.4 376.2v10.4M761.2 381.4h10.4M762.5 377.5l7.8 7.8M762.5 385.3l7.8 -7.8M767.8 377.1v10.4M762.6 382.3h10.4M763.9 378.4l7.8 7.8M763.9 386.2l7.8 -7.8M769.3 375.2v10.4M764.1 380.4h10.4M765.4 376.5l7.8 7.8M765.4 384.3l7.8 -7.8M770.7 374.9v10.4M765.5 380.1h10.4M766.8 376.2l7.8 7.8M766.8 384l7.8 -7.8M772.2 375.2v10.4M767 380.4h10.4M768.3 376.5l7.8 7.8M768.3 384.3l7.8 -7.8M773.6 377.1v10.4M768.4 382.3h10.4M769.7 378.4l7.8 7.8M769.7 386.2l7.8 -7.8M775.1 374.2v10.4M769.9 379.4h10.4M771.2 375.5l7.8 7.8M771.2 383.3l7.8 -7.8M776.5 376.1v10.4M771.3 381.3h10.4M772.6 377.4l7.8 7.8M772.6 385.2l7.8 -7.8M778 376v10.4M772.8 381.2h10.4M774.1 377.3l7.8 7.8M774.1 385.1l7.8 -7.8M779.4 375.1v10.4M774.2 380.3h10.4M775.5 376.4l7.8 7.8M775.5 384.2l7.8 -7.8M780.9 376.3v10.4M775.7 381.5h10.4M777 377.6l7.8 7.8M777 385.4l7.8 -7.8M782.3 376.1v10.4M777.1 381.3h10.4M778.4 377.4l7.8 7.8M778.4 385.2l7.8 -7.8M783.8 377.2v10.4M778.6 382.4h10.4M779.9 378.5l7.8 7.8M779.9 386.3l7.8 -7.8M785.2 375.4v10.4M780 380.6h10.4M781.3 376.7l7.8 7.8M781.3 384.5l7.8 -7.8M786.7 377.4v10.4M781.5 382.6h10.4M782.8 378.7l7.8 7.8M782.8 386.5l7.8 -7.8M788.1 376.8v10.4M782.9 382h10.4M784.2 378.1l7.8 7.8M784.2 385.9l7.8 -7.8M789.6 376.2v10.4M784.4 381.4h10.4M785.7 377.5l7.8 7.8M785.7 385.3l7.8 -7.8M791 375.6v10.4M785.8 380.8h10.4M787.1 376.9l7.8 7.8M787.1 384.7l7.8 -7.8M792.5 376.7v10.4M787.3 381.9h10.4M788.6 378l7.8 7.8M788.6 385.8l7.8 -7.8M793.9 377.4v10.4M788.7 382.6h10.4M790 378.7l7.8 7.8M790 386.5l7.8 -7.8M795.4 374.9v10.4M790.2 380.1h10.4M791.5 376.2l7.8 7.8M791.5 384l7.8 -7.8M796.8 376.7v10.4M791.6 381.9h10.4M792.9 378l7.8 7.8M792.9 385.8l7.8 -7.8M798.3 376.2v10.4M793.1 381.4h10.4M794.4 377.5l7.8 7.8M794.4 385.3l7.8 -7.8M799.7 375.7v10.4M794.5 380.9h10.4M795.8 377l7.8 7.8M795.8 384.8l7.8 -7.8M801.2 376.9v10.4M796 382.1h10.4M797.3 378.2l7.8 7.8M797.3 386l7.8 -7.8M802.6 376.7v10.4M797.4 381.9h10.4M798.7 378l7.8 7.8M798.7 385.8l7.8 -7.8M804.1 376v10.4M798.9 381.2h10.4M800.2 377.3l7.8 7.8M800.2 385.1l7.8 -7.8M805.5 375.8v10.4M800.3 381h10.4M801.6 377.1l7.8 7.8M801.6 384.9l7.8 -7.8M807 375.8v10.4M801.8 381h10.4M803.1 377.1l7.8 7.8M803.1 384.9l7.8 -7.8M808.4 376.8v10.4M803.2 382h10.4M804.5 378.1l7.8 7.8M804.5 385.9l7.8 -7.8M809.9 377.1v10.4M804.7 382.3h10.4M806 378.4l7.8 7.8M806 386.2l7.8 -7.8M811.3 376.4v10.4M806.1 381.6h10.4M807.4 377.7l7.8 7.8M807.4 385.5l7.8 -7.8M812.8 375.2v10.4M807.6 380.4h10.4M808.9 376.5l7.8 7.8M808.9 384.3l7.8 -7.8M814.2 375.1v10.4M809 380.3h10.4M810.3 376.4l7.8 7.8M810.3 384.2l7.8 -7.8M815.7 375v10.4M810.5 380.2h10.4M811.8 376.3l7.8 7.8M811.8 384.1l7.8 -7.8M817.1 375.9v10.4M811.9 381.1h10.4M813.2 377.2l7.8 7.8M813.2 385l7.8 -7.8M818.6 376v10.4M813.4 381.2h10.4M814.7 377.3l7.8 7.8M814.7 385.1l7.8 -7.8M820 376.1v10.4M814.8 381.3h10.4M816.1 377.4l7.8 7.8M816.1 385.2l7.8 -7.8M821.5 376.4v10.4M816.3 381.6h10.4M817.6 377.7l7.8 7.8M817.6 385.5l7.8 -7.8M822.9 377.6v10.4M817.7 382.8h10.4M819 378.9l7.8 7.8M819 386.7l7.8 -7.8M824.4 376.1v10.4M819.2 381.3h10.4M820.5 377.4l7.8 7.8M820.5 385.2l7.8 -7.8M825.8 377.6v10.4M820.6 382.8h10.4M821.9 378.9l7.8 7.8M821.9 386.7l7.8 -7.8M827.3 376.7v10.4M822.1 381.9h10.4M823.4 378l7.8 7.8M823.4 385.8l7.8 -7.8M828.7 376v10.4M823.5 381.2h10.4M824.8 377.3l7.8 7.8M824.8 385.1l7.8 -7.8M830.2 375.7v10.4M825 380.9h10.4M826.3 377l7.8 7.8M826.3 384.8l7.8 -7.8M831.6 375v10.4M826.4 380.2h10.4M827.7 376.3l7.8 7.8M827.7 384.1l7.8 -7.8M833.1 377.3v10.4M827.9 382.5h10.4M829.2 378.6l7.8 7.8M829.2 386.4l7.8 -7.8M834.5 376.1v10.4M829.3 381.3h10.4M830.6 377.4l7.8 7.8M830.6 385.2l7.8 -7.8M836 375.7v10.4M830.8 380.9h10.4M832.1 377l7.8 7.8M832.1 384.8l7.8 -7.8M837.4 376.4v10.4M832.2 381.6h10.4M833.5 377.7l7.8 7.8M833.5 385.5l7.8 -7.8M838.9 377.5v10.4M833.7 382.7h10.4M835 378.8l7.8 7.8M835 386.6l7.8 -7.8M840.3 375.6v10.4M835.1 380.8h10.4M836.4 376.9l7.8 7.8M836.4 384.7l7.8 -7.8M841.8 375.3v10.4M836.6 380.5h10.4M837.9 376.6l7.8 7.8M837.9 384.4l7.8 -7.8M843.2 377.5v10.4M838 382.7h10.4M839.3 378.8l7.8 7.8M839.3 386.6l7.8 -7.8M844.7 376.5v10.4M839.5 381.7h10.4M840.8 377.8l7.8 7.8M840.8 385.6l7.8 -7.8M846.1 375.1v10.4M840.9 380.3h10.4M842.2 376.4l7.8 7.8M842.2 384.2l7.8 -7.8M847.6 375.2v10.4M842.4 380.4h10.4M843.7 376.5l7.8 7.8M843.7 384.3l7.8 -7.8M849 376.3v10.4M843.8 381.5h10.4M845.1 377.6l7.8 7.8M845.1 385.4l7.8 -7.8M850.5 375.3v10.4M845.3 380.5h10.4M846.6 376.6l7.8 7.8M846.6 384.4l7.8 -7.8M851.9 374.9v10.4M846.7 380.1h10.4M848 376.2l7.8 7.8M848 384l7.8 -7.8M853.4 375.5v10.4M848.2 380.7h10.4M849.5 376.8l7.8 7.8M849.5 384.6l7.8 -7.8M854.8 375.2v10.4M849.6 380.4h10.4M850.9 376.5l7.8 7.8M850.9 384.3l7.8 -7.8M856.3 376.3v10.4M851.1 381.5h10.4M852.4 377.6l7.8 7.8M852.4 385.4l7.8 -7.8M857.7 377.2v10.4M852.5 382.4h10.4M853.8 378.5l7.8 7.8M853.8 386.3l7.8 -7.8M859.2 375.6v10.4M854 380.8h10.4M855.3 376.9l7.8 7.8M855.3 384.7l7.8 -7.8M860.6 376v10.4M855.4 381.2h10.4M856.7 377.3l7.8 7.8M856.7 385.1l7.8 -7.8M862.1 375.2v10.4M856.9 380.4h10.4M858.2 376.5l7.8 7.8M858.2 384.3l7.8 -7.8M863.5 376v10.4M858.3 381.2h10.4M859.6 377.3l7.8 7.8M859.6 385.1l7.8 -7.8M865 377.3v10.4M859.8 382.5h10.4M861.1 378.6l7.8 7.8M861.1 386.4l7.8 -7.8M866.4 375.1v10.4M861.2 380.3h10.4M862.5 376.4l7.8 7.8M862.5 384.2l7.8 -7.8M867.9 376.5v10.4M862.7 381.7h10.4M864 377.8l7.8 7.8M864 385.6l7.8 -7.8M869.3 375.7v10.4M864.1 380.9h10.4M865.4 377l7.8 7.8M865.4 384.8l7.8 -7.8M870.8 375.4v10.4M865.6 380.6h10.4M866.9 376.7l7.8 7.8M866.9 384.5l7.8 -7.8M872.2 375.7v10.4M867 380.9h10.4M868.3 377l7.8 7.8M868.3 384.8l7.8 -7.8M873.7 375.7v10.4M868.5 380.9h10.4M869.8 377l7.8 7.8M869.8 384.8l7.8 -7.8M875.1 376.7v10.4M869.9 381.9h10.4M871.2 378l7.8 7.8M871.2 385.8l7.8 -7.8M876.6 377.1v10.4M871.4 382.3h10.4M872.7 378.4l7.8 7.8M872.7 386.2l7.8 -7.8M878 375.5v10.4M872.8 380.7h10.4M874.1 376.8l7.8 7.8M874.1 384.6l7.8 -7.8M879.5 376.3v10.4M874.3 381.5h10.4M875.6 377.6l7.8 7.8M875.6 385.4l7.8 -7.8M880.9 376.9v10.4M875.7 382.1h10.4M877 378.2l7.8 7.8M877 386l7.8 -7.8M882.4 376.1v10.4M877.2 381.3h10.4M878.5 377.4l7.8 7.8M878.5 385.2l7.8 -7.8M883.8 375.7v10.4M878.6 380.9h10.4M879.9 377l7.8 7.8M879.9 384.8l7.8 -7.8M885.3 377.4v10.4M880.1 382.6h10.4M881.4 378.7l7.8 7.8M881.4 386.5l7.8 -7.8M886.7 377.5v10.4M881.5 382.7h10.4M882.8 378.8l7.8 7.8M882.8 386.6l7.8 -7.8M888.2 377.2v10.4M883 382.4h10.4M884.3 378.5l7.8 7.8M884.3 386.3l7.8 -7.8M889.6 375.5v10.4M884.4 380.7h10.4M885.7 376.8l7.8 7.8M885.7 384.6l7.8 -7.8M891.1 376.7v10.4M885.9 381.9h10.4M887.2 378l7.8 7.8M887.2 385.8l7.8 -7.8M892.5 375v10.4M887.3 380.2h10.4M888.6 376.3l7.8 7.8M888.6 384.1l7.8 -7.8M894 375.4v10.4M888.8 380.6h10.4M890.1 376.7l7.8 7.8M890.1 384.5l7.8 -7.8M895.4 376.6v10.4M890.2 381.8h10.4M891.5 377.9l7.8 7.8M891.5 385.7l7.8 -7.8M896.9 376.2v10.4M891.7 381.4h10.4M893 377.5l7.8 7.8M893 385.3l7.8 -7.8M898.3 375.2v10.4M893.1 380.4h10.4M894.4 376.5l7.8 7.8M894.4 384.3l7.8 -7.8M899.8 375.2v10.4M894.6 380.4h10.4M895.9 376.5l7.8 7.8M895.9 384.3l7.8 -7.8M901.2 376.7v10.4M896 381.9h10.4M897.3 378l7.8 7.8M897.3 385.8l7.8 -7.8M902.7 375v10.4M897.5 380.2h10.4M898.8 376.3l7.8 7.8M898.8 384.1l7.8 -7.8M904.1 377.6v10.4M898.9 382.8h10.4M900.2 378.9l7.8 7.8M900.2 386.7l7.8 -7.8M906.2 372.3v10.4M901 377.5h10.4M902.3 373.6l7.8 7.8M902.3 381.4l7.8 -7.8M907.6 369.2v10.4M902.4 374.4h10.4M903.7 370.5l7.8 7.8M903.7 378.3l7.8 -7.8M909.4 368.6v10.4M904.2 373.8h10.4M905.5 369.9l7.8 7.8M905.5 377.7l7.8 -7.8M910.9 370.8v10.4M905.7 376h10.4M907 372.1l7.8 7.8M907 379.9l7.8 -7.8M912.4 372.8v10.4M907.2 378h10.4M908.5 374.1l7.8 7.8M908.5 381.9l7.8 -7.8M914.3 377.7v10.4M909.1 382.9h10.4M910.4 379l7.8 7.8M910.4 386.8l7.8 -7.8M915.7 377.2v10.4M910.5 382.4h10.4M911.8 378.5l7.8 7.8M911.8 386.3l7.8 -7.8M917.2 377v10.4M912 382.2h10.4M913.3 378.3l7.8 7.8M913.3 386.1l7.8 -7.8M918.6 377.5v10.4M913.4 382.7h10.4M914.7 378.8l7.8 7.8M914.7 386.6l7.8 -7.8M920.1 377.4v10.4M914.9 382.6h10.4M916.2 378.7l7.8 7.8M916.2 386.5l7.8 -7.8M921.5 377.1v10.4M916.3 382.3h10.4M917.6 378.4l7.8 7.8M917.6 386.2l7.8 -7.8M923 375.8v10.4M917.8 381h10.4M919.1 377.1l7.8 7.8M919.1 384.9l7.8 -7.8M924.4 377.1v10.4M919.2 382.3h10.4M920.5 378.4l7.8 7.8M920.5 386.2l7.8 -7.8M925.9 377.3v10.4M920.7 382.5h10.4M922 378.6l7.8 7.8M922 386.4l7.8 -7.8M927.3 375.4v10.4M922.1 380.6h10.4M923.4 376.7l7.8 7.8M923.4 384.5l7.8 -7.8M928.8 376.5v10.4M923.6 381.7h10.4M924.9 377.8l7.8 7.8M924.9 385.6l7.8 -7.8M930.2 375.8v10.4M925 381h10.4M926.3 377.1l7.8 7.8M926.3 384.9l7.8 -7.8M931.7 375.3v10.4M926.5 380.5h10.4M927.8 376.6l7.8 7.8M927.8 384.4l7.8 -7.8M933.1 375.5v10.4M927.9 380.7h10.4M929.2 376.8l7.8 7.8M929.2 384.6l7.8 -7.8M934.6 375.8v10.4M929.4 381h10.4M930.7 377.1l7.8 7.8M930.7 384.9l7.8 -7.8M936 375.7v10.4M930.8 380.9h10.4M932.1 377l7.8 7.8M932.1 384.8l7.8 -7.8M937.5 375.3v10.4M932.3 380.5h10.4M933.6 376.6l7.8 7.8M933.6 384.4l7.8 -7.8M938.9 374.5v10.4M933.7 379.7h10.4M935 375.8l7.8 7.8M935 383.6l7.8 -7.8M940.4 374.3v10.4M935.2 379.5h10.4M936.5 375.6l7.8 7.8M936.5 383.4l7.8 -7.8M941.8 375.5v10.4M936.6 380.7h10.4M937.9 376.8l7.8 7.8M937.9 384.6l7.8 -7.8M943.3 375v10.4M938.1 380.2h10.4M939.4 376.3l7.8 7.8M939.4 384.1l7.8 -7.8M944.7 376.9v10.4M939.5 382.1h10.4M940.8 378.2l7.8 7.8M940.8 386l7.8 -7.8M946.2 376.3v10.4M941 381.5h10.4M942.3 377.6l7.8 7.8M942.3 385.4l7.8 -7.8M947.6 375.7v10.4M942.4 380.9h10.4M943.7 377l7.8 7.8M943.7 384.8l7.8 -7.8M949.1 375.9v10.4M943.9 381.1h10.4M945.2 377.2l7.8 7.8M945.2 385l7.8 -7.8M950.5 377.4v10.4M945.3 382.6h10.4M946.6 378.7l7.8 7.8M946.6 386.5l7.8 -7.8M952 376.1v10.4M946.8 381.3h10.4M948.1 377.4l7.8 7.8M948.1 385.2l7.8 -7.8M953.4 377.2v10.4M948.2 382.4h10.4M949.5 378.5l7.8 7.8M949.5 386.3l7.8 -7.8M954.9 376.4v10.4M949.7 381.6h10.4M951 377.7l7.8 7.8M951 385.5l7.8 -7.8M956.3 375.3v10.4M951.1 380.5h10.4M952.4 376.6l7.8 7.8M952.4 384.4l7.8 -7.8M957.8 375.6v10.4M952.6 380.8h10.4M953.9 376.9l7.8 7.8M953.9 384.7l7.8 -7.8M959.2 375.4v10.4M954 380.6h10.4M955.3 376.7l7.8 7.8M955.3 384.5l7.8 -7.8M960.7 376.5v10.4M955.5 381.7h10.4M956.8 377.8l7.8 7.8M956.8 385.6l7.8 -7.8M962.1 376.7v10.4M956.9 381.9h10.4M958.2 378l7.8 7.8M958.2 385.8l7.8 -7.8M963.6 377.5v10.4M958.4 382.7h10.4M959.7 378.8l7.8 7.8M959.7 386.6l7.8 -7.8M965 376.5v10.4M959.8 381.7h10.4M961.1 377.8l7.8 7.8M961.1 385.6l7.8 -7.8M966.5 377.5v10.4M961.3 382.7h10.4M962.6 378.8l7.8 7.8M962.6 386.6l7.8 -7.8M967.9 375.2v10.4M962.7 380.4h10.4M964 376.5l7.8 7.8M964 384.3l7.8 -7.8M969.4 376.9v10.4M964.2 382.1h10.4M965.5 378.2l7.8 7.8M965.5 386l7.8 -7.8M970.8 376.7v10.4M965.6 381.9h10.4M966.9 378l7.8 7.8M966.9 385.8l7.8 -7.8M972.3 377.5v10.4M967.1 382.7h10.4M968.4 378.8l7.8 7.8M968.4 386.6l7.8 -7.8M973.7 376.1v10.4M968.5 381.3h10.4M969.8 377.4l7.8 7.8M969.8 385.2l7.8 -7.8M975.2 377v10.4M970 382.2h10.4M971.3 378.3l7.8 7.8M971.3 386.1l7.8 -7.8M976.6 375.2v10.4M971.4 380.4h10.4M972.7 376.5l7.8 7.8M972.7 384.3l7.8 -7.8M978.1 377.2v10.4M972.9 382.4h10.4M974.2 378.5l7.8 7.8M974.2 386.3l7.8 -7.8M979.5 376.8v10.4M974.3 382h10.4M975.6 378.1l7.8 7.8M975.6 385.9l7.8 -7.8M981 375.3v10.4M975.8 380.5h10.4M977.1 376.6l7.8 7.8M977.1 384.4l7.8 -7.8M982.4 376.3v10.4M977.2 381.5h10.4M978.5 377.6l7.8 7.8M978.5 385.4l7.8 -7.8M983.9 377.6v10.4M978.7 382.8h10.4M980 378.9l7.8 7.8M980 386.7l7.8 -7.8M985.4 376.1v10.4M980.2 381.3h10.4M981.5 377.4l7.8 7.8M981.5 385.2l7.8 -7.8" fill="none" stroke="#ff0000" stroke-width="1.7" stroke-linejoin="miter"/>
</g>
<g id="s4">
<path d="M53.4 382.1L55.2 381.5L56.4 381.9L57.6 381.9L58.8 382L60 381.9L61.2 382L62.4 382.3L63.6 381.6L64.8 381.9L66 382.3L67.2 381.8L68.4 381.8L69.6 381.9L70.8 382.1L72 381.6L73.2 382.3L74.4 382.3L75.6 382.3L76.8 381.7L78 381.8L79.2 381.8L80.4 382L81.6 382.1L82.8 382.1L84 381.9L85.2 382.1L86.4 381.8L87.6 381.9L88.8 381.7L90 382.1L91.2 381.8L92.4 382.2L93.6 382L94.8 382.2L96 382.2L97.2 381.8L98.4 381.7L99.6 382L100.8 381.8L102 381.8L103.2 381.6L104.4 381.7L105.6 381.7L106.8 381.3L108 381.6L109.2 382.1L110.4 381.8L111.6 381.8L112.8 382.2L114 381.8L115.2 382.2L116.4 382.1L117.6 382.2L118.8 381.6L120 381.9L121.2 381.6L122.4 381.3L123.6 382.1L124.8 382.1L126 381.7L127.2 382.2L128.4 382L129.6 381.9L130.8 382.1L132 381.8L133.2 381.9L134.4 382.3L135.6 382.2L136.8 381.6L138 381.7L139.2 381.9L140.4 382.3L141.6 382.1L142.8 382.1L144 381.8L145.2 382.3L146.4 381.9L147.6 382.3L148.8 381.9L150 382.2L151.2 382.2L152.4 381.9L153.6 382.2L154.8 382.3L156 381.9L157.2 382.3L158.4 381.4L159.6 381.9L160.8 381.8L162 382.3L163.2 381.9L164.4 381.9L165.6 382L166.8 381.7L168 382.3L169.2 381.9L170.4 381.3L171.6 381.9L172.8 381.5L174 381.5L175.2 382.1L176.4 381.9L177.7 380.5L178.9 379L180.1 376L181.3 372L182.5 363.4L183.7 369L184.9 373L186.1 376.5L187.3 379.5L188.4 382.1L189.6 382L190.8 381.9L192 382L193.2 382.2L194.4 382.2L195.6 381.6L196.8 381.8L198 382.2L199.2 382.1L200.4 382L201.6 381.7L202.8 381.6L204 382L205.2 381.6L206.4 381.6L207.6 381.8L208.8 381.8L210 382L211.2 382.2L212.4 381.7L213.6 381.6L214.8 381.6L216 381.7L217.2 381.6L218.4 382L219.6 382L220.8 381.8L222 382L223.2 381.7L224.4 381.6L225.6 381.6L226.8 382L228 381.9L229.2 382.1L230.4 381.7L231.6 381.8L232.8 382L234 381.6L235.2 381.7L236.4 381.9L237.6 381.9L238.8 382.3L240 382L241.2 382.2L242.4 382L243.6 381.6L244.8 381.8L246 381.7L247.2 382.2L248.4 381.8L249.6 381.5L250.8 381.9L252 382.3L253.2 382.1L254.4 382.3L255.6 382.2L256.8 382.3L258 381.7L259.2 381.7L260.4 382.1L261.6 381.9L262.8 381.4L264 382.3L265.2 381.6L266.4 381.9L267.6 382.2L268.8 381.9L270 381.9L271.2 382.3L272.4 382.3L273.6 381.8L274.8 381.4L276 382.3L277.2 382.2L278.4 381.7L279.6 382.2L280.8 382.2L282 381.6L283.2 382.1L284.4 382.2L285.6 382.3L286.8 382L288 382L289.2 381.9L290.4 381.8L291.6 381.8L292.8 381.6L294 381.9L295.2 381.3L296.4 381.8L297.6 381.6L298.8 381.7L300 382.2L301.2 381.7L302.4 382.2L303.6 382.3L304.8 381.3L306 382.2L307.2 382.3L308.4 381.6L309.6 381.7L310.8 381.6L312 382L313.2 382.2L314.4 381.8L315.6 381.8L316.8 381.9L318 381.8L319.2 381.7L320.4 382.3L321.6 382L322.8 381.7L324 382.3L325.2 381.7L326.4 381.9L327.6 381.9L328.8 382.3L330 381.8L331.2 382.1L332.4 381.7L333.6 382.1L334.8 381.7L336 382.1L337.1 379.5L338.3 375L339.5 379.5L340.8 381.8L342 382.2L343.2 382.3L344.4 381.6L345.6 382L346.8 381.9L348 382.2L349.2 382.3L350.4 381.6L351.6 382.3L352.8 381.7L354 382.1L355.2 381.8L356.4 381.6L357.6 381.7L358.8 381.7L360 382.1L361.2 382.2L362.4 381.7L363.6 382L364.8 381.5L366 381.8L367.2 382.2L368.4 382.2L369.6 382.1L370.8 381.7L372 381.7L373.2 381.7L374.4 382L375.6 381.6L376.8 382.2L378 382L379.2 381.6L380.4 382.3L381.6 382L382.8 382.2L384 381.8L385.2 382.1L386.4 381.7L387.6 382.2L388.8 382L390 381.8L391.2 382.2L392.4 381.8L393.6 382.2L394.8 381.7L396 382.2L397.2 382L398.4 381.6L399.6 381.7L400.8 382.2L402 381.5L403.2 381.7L404.4 381.7L405.6 382.1L406.8 381.8L408 382.1L409.2 381.9L410.4 382.3L411.6 382L412.8 381.9L414 381.9L415.2 381.8L416.4 381.8L417.6 381.6L418.8 382L420 381.5L421.2 382L422.4 382L423.6 382.3L424.8 381.6L426 381.7L427.2 382.2L428.4 381.6L429.6 382L430.8 382L432 382.1L433.2 381.9L434.4 381.6L435.6 381.7L436.8 382.2L438 381.7L439.2 382.3L440.4 381.8L441.6 381.6L442.8 382.3L444 381.7L445.2 381.9L446.4 382.3L447.6 381.8L448.8 382.3L450 382.3L451.2 381.8L452.4 382.3L453.6 382L454.8 381.8L456 381.7L457.2 381.6L458.4 382.1L459.6 381.6L460.8 381.9L462 382.3L463.2 382L464.4 382.1L465.6 382L466.8 382L468 381.7L469.2 381.7L470.4 381.8L471.6 381.7L472.8 382.2L474 381.6L475.2 381.6L476.4 382L477.6 381.6L478.8 381.7L480 381.8L481.2 381.7L482.4 381.8L483.6 381.6L484.8 382.3L486 382.1L487.2 382L488.4 381.9L489.6 381.9L490.8 382L492 382L493.2 382.1L494.4 382.1L495.6 382.3L496.8 382.2L498 382.2L499.2 382.1L500.4 382.1L501.6 381.6L502.8 381.7L504 382.3L505.2 382L506.4 381.6L507.6 380L509.8 376.5L512 369.3L513.5 350.5L515.8 265.9L518.6 158.2L522 265.9L522.8 376.5L525.5 379L528.2 376.7L530.4 380L531.6 381.6L532.8 381.8L534 381.6L535.2 382.3L536.4 382L537.6 381.9L538.8 382.3L540 382.1L541.2 382L542.4 381.3L543.6 382L544.8 382.2L546 382L547.2 381.7L548.4 382.3L549.6 381.8L550.8 381.9L552 382.1L553.2 381.4L554.4 381.7L555.6 382.1L556.8 381.8L558 381.6L559.2 381.8L560.4 381.4L561.6 381.8L562.8 381.9L564 382.3L565.2 382L566.4 382L567.6 382L568.8 381.6L570 381.9L571.2 381.8L572.4 382.2L573.6 382.3L574.8 382.1L576 381.6L577.2 381.7L578.4 382.1L579.6 382.2L580.8 381.7L582 381.6L583.2 382.1L584.4 382L585.6 381.6L586.8 381.6L588 382L589.2 382.3L590.4 382L591.6 382.2L592.8 382.1L594 382.2L595.2 381.9L596.4 381.7L597.6 381.9L598.8 382.3L600 381.8L601.2 382.3L602.4 381.6L603.6 381.8L604.8 381.6L606 381.8L607.2 381.9L608.4 382L609.6 381.8L610.8 381.9L612 381.7L613.2 381.9L614.4 381.9L615.6 382.1L616.8 381.4L618 381.7L619.2 382.1L620.4 381.8L621.6 381.7L622.8 382.3L624 382L625.2 382.1L626.4 382.3L627.6 381.9L628.8 381.8L630 381.6L631.2 382L632.4 381.9L633.6 381.8L634.8 382L636 382.3L637.2 382.2L638.4 381.7L639.6 381.9L640.8 382.1L642 382.2L643.2 382.2L644.4 381.8L645.6 381.7L646.8 382.3L648 381.9L649.2 381.7L650.4 381.6L651.6 382.2L652.8 381.7L654 381.6L655.2 381.9L656.4 381.9L657.6 381.6L658.8 381.8L660 381.6L661.2 381.8L662.4 382.3L663.6 382.2L664.8 382.3L666 381.7L667.2 382L668.4 381.6L669.5 379L670.7 376.4L672.7 361.2L674.7 357.2L676.6 376.4L677.8 379.5L679.2 382.2L680.4 382L681.6 381.7L682.8 381.9L684 382L685.2 382.2L686.4 381.8L687.6 382L688.8 381.9L690 382.2L691.2 381.4L692.4 382.2L693.6 381.9L694.8 381.8L696 382L697.2 381.4L698.4 382.3L699.6 381.9L700.8 381.9L702 381.6L703.2 382L704.4 382.3L705.6 381.6L706.8 382.1L708 381.9L709.2 381.6L710.4 382L711.6 382.3L712.8 382.2L714 382.2L715.2 382.2L716.4 381.6L717.6 382L718.8 382L720 381.7L721.2 382.1L722.4 381.7L723.6 382.3L724.8 382.1L726 382L727.2 381.8L728.4 381.9L729.6 382.1L730.8 381.9L732 381.8L733.2 382.2L734.4 381.9L735.6 381.6L736.8 381.9L738 381.7L739.2 381.8L740.4 382L741.6 381.9L742.8 381.3L744 382.1L745.2 381.8L746.4 382L747.6 382.2L748.8 382.2L750 381.4L751.2 381.9L752.4 381.6L753.6 381.9L754.8 381.7L756 382.2L757.2 381.7L758.4 381.5L759.6 382L760.8 381.7L762 381.4L763.2 381.6L764.4 381.7L765.6 381.2L766.8 381.7L768 381.4L769.2 381.4L770.4 381.6L771.6 381.6L772.8 381.6L774 381.3L775.2 381.5L776.4 381L777.6 381.2L778.8 380.8L780 381.4L781.2 381.2L782.4 380.6L783.6 380.6L784.8 380.5L786 381.2L787.2 380.7L788.4 380.4L789.6 380.1L790.8 380.5L792 380L793.2 380L794.4 380.6L795.6 380L796.8 380.2L798 380.1L799.2 380.3L800.4 380L801.6 380.7L802.8 380.2L804 380.1L805.2 380.8L806.4 379.9L807.6 380.2L808.8 380.5L810 380.9L811.2 380.5L812.4 380.5L813.6 381L814.8 380.9L816 380.5L817.2 381L818.4 381.5L819.6 380.5L820.8 381.2L822 381.1L823.2 380.9L824.4 381.4L825.6 381.3L826.8 381.1L828 381.3L829.2 381.6L830.4 381.2L831.6 381.5L832.8 381.3L834 381.3L835.2 381.6L836.4 381.3L837.6 381.7L838.8 382.1L840 381.9L841.2 381.5L842.4 381.9L843.6 382L844.8 382L846 382.2L847.2 381.5L848.4 381.7L849.6 382L850.8 381.7L852 382.1L852.8 379.8L854 378L855.2 379.8L856.8 382.3L858 382.1L859.2 381.9L860.4 382.1L861.6 381.3L862.8 382.2L864 381.7L865.2 382.1L866.4 382L867.6 382L868.8 382.1L870 382.3L871.2 381.8L872.4 382L873.6 381.7L874.8 381.9L876 381.8L877.2 381.9L878.4 381.9L879.6 381.9L880.8 382.1L882 382.3L883.2 382.3L884.4 381.7L885.6 381.8L886.8 381.7L888 381.9L889.2 381.6L890.4 381.6L891.6 382.1L892.8 382L894 382.1L895.2 381.9L896.4 382.2L897.6 382.2L898.8 381.9L900 382.1L901.2 381.7L902.4 382.3L903.6 381.6L904.8 381.6L906 382.1L907.2 381.6L908.4 382.1L909.6 382.2L910.8 382.3L912 381.7L913.2 381.7L914.4 382.2L915.6 381.6L916.8 382.1L918 381.9L919.2 381.7L920.4 381.6L921.6 382.1L922.8 381.9L924 382L925.2 381.8L926.4 382.3L927.6 382.1L928.8 381.6L930 381.6L931.2 382.1L932.4 381.7L933.6 381.8L934.8 381.9L936 382.2L937.2 382.3L938.4 382.3L939.6 382.1L940.8 382L942 382.2L943.2 382.1L944.4 381.9L945.6 381.7L946.8 381.8L948 382.2L949.2 381.8L950.4 381.9L951.6 382.1L952.8 381.8L954 381.7L955.2 381.7L956.4 381.6L957.6 382L958.8 381.7L960 382L961.2 381.9L962.4 381.7L963.6 382.1L964.8 382L966 381.9L967.2 382.3L968.4 381.8L969.6 382.1L970.8 382.1L972 381.6L973.2 382.2L974.4 381.9L975.6 381.9L976.8 382L978 381.8L979.2 382.2L980.4 381.8L981.6 382.3L982.8 381.6L984 381.6L985.4 382.1" fill="none" stroke="#ff00ff" stroke-width="2.0" stroke-linejoin="round" stroke-dasharray="5.5 2.6"/>
<path d="M53.4 376.4l6.1 8.5h-12.2zM55.2 375.8l6.1 8.5h-12.2zM56.4 376.3l6.1 8.5h-12.2zM57.6 376.2l6.1 8.5h-12.2zM58.8 376.4l6.1 8.5h-12.2zM60 376.3l6.1 8.5h-12.2zM61.2 376.3l6.1 8.5h-12.2zM62.4 376.7l6.1 8.5h-12.2zM63.6 375.9l6.1 8.5h-12.2zM64.8 376.2l6.1 8.5h-12.2zM66 376.7l6.1 8.5h-12.2zM67.2 376.2l6.1 8.5h-12.2zM68.4 376.1l6.1 8.5h-12.2zM69.6 376.3l6.1 8.5h-12.2zM70.8 376.5l6.1 8.5h-12.2zM72 376l6.1 8.5h-12.2zM73.2 376.7l6.1 8.5h-12.2zM74.4 376.6l6.1 8.5h-12.2zM75.6 376.6l6.1 8.5h-12.2zM76.8 376.1l6.1 8.5h-12.2zM78 376.1l6.1 8.5h-12.2zM79.2 376.1l6.1 8.5h-12.2zM80.4 376.3l6.1 8.5h-12.2zM81.6 376.5l6.1 8.5h-12.2zM82.8 376.5l6.1 8.5h-12.2zM84 376.3l6.1 8.5h-12.2zM85.2 376.4l6.1 8.5h-12.2zM86.4 376.1l6.1 8.5h-12.2zM87.6 376.2l6.1 8.5h-12.2zM88.8 376.1l6.1 8.5h-12.2zM90 376.4l6.1 8.5h-12.2zM91.2 376.1l6.1 8.5h-12.2zM92.4 376.5l6.1 8.5h-12.2zM93.6 376.3l6.1 8.5h-12.2zM94.8 376.5l6.1 8.5h-12.2zM96 376.5l6.1 8.5h-12.2zM97.2 376.1l6.1 8.5h-12.2zM98.4 376l6.1 8.5h-12.2zM99.6 376.3l6.1 8.5h-12.2zM100.8 376.1l6.1 8.5h-12.2zM102 376.1l6.1 8.5h-12.2zM103.2 376l6.1 8.5h-12.2zM104.4 376l6.1 8.5h-12.2zM105.6 376.1l6.1 8.5h-12.2zM106.8 375.7l6.1 8.5h-12.2zM108 376l6.1 8.5h-12.2zM109.2 376.4l6.1 8.5h-12.2zM110.4 376.1l6.1 8.5h-12.2zM111.6 376.1l6.1 8.5h-12.2zM112.8 376.6l6.1 8.5h-12.2zM114 376.1l6.1 8.5h-12.2zM115.2 376.6l6.1 8.5h-12.2zM116.4 376.4l6.1 8.5h-12.2zM117.6 376.5l6.1 8.5h-12.2zM118.8 376l6.1 8.5h-12.2zM120 376.3l6.1 8.5h-12.2zM121.2 376l6.1 8.5h-12.2zM122.4 375.7l6.1 8.5h-12.2zM123.6 376.4l6.1 8.5h-12.2zM124.8 376.4l6.1 8.5h-12.2zM126 376.1l6.1 8.5h-12.2zM127.2 376.5l6.1 8.5h-12.2zM128.4 376.3l6.1 8.5h-12.2zM129.6 376.2l6.1 8.5h-12.2zM130.8 376.5l6.1 8.5h-12.2zM132 376.1l6.1 8.5h-12.2zM133.2 376.3l6.1 8.5h-12.2zM134.4 376.6l6.1 8.5h-12.2zM135.6 376.6l6.1 8.5h-12.2zM136.8 376l6.1 8.5h-12.2zM138 376l6.1 8.5h-12.2zM139.2 376.3l6.1 8.5h-12.2zM140.4 376.6l6.1 8.5h-12.2zM141.6 376.4l6.1 8.5h-12.2zM142.8 376.4l6.1 8.5h-12.2zM144 376.1l6.1 8.5h-12.2zM145.2 376.6l6.1 8.5h-12.2zM146.4 376.3l6.1 8.5h-12.2zM147.6 376.6l6.1 8.5h-12.2zM148.8 376.2l6.1 8.5h-12.2zM150 376.6l6.1 8.5h-12.2zM151.2 376.5l6.1 8.5h-12.2zM152.4 376.3l6.1 8.5h-12.2zM153.6 376.5l6.1 8.5h-12.2zM154.8 376.7l6.1 8.5h-12.2zM156 376.2l6.1 8.5h-12.2zM157.2 376.6l6.1 8.5h-12.2zM158.4 375.7l6.1 8.5h-12.2zM159.6 376.2l6.1 8.5h-12.2zM160.8 376.2l6.1 8.5h-12.2zM162 376.6l6.1 8.5h-12.2zM163.2 376.2l6.1 8.5h-12.2zM164.4 376.3l6.1 8.5h-12.2zM165.6 376.3l6.1 8.5h-12.2zM166.8 376l6.1 8.5h-12.2zM168 376.6l6.1 8.5h-12.2zM169.2 376.2l6.1 8.5h-12.2zM170.4 375.6l6.1 8.5h-12.2zM171.6 376.2l6.1 8.5h-12.2zM172.8 375.9l6.1 8.5h-12.2zM174 375.8l6.1 8.5h-12.2zM175.2 376.5l6.1 8.5h-12.2zM176.4 376.2l6.1 8.5h-12.2zM177.7 374.8l6.1 8.5h-12.2zM178.9 373.3l6.1 8.5h-12.2zM180.1 370.3l6.1 8.5h-12.2zM181.3 366.3l6.1 8.5h-12.2zM182.5 357.7l6.1 8.5h-12.2zM183.7 363.3l6.1 8.5h-12.2zM184.9 367.3l6.1 8.5h-12.2zM186.1 370.8l6.1 8.5h-12.2zM187.3 373.8l6.1 8.5h-12.2zM188.4 376.5l6.1 8.5h-12.2zM189.6 376.3l6.1 8.5h-12.2zM190.8 376.2l6.1 8.5h-12.2zM192 376.3l6.1 8.5h-12.2zM193.2 376.5l6.1 8.5h-12.2zM194.4 376.5l6.1 8.5h-12.2zM195.6 375.9l6.1 8.5h-12.2zM196.8 376.1l6.1 8.5h-12.2zM198 376.5l6.1 8.5h-12.2zM199.2 376.5l6.1 8.5h-12.2zM200.4 376.3l6.1 8.5h-12.2zM201.6 376l6.1 8.5h-12.2zM202.8 376l6.1 8.5h-12.2zM204 376.3l6.1 8.5h-12.2zM205.2 376l6.1 8.5h-12.2zM206.4 376l6.1 8.5h-12.2zM207.6 376.1l6.1 8.5h-12.2zM208.8 376.1l6.1 8.5h-12.2zM210 376.3l6.1 8.5h-12.2zM211.2 376.5l6.1 8.5h-12.2zM212.4 376l6.1 8.5h-12.2zM213.6 375.9l6.1 8.5h-12.2zM214.8 375.9l6.1 8.5h-12.2zM216 376.1l6.1 8.5h-12.2zM217.2 376l6.1 8.5h-12.2zM218.4 376.3l6.1 8.5h-12.2zM219.6 376.3l6.1 8.5h-12.2zM220.8 376.2l6.1 8.5h-12.2zM222 376.3l6.1 8.5h-12.2zM223.2 376l6.1 8.5h-12.2zM224.4 376l6.1 8.5h-12.2zM225.6 375.9l6.1 8.5h-12.2zM226.8 376.3l6.1 8.5h-12.2zM228 376.3l6.1 8.5h-12.2zM229.2 376.4l6.1 8.5h-12.2zM230.4 376l6.1 8.5h-12.2zM231.6 376.1l6.1 8.5h-12.2zM232.8 376.3l6.1 8.5h-12.2zM234 376l6.1 8.5h-12.2zM235.2 376l6.1 8.5h-12.2zM236.4 376.3l6.1 8.5h-12.2zM237.6 376.2l6.1 8.5h-12.2zM238.8 376.7l6.1 8.5h-12.2zM240 376.3l6.1 8.5h-12.2zM241.2 376.6l6.1 8.5h-12.2zM242.4 376.4l6.1 8.5h-12.2zM243.6 376l6.1 8.5h-12.2zM244.8 376.1l6.1 8.5h-12.2zM246 376l6.1 8.5h-12.2zM247.2 376.5l6.1 8.5h-12.2zM248.4 376.1l6.1 8.5h-12.2zM249.6 375.9l6.1 8.5h-12.2zM250.8 376.2l6.1 8.5h-12.2zM252 376.6l6.1 8.5h-12.2zM253.2 376.5l6.1 8.5h-12.2zM254.4 376.6l6.1 8.5h-12.2zM255.6 376.5l6.1 8.5h-12.2zM256.8 376.6l6.1 8.5h-12.2zM258 376l6.1 8.5h-12.2zM259.2 376.1l6.1 8.5h-12.2zM260.4 376.4l6.1 8.5h-12.2zM261.6 376.2l6.1 8.5h-12.2zM262.8 375.7l6.1 8.5h-12.2zM264 376.6l6.1 8.5h-12.2zM265.2 375.9l6.1 8.5h-12.2zM266.4 376.3l6.1 8.5h-12.2zM267.6 376.5l6.1 8.5h-12.2zM268.8 376.2l6.1 8.5h-12.2zM270 376.3l6.1 8.5h-12.2zM271.2 376.6l6.1 8.5h-12.2zM272.4 376.7l6.1 8.5h-12.2zM273.6 376.1l6.1 8.5h-12.2zM274.8 375.8l6.1 8.5h-12.2zM276 376.6l6.1 8.5h-12.2zM277.2 376.5l6.1 8.5h-12.2zM278.4 376l6.1 8.5h-12.2zM279.6 376.5l6.1 8.5h-12.2zM280.8 376.5l6.1 8.5h-12.2zM282 376l6.1 8.5h-12.2zM283.2 376.5l6.1 8.5h-12.2zM284.4 376.5l6.1 8.5h-12.2zM285.6 376.6l6.1 8.5h-12.2zM286.8 376.4l6.1 8.5h-12.2zM288 376.3l6.1 8.5h-12.2zM289.2 376.2l6.1 8.5h-12.2zM290.4 376.2l6.1 8.5h-12.2zM291.6 376.2l6.1 8.5h-12.2zM292.8 375.9l6.1 8.5h-12.2zM294 376.2l6.1 8.5h-12.2zM295.2 375.7l6.1 8.5h-12.2zM296.4 376.1l6.1 8.5h-12.2zM297.6 375.9l6.1 8.5h-12.2zM298.8 376.1l6.1 8.5h-12.2zM300 376.5l6.1 8.5h-12.2zM301.2 376.1l6.1 8.5h-12.2zM302.4 376.6l6.1 8.5h-12.2zM303.6 376.7l6.1 8.5h-12.2zM304.8 375.6l6.1 8.5h-12.2zM306 376.5l6.1 8.5h-12.2zM307.2 376.6l6.1 8.5h-12.2zM308.4 376l6.1 8.5h-12.2zM309.6 376.1l6.1 8.5h-12.2zM310.8 376l6.1 8.5h-12.2zM312 376.3l6.1 8.5h-12.2zM313.2 376.5l6.1 8.5h-12.2zM314.4 376.1l6.1 8.5h-12.2zM315.6 376.1l6.1 8.5h-12.2zM316.8 376.2l6.1 8.5h-12.2zM318 376.1l6.1 8.5h-12.2zM319.2 376l6.1 8.5h-12.2zM320.4 376.6l6.1 8.5h-12.2zM321.6 376.4l6.1 8.5h-12.2zM322.8 376l6.1 8.5h-12.2zM324 376.6l6.1 8.5h-12.2zM325.2 376l6.1 8.5h-12.2zM326.4 376.2l6.1 8.5h-12.2zM327.6 376.3l6.1 8.5h-12.2zM328.8 376.6l6.1 8.5h-12.2zM330 376.1l6.1 8.5h-12.2zM331.2 376.4l6.1 8.5h-12.2zM332.4 376l6.1 8.5h-12.2zM333.6 376.4l6.1 8.5h-12.2zM334.8 376l6.1 8.5h-12.2zM336 376.4l6.1 8.5h-12.2zM337.1 373.8l6.1 8.5h-12.2zM338.3 369.3l6.1 8.5h-12.2zM339.5 373.8l6.1 8.5h-12.2zM340.8 376.1l6.1 8.5h-12.2zM342 376.5l6.1 8.5h-12.2zM343.2 376.6l6.1 8.5h-12.2zM344.4 375.9l6.1 8.5h-12.2zM345.6 376.3l6.1 8.5h-12.2zM346.8 376.2l6.1 8.5h-12.2zM348 376.5l6.1 8.5h-12.2zM349.2 376.7l6.1 8.5h-12.2zM350.4 376l6.1 8.5h-12.2zM351.6 376.6l6.1 8.5h-12.2zM352.8 376l6.1 8.5h-12.2zM354 376.4l6.1 8.5h-12.2zM355.2 376.1l6.1 8.5h-12.2zM356.4 375.9l6.1 8.5h-12.2zM357.6 376l6.1 8.5h-12.2zM358.8 376.1l6.1 8.5h-12.2zM360 376.4l6.1 8.5h-12.2zM361.2 376.6l6.1 8.5h-12.2zM362.4 376.1l6.1 8.5h-12.2zM363.6 376.3l6.1 8.5h-12.2zM364.8 375.9l6.1 8.5h-12.2zM366 376.1l6.1 8.5h-12.2zM367.2 376.5l6.1 8.5h-12.2zM368.4 376.6l6.1 8.5h-12.2zM369.6 376.4l6.1 8.5h-12.2zM370.8 376l6.1 8.5h-12.2zM372 376l6.1 8.5h-12.2zM373.2 376l6.1 8.5h-12.2zM374.4 376.3l6.1 8.5h-12.2zM375.6 376l6.1 8.5h-12.2zM376.8 376.6l6.1 8.5h-12.2zM378 376.3l6.1 8.5h-12.2zM379.2 376l6.1 8.5h-12.2zM380.4 376.6l6.1 8.5h-12.2zM381.6 376.3l6.1 8.5h-12.2zM382.8 376.5l6.1 8.5h-12.2zM384 376.1l6.1 8.5h-12.2zM385.2 376.4l6.1 8.5h-12.2zM386.4 376l6.1 8.5h-12.2zM387.6 376.5l6.1 8.5h-12.2zM388.8 376.3l6.1 8.5h-12.2zM390 376.2l6.1 8.5h-12.2zM391.2 376.6l6.1 8.5h-12.2zM392.4 376.2l6.1 8.5h-12.2zM393.6 376.5l6.1 8.5h-12.2zM394.8 376l6.1 8.5h-12.2zM396 376.5l6.1 8.5h-12.2zM397.2 376.3l6.1 8.5h-12.2zM398.4 376l6.1 8.5h-12.2zM399.6 376l6.1 8.5h-12.2zM400.8 376.5l6.1 8.5h-12.2zM402 375.8l6.1 8.5h-12.2zM403.2 376l6.1 8.5h-12.2zM404.4 376l6.1 8.5h-12.2zM405.6 376.5l6.1 8.5h-12.2zM406.8 376.1l6.1 8.5h-12.2zM408 376.4l6.1 8.5h-12.2zM409.2 376.3l6.1 8.5h-12.2zM410.4 376.6l6.1 8.5h-12.2zM411.6 376.3l6.1 8.5h-12.2zM412.8 376.2l6.1 8.5h-12.2zM414 376.3l6.1 8.5h-12.2zM415.2 376.2l6.1 8.5h-12.2zM416.4 376.2l6.1 8.5h-12.2zM417.6 375.9l6.1 8.5h-12.2zM418.8 376.3l6.1 8.5h-12.2zM420 375.8l6.1 8.5h-12.2zM421.2 376.3l6.1 8.5h-12.2zM422.4 376.4l6.1 8.5h-12.2zM423.6 376.6l6.1 8.5h-12.2zM424.8 375.9l6.1 8.5h-12.2zM426 376l6.1 8.5h-12.2zM427.2 376.6l6.1 8.5h-12.2zM428.4 375.9l6.1 8.5h-12.2zM429.6 376.3l6.1 8.5h-12.2zM430.8 376.3l6.1 8.5h-12.2zM432 376.5l6.1 8.5h-12.2zM433.2 376.3l6.1 8.5h-12.2zM434.4 375.9l6.1 8.5h-12.2zM435.6 376l6.1 8.5h-12.2zM436.8 376.6l6.1 8.5h-12.2zM438 376l6.1 8.5h-12.2zM439.2 376.7l6.1 8.5h-12.2zM440.4 376.2l6.1 8.5h-12.2zM441.6 376l6.1 8.5h-12.2zM442.8 376.6l6.1 8.5h-12.2zM444 376l6.1 8.5h-12.2zM445.2 376.3l6.1 8.5h-12.2zM446.4 376.7l6.1 8.5h-12.2zM447.6 376.2l6.1 8.5h-12.2zM448.8 376.6l6.1 8.5h-12.2zM450 376.6l6.1 8.5h-12.2zM451.2 376.2l6.1 8.5h-12.2zM452.4 376.6l6.1 8.5h-12.2zM453.6 376.3l6.1 8.5h-12.2zM454.8 376.1l6.1 8.5h-12.2zM456 376.1l6.1 8.5h-12.2zM457.2 376l6.1 8.5h-12.2zM458.4 376.4l6.1 8.5h-12.2zM459.6 375.9l6.1 8.5h-12.2zM460.8 376.3l6.1 8.5h-12.2zM462 376.6l6.1 8.5h-12.2zM463.2 376.3l6.1 8.5h-12.2zM464.4 376.4l6.1 8.5h-12.2zM465.6 376.3l6.1 8.5h-12.2zM466.8 376.3l6.1 8.5h-12.2zM468 376l6.1 8.5h-12.2zM469.2 376l6.1 8.5h-12.2zM470.4 376.2l6.1 8.5h-12.2zM471.6 376l6.1 8.5h-12.2zM472.8 376.6l6.1 8.5h-12.2zM474 375.9l6.1 8.5h-12.2zM475.2 376l6.1 8.5h-12.2zM476.4 376.4l6.1 8.5h-12.2zM477.6 375.9l6.1 8.5h-12.2zM478.8 376.1l6.1 8.5h-12.2zM480 376.1l6.1 8.5h-12.2zM481.2 376l6.1 8.5h-12.2zM482.4 376.1l6.1 8.5h-12.2zM483.6 376l6.1 8.5h-12.2zM484.8 376.6l6.1 8.5h-12.2zM486 376.4l6.1 8.5h-12.2zM487.2 376.4l6.1 8.5h-12.2zM488.4 376.3l6.1 8.5h-12.2zM489.6 376.2l6.1 8.5h-12.2zM490.8 376.3l6.1 8.5h-12.2zM492 376.3l6.1 8.5h-12.2zM493.2 376.4l6.1 8.5h-12.2zM494.4 376.4l6.1 8.5h-12.2zM495.6 376.6l6.1 8.5h-12.2zM496.8 376.6l6.1 8.5h-12.2zM498 376.5l6.1 8.5h-12.2zM499.2 376.5l6.1 8.5h-12.2zM500.4 376.4l6.1 8.5h-12.2zM501.6 376l6.1 8.5h-12.2zM502.8 376l6.1 8.5h-12.2zM504 376.7l6.1 8.5h-12.2zM505.2 376.3l6.1 8.5h-12.2zM506.4 375.9l6.1 8.5h-12.2zM507.6 374.3l6.1 8.5h-12.2zM509.8 370.8l6.1 8.5h-12.2zM512 363.6l6.1 8.5h-12.2zM513.5 344.8l6.1 8.5h-12.2zM515.8 260.2l6.1 8.5h-12.2zM518.6 152.5l6.1 8.5h-12.2zM522 260.2l6.1 8.5h-12.2zM522.8 370.8l6.1 8.5h-12.2zM525.5 373.3l6.1 8.5h-12.2zM528.2 371l6.1 8.5h-12.2zM530.4 374.3l6.1 8.5h-12.2zM531.6 375.9l6.1 8.5h-12.2zM532.8 376.1l6.1 8.5h-12.2zM534 375.9l6.1 8.5h-12.2zM535.2 376.7l6.1 8.5h-12.2zM536.4 376.3l6.1 8.5h-12.2zM537.6 376.2l6.1 8.5h-12.2zM538.8 376.6l6.1 8.5h-12.2zM540 376.5l6.1 8.5h-12.2zM541.2 376.3l6.1 8.5h-12.2zM542.4 375.6l6.1 8.5h-12.2zM543.6 376.4l6.1 8.5h-12.2zM544.8 376.5l6.1 8.5h-12.2zM546 376.3l6.1 8.5h-12.2zM547.2 376l6.1 8.5h-12.2zM548.4 376.6l6.1 8.5h-12.2zM549.6 376.1l6.1 8.5h-12.2zM550.8 376.3l6.1 8.5h-12.2zM552 376.4l6.1 8.5h-12.2zM553.2 375.7l6.1 8.5h-12.2zM554.4 376l6.1 8.5h-12.2zM555.6 376.4l6.1 8.5h-12.2zM556.8 376.2l6.1 8.5h-12.2zM558 375.9l6.1 8.5h-12.2zM559.2 376.1l6.1 8.5h-12.2zM560.4 375.7l6.1 8.5h-12.2zM561.6 376.2l6.1 8.5h-12.2zM562.8 376.2l6.1 8.5h-12.2zM564 376.6l6.1 8.5h-12.2zM565.2 376.3l6.1 8.5h-12.2zM566.4 376.4l6.1 8.5h-12.2zM567.6 376.4l6.1 8.5h-12.2zM568.8 375.9l6.1 8.5h-12.2zM570 376.2l6.1 8.5h-12.2zM571.2 376.2l6.1 8.5h-12.2zM572.4 376.5l6.1 8.5h-12.2zM573.6 376.6l6.1 8.5h-12.2zM574.8 376.4l6.1 8.5h-12.2zM576 376l6.1 8.5h-12.2zM577.2 376l6.1 8.5h-12.2zM578.4 376.4l6.1 8.5h-12.2zM579.6 376.5l6.1 8.5h-12.2zM580.8 376l6.1 8.5h-12.2zM582 375.9l6.1 8.5h-12.2zM583.2 376.4l6.1 8.5h-12.2zM584.4 376.4l6.1 8.5h-12.2zM585.6 376l6.1 8.5h-12.2zM586.8 375.9l6.1 8.5h-12.2zM588 376.4l6.1 8.5h-12.2zM589.2 376.6l6.1 8.5h-12.2zM590.4 376.3l6.1 8.5h-12.2zM591.6 376.5l6.1 8.5h-12.2zM592.8 376.4l6.1 8.5h-12.2zM594 376.5l6.1 8.5h-12.2zM595.2 376.2l6.1 8.5h-12.2zM596.4 376.1l6.1 8.5h-12.2zM597.6 376.2l6.1 8.5h-12.2zM598.8 376.7l6.1 8.5h-12.2zM600 376.1l6.1 8.5h-12.2zM601.2 376.6l6.1 8.5h-12.2zM602.4 375.9l6.1 8.5h-12.2zM603.6 376.1l6.1 8.5h-12.2zM604.8 375.9l6.1 8.5h-12.2zM606 376.2l6.1 8.5h-12.2zM607.2 376.2l6.1 8.5h-12.2zM608.4 376.3l6.1 8.5h-12.2zM609.6 376.2l6.1 8.5h-12.2zM610.8 376.3l6.1 8.5h-12.2zM612 376l6.1 8.5h-12.2zM613.2 376.2l6.1 8.5h-12.2zM614.4 376.2l6.1 8.5h-12.2zM615.6 376.4l6.1 8.5h-12.2zM616.8 375.7l6.1 8.5h-12.2zM618 376l6.1 8.5h-12.2zM619.2 376.4l6.1 8.5h-12.2zM620.4 376.2l6.1 8.5h-12.2zM621.6 376.1l6.1 8.5h-12.2zM622.8 376.7l6.1 8.5h-12.2zM624 376.3l6.1 8.5h-12.2zM625.2 376.5l6.1 8.5h-12.2zM626.4 376.6l6.1 8.5h-12.2zM627.6 376.3l6.1 8.5h-12.2zM628.8 376.1l6.1 8.5h-12.2zM630 375.9l6.1 8.5h-12.2zM631.2 376.3l6.1 8.5h-12.2zM632.4 376.3l6.1 8.5h-12.2zM633.6 376.1l6.1 8.5h-12.2zM634.8 376.3l6.1 8.5h-12.2zM636 376.6l6.1 8.5h-12.2zM637.2 376.6l6.1 8.5h-12.2zM638.4 376l6.1 8.5h-12.2zM639.6 376.3l6.1 8.5h-12.2zM640.8 376.5l6.1 8.5h-12.2zM642 376.6l6.1 8.5h-12.2zM643.2 376.5l6.1 8.5h-12.2zM644.4 376.1l6.1 8.5h-12.2zM645.6 376l6.1 8.5h-12.2zM646.8 376.6l6.1 8.5h-12.2zM648 376.2l6.1 8.5h-12.2zM649.2 376l6.1 8.5h-12.2zM650.4 375.9l6.1 8.5h-12.2zM651.6 376.5l6.1 8.5h-12.2zM652.8 376.1l6.1 8.5h-12.2zM654 375.9l6.1 8.5h-12.2zM655.2 376.2l6.1 8.5h-12.2zM656.4 376.2l6.1 8.5h-12.2zM657.6 376l6.1 8.5h-12.2zM658.8 376.1l6.1 8.5h-12.2zM660 376l6.1 8.5h-12.2zM661.2 376.1l6.1 8.5h-12.2zM662.4 376.7l6.1 8.5h-12.2zM663.6 376.5l6.1 8.5h-12.2zM664.8 376.7l6.1 8.5h-12.2zM666 376.1l6.1 8.5h-12.2zM667.2 376.4l6.1 8.5h-12.2zM668.4 375.9l6.1 8.5h-12.2zM669.5 373.3l6.1 8.5h-12.2zM670.7 370.7l6.1 8.5h-12.2zM672.7 355.5l6.1 8.5h-12.2zM674.7 351.5l6.1 8.5h-12.2zM676.6 370.7l6.1 8.5h-12.2zM677.8 373.8l6.1 8.5h-12.2zM679.2 376.6l6.1 8.5h-12.2zM680.4 376.3l6.1 8.5h-12.2zM681.6 376l6.1 8.5h-12.2zM682.8 376.3l6.1 8.5h-12.2zM684 376.3l6.1 8.5h-12.2zM685.2 376.5l6.1 8.5h-12.2zM686.4 376.1l6.1 8.5h-12.2zM687.6 376.3l6.1 8.5h-12.2zM688.8 376.3l6.1 8.5h-12.2zM690 376.6l6.1 8.5h-12.2zM691.2 375.8l6.1 8.5h-12.2zM692.4 376.6l6.1 8.5h-12.2zM693.6 376.2l6.1 8.5h-12.2zM694.8 376.2l6.1 8.5h-12.2zM696 376.4l6.1 8.5h-12.2zM697.2 375.8l6.1 8.5h-12.2zM698.4 376.6l6.1 8.5h-12.2zM699.6 376.3l6.1 8.5h-12.2zM700.8 376.3l6.1 8.5h-12.2zM702 375.9l6.1 8.5h-12.2zM703.2 376.4l6.1 8.5h-12.2zM704.4 376.6l6.1 8.5h-12.2zM705.6 375.9l6.1 8.5h-12.2zM706.8 376.4l6.1 8.5h-12.2zM708 376.2l6.1 8.5h-12.2zM709.2 375.9l6.1 8.5h-12.2zM710.4 376.3l6.1 8.5h-12.2zM711.6 376.6l6.1 8.5h-12.2zM712.8 376.5l6.1 8.5h-12.2zM714 376.5l6.1 8.5h-12.2zM715.2 376.6l6.1 8.5h-12.2zM716.4 375.9l6.1 8.5h-12.2zM717.6 376.4l6.1 8.5h-12.2zM718.8 376.3l6.1 8.5h-12.2zM720 376l6.1 8.5h-12.2zM721.2 376.4l6.1 8.5h-12.2zM722.4 376.1l6.1 8.5h-12.2zM723.6 376.6l6.1 8.5h-12.2zM724.8 376.4l6.1 8.5h-12.2zM726 376.3l6.1 8.5h-12.2zM727.2 376.1l6.1 8.5h-12.2zM728.4 376.3l6.1 8.5h-12.2zM729.6 376.5l6.1 8.5h-12.2zM730.8 376.3l6.1 8.5h-12.2zM732 376.1l6.1 8.5h-12.2zM733.2 376.5l6.1 8.5h-12.2zM734.4 376.3l6.1 8.5h-12.2zM735.6 375.9l6.1 8.5h-12.2zM736.8 376.3l6.1 8.5h-12.2zM738 376l6.1 8.5h-12.2zM739.2 376.1l6.1 8.5h-12.2zM740.4 376.3l6.1 8.5h-12.2zM741.6 376.2l6.1 8.5h-12.2zM742.8 375.7l6.1 8.5h-12.2zM744 376.4l6.1 8.5h-12.2zM745.2 376.1l6.1 8.5h-12.2zM746.4 376.4l6.1 8.5h-12.2zM747.6 376.5l6.1 8.5h-12.2zM748.8 376.5l6.1 8.5h-12.2zM750 375.7l6.1 8.5h-12.2zM751.2 376.2l6.1 8.5h-12.2zM752.4 375.9l6.1 8.5h-12.2zM753.6 376.3l6.1 8.5h-12.2zM754.8 376l6.1 8.5h-12.2zM756 376.5l6.1 8.5h-12.2zM757.2 376l6.1 8.5h-12.2zM758.4 375.8l6.1 8.5h-12.2zM759.6 376.4l6.1 8.5h-12.2zM760.8 376l6.1 8.5h-12.2zM762 375.8l6.1 8.5h-12.2zM763.2 376l6.1 8.5h-12.2zM764.4 376l6.1 8.5h-12.2zM765.6 375.5l6.1 8.5h-12.2zM766.8 376l6.1 8.5h-12.2zM768 375.8l6.1 8.5h-12.2zM769.2 375.7l6.1 8.5h-12.2zM770.4 376l6.1 8.5h-12.2zM771.6 375.9l6.1 8.5h-12.2zM772.8 375.9l6.1 8.5h-12.2zM774 375.6l6.1 8.5h-12.2zM775.2 375.8l6.1 8.5h-12.2zM776.4 375.3l6.1 8.5h-12.2zM777.6 375.5l6.1 8.5h-12.2zM778.8 375.1l6.1 8.5h-12.2zM780 375.8l6.1 8.5h-12.2zM781.2 375.5l6.1 8.5h-12.2zM782.4 374.9l6.1 8.5h-12.2zM783.6 375l6.1 8.5h-12.2zM784.8 374.8l6.1 8.5h-12.2zM786 375.5l6.1 8.5h-12.2zM787.2 375l6.1 8.5h-12.2zM788.4 374.8l6.1 8.5h-12.2zM789.6 374.4l6.1 8.5h-12.2zM790.8 374.8l6.1 8.5h-12.2zM792 374.4l6.1 8.5h-12.2zM793.2 374.4l6.1 8.5h-12.2zM794.4 374.9l6.1 8.5h-12.2zM795.6 374.4l6.1 8.5h-12.2zM796.8 374.6l6.1 8.5h-12.2zM798 374.4l6.1 8.5h-12.2zM799.2 374.7l6.1 8.5h-12.2zM800.4 374.3l6.1 8.5h-12.2zM801.6 375l6.1 8.5h-12.2zM802.8 374.5l6.1 8.5h-12.2zM804 374.5l6.1 8.5h-12.2zM805.2 375.2l6.1 8.5h-12.2zM806.4 374.2l6.1 8.5h-12.2zM807.6 374.5l6.1 8.5h-12.2zM808.8 374.8l6.1 8.5h-12.2zM810 375.2l6.1 8.5h-12.2zM811.2 374.8l6.1 8.5h-12.2zM812.4 374.8l6.1 8.5h-12.2zM813.6 375.4l6.1 8.5h-12.2zM814.8 375.2l6.1 8.5h-12.2zM816 374.8l6.1 8.5h-12.2zM817.2 375.4l6.1 8.5h-12.2zM818.4 375.9l6.1 8.5h-12.2zM819.6 374.9l6.1 8.5h-12.2zM820.8 375.5l6.1 8.5h-12.2zM822 375.4l6.1 8.5h-12.2zM823.2 375.2l6.1 8.5h-12.2zM824.4 375.7l6.1 8.5h-12.2zM825.6 375.6l6.1 8.5h-12.2zM826.8 375.5l6.1 8.5h-12.2zM828 375.6l6.1 8.5h-12.2zM829.2 375.9l6.1 8.5h-12.2zM830.4 375.6l6.1 8.5h-12.2zM831.6 375.8l6.1 8.5h-12.2zM832.8 375.6l6.1 8.5h-12.2zM834 375.6l6.1 8.5h-12.2zM835.2 376l6.1 8.5h-12.2zM836.4 375.6l6.1 8.5h-12.2zM837.6 376l6.1 8.5h-12.2zM838.8 376.5l6.1 8.5h-12.2zM840 376.3l6.1 8.5h-12.2zM841.2 375.8l6.1 8.5h-12.2zM842.4 376.2l6.1 8.5h-12.2zM843.6 376.3l6.1 8.5h-12.2zM844.8 376.4l6.1 8.5h-12.2zM846 376.6l6.1 8.5h-12.2zM847.2 375.9l6.1 8.5h-12.2zM848.4 376l6.1 8.5h-12.2zM849.6 376.3l6.1 8.5h-12.2zM850.8 376l6.1 8.5h-12.2zM852 376.4l6.1 8.5h-12.2zM852.8 374.1l6.1 8.5h-12.2zM854 372.3l6.1 8.5h-12.2zM855.2 374.1l6.1 8.5h-12.2zM856.8 376.6l6.1 8.5h-12.2zM858 376.4l6.1 8.5h-12.2zM859.2 376.2l6.1 8.5h-12.2zM860.4 376.4l6.1 8.5h-12.2zM861.6 375.7l6.1 8.5h-12.2zM862.8 376.6l6.1 8.5h-12.2zM864 376.1l6.1 8.5h-12.2zM865.2 376.4l6.1 8.5h-12.2zM866.4 376.3l6.1 8.5h-12.2zM867.6 376.3l6.1 8.5h-12.2zM868.8 376.4l6.1 8.5h-12.2zM870 376.6l6.1 8.5h-12.2zM871.2 376.2l6.1 8.5h-12.2zM872.4 376.3l6.1 8.5h-12.2zM873.6 376l6.1 8.5h-12.2zM874.8 376.3l6.1 8.5h-12.2zM876 376.2l6.1 8.5h-12.2zM877.2 376.2l6.1 8.5h-12.2zM878.4 376.2l6.1 8.5h-12.2zM879.6 376.3l6.1 8.5h-12.2zM880.8 376.4l6.1 8.5h-12.2zM882 376.7l6.1 8.5h-12.2zM883.2 376.7l6.1 8.5h-12.2zM884.4 376l6.1 8.5h-12.2zM885.6 376.2l6.1 8.5h-12.2zM886.8 376l6.1 8.5h-12.2zM888 376.2l6.1 8.5h-12.2zM889.2 376l6.1 8.5h-12.2zM890.4 376l6.1 8.5h-12.2zM891.6 376.5l6.1 8.5h-12.2zM892.8 376.4l6.1 8.5h-12.2zM894 376.4l6.1 8.5h-12.2zM895.2 376.2l6.1 8.5h-12.2zM896.4 376.6l6.1 8.5h-12.2zM897.6 376.5l6.1 8.5h-12.2zM898.8 376.2l6.1 8.5h-12.2zM900 376.4l6.1 8.5h-12.2zM901.2 376l6.1 8.5h-12.2zM902.4 376.7l6.1 8.5h-12.2zM903.6 375.9l6.1 8.5h-12.2zM904.8 375.9l6.1 8.5h-12.2zM906 376.4l6.1 8.5h-12.2zM907.2 376l6.1 8.5h-12.2zM908.4 376.5l6.1 8.5h-12.2zM909.6 376.6l6.1 8.5h-12.2zM910.8 376.6l6.1 8.5h-12.2zM912 376l6.1 8.5h-12.2zM913.2 376l6.1 8.5h-12.2zM914.4 376.5l6.1 8.5h-12.2zM915.6 376l6.1 8.5h-12.2zM916.8 376.4l6.1 8.5h-12.2zM918 376.2l6.1 8.5h-12.2zM919.2 376l6.1 8.5h-12.2zM920.4 375.9l6.1 8.5h-12.2zM921.6 376.5l6.1 8.5h-12.2zM922.8 376.3l6.1 8.5h-12.2zM924 376.3l6.1 8.5h-12.2zM925.2 376.1l6.1 8.5h-12.2zM926.4 376.6l6.1 8.5h-12.2zM927.6 376.5l6.1 8.5h-12.2zM928.8 375.9l6.1 8.5h-12.2zM930 376l6.1 8.5h-12.2zM931.2 376.4l6.1 8.5h-12.2zM932.4 376l6.1 8.5h-12.2zM933.6 376.1l6.1 8.5h-12.2zM934.8 376.2l6.1 8.5h-12.2zM936 376.5l6.1 8.5h-12.2zM937.2 376.6l6.1 8.5h-12.2zM938.4 376.7l6.1 8.5h-12.2zM939.6 376.4l6.1 8.5h-12.2zM940.8 376.3l6.1 8.5h-12.2zM942 376.6l6.1 8.5h-12.2zM943.2 376.4l6.1 8.5h-12.2zM944.4 376.2l6.1 8.5h-12.2zM945.6 376l6.1 8.5h-12.2zM946.8 376.1l6.1 8.5h-12.2zM948 376.5l6.1 8.5h-12.2zM949.2 376.1l6.1 8.5h-12.2zM950.4 376.2l6.1 8.5h-12.2zM951.6 376.4l6.1 8.5h-12.2zM952.8 376.1l6.1 8.5h-12.2zM954 376.1l6.1 8.5h-12.2zM955.2 376l6.1 8.5h-12.2zM956.4 375.9l6.1 8.5h-12.2zM957.6 376.3l6.1 8.5h-12.2zM958.8 376l6.1 8.5h-12.2zM960 376.3l6.1 8.5h-12.2zM961.2 376.2l6.1 8.5h-12.2zM962.4 376l6.1 8.5h-12.2zM963.6 376.5l6.1 8.5h-12.2zM964.8 376.3l6.1 8.5h-12.2zM966 376.2l6.1 8.5h-12.2zM967.2 376.6l6.1 8.5h-12.2zM968.4 376.1l6.1 8.5h-12.2zM969.6 376.4l6.1 8.5h-12.2zM970.8 376.5l6.1 8.5h-12.2zM972 376l6.1 8.5h-12.2zM973.2 376.5l6.1 8.5h-12.2zM974.4 376.3l6.1 8.5h-12.2zM975.6 376.2l6.1 8.5h-12.2zM976.8 376.4l6.1 8.5h-12.2zM978 376.1l6.1 8.5h-12.2zM979.2 376.6l6.1 8.5h-12.2zM980.4 376.2l6.1 8.5h-12.2zM981.6 376.7l6.1 8.5h-12.2zM982.8 375.9l6.1 8.5h-12.2zM984 375.9l6.1 8.5h-12.2zM985.4 376.4l6.1 8.5h-12.2z" fill="none" stroke="#ff00ff" stroke-width="1.85" stroke-linejoin="miter"/>
</g>
<rect x="776.3" y="44.3" width="206.1" height="138" fill="#ffffff" stroke="#b2b2b2" stroke-width="1.1"/>
<line x1="783.9" y1="62.5" x2="823" y2="62.5" stroke="#0000ff" stroke-width="2.0" stroke-dasharray="5.5 2.6"/>
<path d="M800.4 58.5h8v8h-8z" fill="none" stroke="#0000ff" stroke-width="1.85"/>
<text x="829.5" y="71.5" font-size="27.3">Fi=79.9 Hz</text>
<line x1="783.9" y1="96.3" x2="823" y2="96.3" stroke="#007f00" stroke-width="2.0" stroke-dasharray="5.5 2.6"/>
<path d="M804.4 90.4l4.7 5.9l-4.7 5.9l-4.7 -5.9z" fill="none" stroke="#007f00" stroke-width="1.85"/>
<text x="829.5" y="105.3" font-size="27.3">Fi=125.5 Hz</text>
<line x1="783.9" y1="129.9" x2="823" y2="129.9" stroke="#ff0000" stroke-width="2.0"/>
<path d="M804.4 124.7v10.4M799.2 129.9h10.4M800.5 126l7.8 7.8M800.5 133.8l7.8 -7.8" fill="none" stroke="#ff0000" stroke-width="1.85"/>
<text x="829.5" y="138.9" font-size="27.3">Fi=175.8 Hz</text>
<line x1="783.9" y1="163.6" x2="823" y2="163.6" stroke="#ff00ff" stroke-width="2.0" stroke-dasharray="5.5 2.6"/>
<path d="M804.4 157.9l6.1 8.5h-12.2z" fill="none" stroke="#ff00ff" stroke-width="1.85"/>
<text x="829.5" y="172.6" font-size="27.3">Fi=200.1 Hz</text>
<text x="53.4" y="33.8" font-size="27">x 10</text>
<text x="103.2" y="18" font-size="17.5">-3</text>
<text x="518.3" y="19.2" font-size="27" text-anchor="middle" textLength="352.4" lengthAdjust="spacingAndGlyphs">Amplitude Spectrum: 2*fs + fi</text>
<text x="518.5" y="436.6" font-size="27.3" text-anchor="middle">Frequency (Hz)</text>
<text transform="translate(19.2 213) rotate(-90)" font-size="27" text-anchor="middle">Amplitude (A)</text>
</svg></body></html>
